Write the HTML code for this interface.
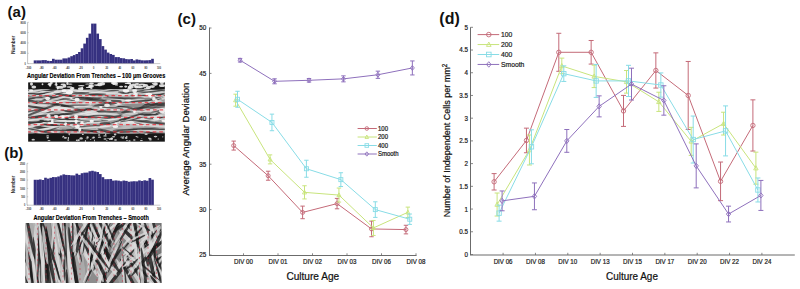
<!DOCTYPE html>
<html><head><meta charset="utf-8"><title>Figure</title>
<style>html,body{margin:0;padding:0;background:#fff;width:800px;height:289px;overflow:hidden}svg{display:block}svg text{font-family:"Liberation Sans",sans-serif}</style>
</head><body>
<svg width="800" height="289" viewBox="0 0 800 289">
<rect width="800" height="289" fill="#fff"/>
<defs><filter id="sb" filterUnits="userSpaceOnUse" x="0" y="0" width="800" height="289"><feGaussianBlur stdDeviation="0.3"/></filter></defs>
<text x="7.60" y="16.60" font-size="15" text-anchor="start" font-weight="bold" fill="#111" >(a)</text>
<rect x="33.72" y="60.40" width="2.66" height="3.20" fill="#36317f"/>
<rect x="36.33" y="60.40" width="2.66" height="3.20" fill="#36317f"/>
<rect x="38.94" y="60.40" width="2.66" height="3.20" fill="#36317f"/>
<rect x="41.55" y="60.10" width="2.66" height="3.50" fill="#36317f"/>
<rect x="44.16" y="60.10" width="2.66" height="3.50" fill="#36317f"/>
<rect x="46.77" y="60.80" width="2.66" height="2.80" fill="#36317f"/>
<rect x="49.38" y="61.00" width="2.66" height="2.60" fill="#36317f"/>
<rect x="51.99" y="58.80" width="2.66" height="4.80" fill="#36317f"/>
<rect x="54.60" y="59.70" width="2.66" height="3.90" fill="#36317f"/>
<rect x="57.21" y="59.70" width="2.66" height="3.90" fill="#36317f"/>
<rect x="59.82" y="59.70" width="2.66" height="3.90" fill="#36317f"/>
<rect x="62.43" y="58.40" width="2.66" height="5.20" fill="#36317f"/>
<rect x="65.04" y="58.40" width="2.66" height="5.20" fill="#36317f"/>
<rect x="67.65" y="57.50" width="2.66" height="6.10" fill="#36317f"/>
<rect x="70.26" y="56.20" width="2.66" height="7.40" fill="#36317f"/>
<rect x="72.87" y="55.10" width="2.66" height="8.50" fill="#36317f"/>
<rect x="75.48" y="54.00" width="2.66" height="9.60" fill="#36317f"/>
<rect x="78.09" y="52.00" width="2.66" height="11.60" fill="#36317f"/>
<rect x="80.70" y="48.30" width="2.66" height="15.30" fill="#36317f"/>
<rect x="83.31" y="43.60" width="2.66" height="20.00" fill="#36317f"/>
<rect x="85.92" y="37.80" width="2.66" height="25.80" fill="#36317f"/>
<rect x="88.53" y="33.60" width="2.66" height="30.00" fill="#36317f"/>
<rect x="91.14" y="23.60" width="2.66" height="40.00" fill="#36317f"/>
<rect x="93.75" y="23.60" width="2.66" height="40.00" fill="#36317f"/>
<rect x="96.36" y="33.60" width="2.66" height="30.00" fill="#36317f"/>
<rect x="98.97" y="39.10" width="2.66" height="24.50" fill="#36317f"/>
<rect x="101.58" y="46.10" width="2.66" height="17.50" fill="#36317f"/>
<rect x="104.19" y="49.60" width="2.66" height="14.00" fill="#36317f"/>
<rect x="106.80" y="52.60" width="2.66" height="11.00" fill="#36317f"/>
<rect x="109.41" y="54.00" width="2.66" height="9.60" fill="#36317f"/>
<rect x="112.02" y="54.90" width="2.66" height="8.70" fill="#36317f"/>
<rect x="114.63" y="57.10" width="2.66" height="6.50" fill="#36317f"/>
<rect x="117.24" y="57.10" width="2.66" height="6.50" fill="#36317f"/>
<rect x="119.85" y="58.10" width="2.66" height="5.50" fill="#36317f"/>
<rect x="122.46" y="58.30" width="2.66" height="5.30" fill="#36317f"/>
<rect x="125.07" y="59.10" width="2.66" height="4.50" fill="#36317f"/>
<rect x="127.68" y="59.30" width="2.66" height="4.30" fill="#36317f"/>
<rect x="130.29" y="59.00" width="2.66" height="4.60" fill="#36317f"/>
<rect x="132.90" y="60.40" width="2.66" height="3.20" fill="#36317f"/>
<rect x="135.51" y="59.40" width="2.66" height="4.20" fill="#36317f"/>
<rect x="138.12" y="59.80" width="2.66" height="3.80" fill="#36317f"/>
<rect x="140.73" y="60.30" width="2.66" height="3.30" fill="#36317f"/>
<rect x="143.34" y="60.40" width="2.66" height="3.20" fill="#36317f"/>
<rect x="145.95" y="60.30" width="2.66" height="3.30" fill="#36317f"/>
<rect x="148.56" y="60.10" width="2.66" height="3.50" fill="#36317f"/>
<rect x="151.17" y="58.80" width="2.66" height="4.80" fill="#36317f"/>
<line x1="36.33" y1="60.90" x2="36.33" y2="63.60" stroke="#47429a" stroke-width="0.3"/>
<line x1="38.94" y1="60.90" x2="38.94" y2="63.60" stroke="#47429a" stroke-width="0.3"/>
<line x1="41.55" y1="60.90" x2="41.55" y2="63.60" stroke="#47429a" stroke-width="0.3"/>
<line x1="44.16" y1="60.60" x2="44.16" y2="63.60" stroke="#47429a" stroke-width="0.3"/>
<line x1="46.77" y1="61.30" x2="46.77" y2="63.60" stroke="#47429a" stroke-width="0.3"/>
<line x1="49.38" y1="61.50" x2="49.38" y2="63.60" stroke="#47429a" stroke-width="0.3"/>
<line x1="51.99" y1="61.50" x2="51.99" y2="63.60" stroke="#47429a" stroke-width="0.3"/>
<line x1="54.60" y1="60.20" x2="54.60" y2="63.60" stroke="#47429a" stroke-width="0.3"/>
<line x1="57.21" y1="60.20" x2="57.21" y2="63.60" stroke="#47429a" stroke-width="0.3"/>
<line x1="59.82" y1="60.20" x2="59.82" y2="63.60" stroke="#47429a" stroke-width="0.3"/>
<line x1="62.43" y1="60.20" x2="62.43" y2="63.60" stroke="#47429a" stroke-width="0.3"/>
<line x1="65.04" y1="58.90" x2="65.04" y2="63.60" stroke="#47429a" stroke-width="0.3"/>
<line x1="67.65" y1="58.90" x2="67.65" y2="63.60" stroke="#47429a" stroke-width="0.3"/>
<line x1="70.26" y1="58.00" x2="70.26" y2="63.60" stroke="#47429a" stroke-width="0.3"/>
<line x1="72.87" y1="56.70" x2="72.87" y2="63.60" stroke="#47429a" stroke-width="0.3"/>
<line x1="75.48" y1="55.60" x2="75.48" y2="63.60" stroke="#47429a" stroke-width="0.3"/>
<line x1="78.09" y1="54.50" x2="78.09" y2="63.60" stroke="#47429a" stroke-width="0.3"/>
<line x1="80.70" y1="52.50" x2="80.70" y2="63.60" stroke="#47429a" stroke-width="0.3"/>
<line x1="83.31" y1="48.80" x2="83.31" y2="63.60" stroke="#47429a" stroke-width="0.3"/>
<line x1="85.92" y1="44.10" x2="85.92" y2="63.60" stroke="#47429a" stroke-width="0.3"/>
<line x1="88.53" y1="38.30" x2="88.53" y2="63.60" stroke="#47429a" stroke-width="0.3"/>
<line x1="91.14" y1="34.10" x2="91.14" y2="63.60" stroke="#47429a" stroke-width="0.3"/>
<line x1="93.75" y1="24.10" x2="93.75" y2="63.60" stroke="#47429a" stroke-width="0.3"/>
<line x1="96.36" y1="34.10" x2="96.36" y2="63.60" stroke="#47429a" stroke-width="0.3"/>
<line x1="98.97" y1="39.60" x2="98.97" y2="63.60" stroke="#47429a" stroke-width="0.3"/>
<line x1="101.58" y1="46.60" x2="101.58" y2="63.60" stroke="#47429a" stroke-width="0.3"/>
<line x1="104.19" y1="50.10" x2="104.19" y2="63.60" stroke="#47429a" stroke-width="0.3"/>
<line x1="106.80" y1="53.10" x2="106.80" y2="63.60" stroke="#47429a" stroke-width="0.3"/>
<line x1="109.41" y1="54.50" x2="109.41" y2="63.60" stroke="#47429a" stroke-width="0.3"/>
<line x1="112.02" y1="55.40" x2="112.02" y2="63.60" stroke="#47429a" stroke-width="0.3"/>
<line x1="114.63" y1="57.60" x2="114.63" y2="63.60" stroke="#47429a" stroke-width="0.3"/>
<line x1="117.24" y1="57.60" x2="117.24" y2="63.60" stroke="#47429a" stroke-width="0.3"/>
<line x1="119.85" y1="58.60" x2="119.85" y2="63.60" stroke="#47429a" stroke-width="0.3"/>
<line x1="122.46" y1="58.80" x2="122.46" y2="63.60" stroke="#47429a" stroke-width="0.3"/>
<line x1="125.07" y1="59.60" x2="125.07" y2="63.60" stroke="#47429a" stroke-width="0.3"/>
<line x1="127.68" y1="59.80" x2="127.68" y2="63.60" stroke="#47429a" stroke-width="0.3"/>
<line x1="130.29" y1="59.80" x2="130.29" y2="63.60" stroke="#47429a" stroke-width="0.3"/>
<line x1="132.90" y1="60.90" x2="132.90" y2="63.60" stroke="#47429a" stroke-width="0.3"/>
<line x1="135.51" y1="60.90" x2="135.51" y2="63.60" stroke="#47429a" stroke-width="0.3"/>
<line x1="138.12" y1="60.30" x2="138.12" y2="63.60" stroke="#47429a" stroke-width="0.3"/>
<line x1="140.73" y1="60.80" x2="140.73" y2="63.60" stroke="#47429a" stroke-width="0.3"/>
<line x1="143.34" y1="60.90" x2="143.34" y2="63.60" stroke="#47429a" stroke-width="0.3"/>
<line x1="145.95" y1="60.90" x2="145.95" y2="63.60" stroke="#47429a" stroke-width="0.3"/>
<line x1="148.56" y1="60.80" x2="148.56" y2="63.60" stroke="#47429a" stroke-width="0.3"/>
<line x1="151.17" y1="60.60" x2="151.17" y2="63.60" stroke="#47429a" stroke-width="0.3"/>
<line x1="27.6" y1="22.3" x2="27.6" y2="63.6" stroke="#999" stroke-width="0.6"/>
<line x1="27.6" y1="63.6" x2="160.31" y2="63.6" stroke="#aaa" stroke-width="0.6"/>
<line x1="27.6" y1="63.60" x2="28.8" y2="63.60" stroke="#999" stroke-width="0.5"/>
<text x="25.80" y="64.80" font-size="3.5" text-anchor="end" font-weight="bold" fill="#333" textLength="1.32" lengthAdjust="spacingAndGlyphs" >0</text>
<line x1="27.6" y1="53.28" x2="28.8" y2="53.28" stroke="#999" stroke-width="0.5"/>
<text x="25.80" y="54.48" font-size="3.5" text-anchor="end" font-weight="bold" fill="#333" textLength="5.28" lengthAdjust="spacingAndGlyphs" >2000</text>
<line x1="27.6" y1="42.95" x2="28.8" y2="42.95" stroke="#999" stroke-width="0.5"/>
<text x="25.80" y="44.15" font-size="3.5" text-anchor="end" font-weight="bold" fill="#333" textLength="5.28" lengthAdjust="spacingAndGlyphs" >4000</text>
<line x1="27.6" y1="32.62" x2="28.8" y2="32.62" stroke="#999" stroke-width="0.5"/>
<text x="25.80" y="33.83" font-size="3.5" text-anchor="end" font-weight="bold" fill="#333" textLength="5.28" lengthAdjust="spacingAndGlyphs" >6000</text>
<line x1="27.6" y1="22.30" x2="28.8" y2="22.30" stroke="#999" stroke-width="0.5"/>
<text x="25.80" y="23.50" font-size="3.5" text-anchor="end" font-weight="bold" fill="#333" textLength="5.28" lengthAdjust="spacingAndGlyphs" >8000</text>
<text x="28.50" y="68.60" font-size="3.5" text-anchor="middle" font-weight="bold" fill="#333" textLength="5.4" lengthAdjust="spacingAndGlyphs" >-100</text>
<text x="41.55" y="68.60" font-size="3.5" text-anchor="middle" font-weight="bold" fill="#333" textLength="4.05" lengthAdjust="spacingAndGlyphs" >-80</text>
<text x="54.60" y="68.60" font-size="3.5" text-anchor="middle" font-weight="bold" fill="#333" textLength="4.05" lengthAdjust="spacingAndGlyphs" >-60</text>
<text x="67.65" y="68.60" font-size="3.5" text-anchor="middle" font-weight="bold" fill="#333" textLength="4.05" lengthAdjust="spacingAndGlyphs" >-40</text>
<text x="80.70" y="68.60" font-size="3.5" text-anchor="middle" font-weight="bold" fill="#333" textLength="4.05" lengthAdjust="spacingAndGlyphs" >-20</text>
<text x="93.75" y="68.60" font-size="3.5" text-anchor="middle" font-weight="bold" fill="#333" textLength="1.35" lengthAdjust="spacingAndGlyphs" >0</text>
<text x="106.80" y="68.60" font-size="3.5" text-anchor="middle" font-weight="bold" fill="#333" textLength="2.7" lengthAdjust="spacingAndGlyphs" >20</text>
<text x="119.85" y="68.60" font-size="3.5" text-anchor="middle" font-weight="bold" fill="#333" textLength="2.7" lengthAdjust="spacingAndGlyphs" >40</text>
<text x="132.90" y="68.60" font-size="3.5" text-anchor="middle" font-weight="bold" fill="#333" textLength="2.7" lengthAdjust="spacingAndGlyphs" >60</text>
<text x="145.95" y="68.60" font-size="3.5" text-anchor="middle" font-weight="bold" fill="#333" textLength="2.7" lengthAdjust="spacingAndGlyphs" >80</text>
<text x="159.00" y="68.60" font-size="3.5" text-anchor="middle" font-weight="bold" fill="#333" textLength="4.05" lengthAdjust="spacingAndGlyphs" >100</text>
<text x="15.40" y="44.80" font-size="4.6" text-anchor="middle" font-weight="bold" fill="#333" textLength="18.6" lengthAdjust="spacingAndGlyphs" transform="rotate(-90 15.4 44.8)">Number</text>
<text x="27.10" y="78.00" font-size="6.7" text-anchor="start" font-weight="bold" fill="#000" stroke="#000" stroke-width="0.15" textLength="138.2" lengthAdjust="spacingAndGlyphs" >Angular Deviation From Trenches – 100 μm Grooves</text>
<clipPath id="clipa"><rect x="28.1" y="82.3" width="136.8" height="59.5"/></clipPath>
<filter id="bla" x="0" y="0" width="1" height="1"><feGaussianBlur stdDeviation="0.5"/></filter>
<g clip-path="url(#clipa)"><g filter="url(#bla)">
<rect x="28.1" y="82.3" width="136.8" height="59.5" fill="#9e9e9e"/>
<ellipse cx="72.4" cy="95.2" rx="9.0" ry="3.6" fill="#b8b8b8" opacity="0.7" transform="rotate(-4.4 72.4 95.2)"/>
<ellipse cx="97.5" cy="90.0" rx="13.9" ry="2.7" fill="#888" opacity="0.7" transform="rotate(-1.5 97.5 90.0)"/>
<ellipse cx="103.5" cy="91.0" rx="21.3" ry="3.9" fill="#b8b8b8" opacity="0.7" transform="rotate(-4.9 103.5 91.0)"/>
<ellipse cx="108.2" cy="90.6" rx="8.7" ry="4.6" fill="#c8c8c8" opacity="0.7" transform="rotate(-4.1 108.2 90.6)"/>
<ellipse cx="67.7" cy="94.9" rx="16.0" ry="3.7" fill="#b8b8b8" opacity="0.7" transform="rotate(-4.2 67.7 94.9)"/>
<ellipse cx="106.2" cy="96.8" rx="15.7" ry="2.2" fill="#b8b8b8" opacity="0.7" transform="rotate(-5.5 106.2 96.8)"/>
<ellipse cx="36.3" cy="97.7" rx="18.9" ry="3.4" fill="#888" opacity="0.7" transform="rotate(2.0 36.3 97.7)"/>
<ellipse cx="62.1" cy="96.5" rx="9.1" ry="2.9" fill="#c8c8c8" opacity="0.7" transform="rotate(-5.6 62.1 96.5)"/>
<ellipse cx="95.8" cy="103.9" rx="12.0" ry="4.9" fill="#888" opacity="0.7" transform="rotate(1.6 95.8 103.9)"/>
<ellipse cx="131.7" cy="95.2" rx="13.9" ry="4.9" fill="#888" opacity="0.7" transform="rotate(1.2 131.7 95.2)"/>
<ellipse cx="38.7" cy="113.7" rx="12.8" ry="3.1" fill="#7a7a7a" opacity="0.7" transform="rotate(-13.7 38.7 113.7)"/>
<ellipse cx="37.5" cy="92.6" rx="14.6" ry="4.0" fill="#7a7a7a" opacity="0.7" transform="rotate(-2.8 37.5 92.6)"/>
<ellipse cx="36.4" cy="120.2" rx="12.0" ry="3.2" fill="#888" opacity="0.7" transform="rotate(-3.6 36.4 120.2)"/>
<ellipse cx="91.3" cy="95.9" rx="14.9" ry="2.7" fill="#b8b8b8" opacity="0.7" transform="rotate(-4.1 91.3 95.9)"/>
<ellipse cx="67.4" cy="121.9" rx="13.5" ry="4.6" fill="#888" opacity="0.7" transform="rotate(2.7 67.4 121.9)"/>
<ellipse cx="103.3" cy="128.5" rx="20.1" ry="2.8" fill="#888" opacity="0.7" transform="rotate(0.2 103.3 128.5)"/>
<ellipse cx="84.9" cy="104.6" rx="21.4" ry="2.5" fill="#888" opacity="0.7" transform="rotate(-1.1 84.9 104.6)"/>
<ellipse cx="60.0" cy="110.4" rx="11.7" ry="2.0" fill="#c8c8c8" opacity="0.7" transform="rotate(0.9 60.0 110.4)"/>
<ellipse cx="85.4" cy="105.1" rx="21.3" ry="4.1" fill="#7a7a7a" opacity="0.7" transform="rotate(-11.3 85.4 105.1)"/>
<ellipse cx="120.6" cy="90.8" rx="13.6" ry="3.2" fill="#888" opacity="0.7" transform="rotate(-3.8 120.6 90.8)"/>
<ellipse cx="94.0" cy="106.5" rx="8.9" ry="2.6" fill="#c8c8c8" opacity="0.7" transform="rotate(-0.1 94.0 106.5)"/>
<ellipse cx="35.3" cy="88.3" rx="15.5" ry="4.8" fill="#c8c8c8" opacity="0.7" transform="rotate(1.7 35.3 88.3)"/>
<ellipse cx="112.1" cy="91.5" rx="16.6" ry="2.4" fill="#c8c8c8" opacity="0.7" transform="rotate(-3.1 112.1 91.5)"/>
<ellipse cx="77.9" cy="93.9" rx="21.9" ry="3.4" fill="#888" opacity="0.7" transform="rotate(2.5 77.9 93.9)"/>
<ellipse cx="94.3" cy="92.2" rx="18.5" ry="4.2" fill="#b8b8b8" opacity="0.7" transform="rotate(-12.1 94.3 92.2)"/>
<ellipse cx="98.7" cy="97.6" rx="10.1" ry="3.6" fill="#7a7a7a" opacity="0.7" transform="rotate(-1.8 98.7 97.6)"/>
<ellipse cx="31.8" cy="112.3" rx="17.7" ry="2.8" fill="#b8b8b8" opacity="0.7" transform="rotate(-5.4 31.8 112.3)"/>
<ellipse cx="133.7" cy="112.5" rx="16.9" ry="3.8" fill="#7a7a7a" opacity="0.7" transform="rotate(-0.3 133.7 112.5)"/>
<ellipse cx="136.0" cy="122.8" rx="19.3" ry="4.5" fill="#c8c8c8" opacity="0.7" transform="rotate(-3.3 136.0 122.8)"/>
<ellipse cx="98.9" cy="104.5" rx="21.9" ry="4.4" fill="#b8b8b8" opacity="0.7" transform="rotate(-7.3 98.9 104.5)"/>
<ellipse cx="92.7" cy="97.1" rx="14.3" ry="4.8" fill="#7a7a7a" opacity="0.7" transform="rotate(11.9 92.7 97.1)"/>
<ellipse cx="78.0" cy="98.3" rx="14.6" ry="3.0" fill="#c8c8c8" opacity="0.7" transform="rotate(-4.1 78.0 98.3)"/>
<ellipse cx="94.1" cy="133.1" rx="14.7" ry="4.0" fill="#b8b8b8" opacity="0.7" transform="rotate(-2.2 94.1 133.1)"/>
<ellipse cx="118.5" cy="129.7" rx="14.7" ry="2.5" fill="#c8c8c8" opacity="0.7" transform="rotate(-5.4 118.5 129.7)"/>
<ellipse cx="136.1" cy="103.4" rx="14.5" ry="4.2" fill="#888" opacity="0.7" transform="rotate(0.0 136.1 103.4)"/>
<ellipse cx="164.0" cy="89.6" rx="19.3" ry="2.4" fill="#888" opacity="0.7" transform="rotate(-1.2 164.0 89.6)"/>
<ellipse cx="141.2" cy="132.9" rx="10.2" ry="3.6" fill="#7a7a7a" opacity="0.7" transform="rotate(7.7 141.2 132.9)"/>
<ellipse cx="127.5" cy="93.0" rx="14.1" ry="4.6" fill="#c8c8c8" opacity="0.7" transform="rotate(-1.6 127.5 93.0)"/>
<ellipse cx="141.1" cy="97.9" rx="11.0" ry="3.5" fill="#7a7a7a" opacity="0.7" transform="rotate(-2.5 141.1 97.9)"/>
<ellipse cx="102.6" cy="126.3" rx="20.7" ry="3.1" fill="#b8b8b8" opacity="0.7" transform="rotate(-8.3 102.6 126.3)"/>
<ellipse cx="90.6" cy="117.0" rx="20.8" ry="0.9" fill="#e6e6e6" opacity="0.72" transform="rotate(4.2 90.6 117.0)"/>
<ellipse cx="90.8" cy="115.0" rx="19.8" ry="0.8" fill="#2c2c2c" opacity="0.72" transform="rotate(4.2 90.8 115.0)"/>
<ellipse cx="101.1" cy="114.2" rx="5.3" ry="1.0" fill="#e6e6e6" opacity="0.72" transform="rotate(-7.1 101.1 114.2)"/>
<ellipse cx="100.9" cy="112.2" rx="5.1" ry="0.8" fill="#2c2c2c" opacity="0.72" transform="rotate(-7.1 100.9 112.2)"/>
<ellipse cx="53.5" cy="89.0" rx="19.0" ry="0.7" fill="#e6e6e6" opacity="0.72" transform="rotate(-14.1 53.5 89.0)"/>
<ellipse cx="53.1" cy="87.5" rx="18.0" ry="0.6" fill="#2c2c2c" opacity="0.72" transform="rotate(-14.1 53.1 87.5)"/>
<ellipse cx="104.3" cy="105.0" rx="14.1" ry="1.1" fill="#e6e6e6" opacity="0.72" transform="rotate(-1.1 104.3 105.0)"/>
<ellipse cx="104.2" cy="102.8" rx="13.4" ry="0.9" fill="#2c2c2c" opacity="0.72" transform="rotate(-1.1 104.2 102.8)"/>
<ellipse cx="135.5" cy="94.1" rx="14.8" ry="0.7" fill="#e6e6e6" opacity="0.72" transform="rotate(-5.0 135.5 94.1)"/>
<ellipse cx="135.4" cy="92.3" rx="14.1" ry="0.6" fill="#2c2c2c" opacity="0.72" transform="rotate(-5.0 135.4 92.3)"/>
<ellipse cx="97.1" cy="116.7" rx="18.3" ry="1.5" fill="#e6e6e6" opacity="0.72" transform="rotate(8.9 97.1 116.7)"/>
<ellipse cx="97.6" cy="114.0" rx="17.4" ry="1.2" fill="#2c2c2c" opacity="0.72" transform="rotate(8.9 97.6 114.0)"/>
<ellipse cx="89.0" cy="118.5" rx="13.8" ry="1.0" fill="#e6e6e6" opacity="0.72" transform="rotate(-5.7 89.0 118.5)"/>
<ellipse cx="88.7" cy="116.4" rx="13.2" ry="0.9" fill="#2c2c2c" opacity="0.72" transform="rotate(-5.7 88.7 116.4)"/>
<ellipse cx="101.5" cy="112.4" rx="21.5" ry="1.2" fill="#e6e6e6" opacity="0.72" transform="rotate(-10.2 101.5 112.4)"/>
<ellipse cx="101.1" cy="110.0" rx="20.4" ry="1.0" fill="#2c2c2c" opacity="0.72" transform="rotate(-10.2 101.1 110.0)"/>
<ellipse cx="147.6" cy="134.2" rx="9.5" ry="1.1" fill="#e6e6e6" opacity="0.72" transform="rotate(9.6 147.6 134.2)"/>
<ellipse cx="148.0" cy="132.1" rx="9.1" ry="0.9" fill="#2c2c2c" opacity="0.72" transform="rotate(9.6 148.0 132.1)"/>
<ellipse cx="47.1" cy="94.5" rx="12.7" ry="0.6" fill="#e6e6e6" opacity="0.72" transform="rotate(-7.7 47.1 94.5)"/>
<ellipse cx="46.9" cy="93.1" rx="12.1" ry="0.5" fill="#2c2c2c" opacity="0.72" transform="rotate(-7.7 46.9 93.1)"/>
<ellipse cx="61.0" cy="93.4" rx="16.7" ry="1.3" fill="#e6e6e6" opacity="0.72" transform="rotate(0.2 61.0 93.4)"/>
<ellipse cx="61.0" cy="90.8" rx="15.9" ry="1.1" fill="#2c2c2c" opacity="0.72" transform="rotate(0.2 61.0 90.8)"/>
<ellipse cx="126.3" cy="121.4" rx="7.5" ry="1.4" fill="#e6e6e6" opacity="0.72" transform="rotate(-5.4 126.3 121.4)"/>
<ellipse cx="126.1" cy="118.7" rx="7.1" ry="1.2" fill="#2c2c2c" opacity="0.72" transform="rotate(-5.4 126.1 118.7)"/>
<ellipse cx="161.3" cy="99.5" rx="21.7" ry="0.9" fill="#e6e6e6" opacity="0.72" transform="rotate(-24.1 161.3 99.5)"/>
<ellipse cx="160.5" cy="97.7" rx="20.6" ry="0.8" fill="#2c2c2c" opacity="0.72" transform="rotate(-24.1 160.5 97.7)"/>
<ellipse cx="142.0" cy="97.1" rx="12.6" ry="1.0" fill="#e6e6e6" opacity="0.72" transform="rotate(-1.3 142.0 97.1)"/>
<ellipse cx="142.0" cy="95.0" rx="11.9" ry="0.9" fill="#2c2c2c" opacity="0.72" transform="rotate(-1.3 142.0 95.0)"/>
<ellipse cx="74.2" cy="99.1" rx="10.6" ry="1.3" fill="#e6e6e6" opacity="0.72" transform="rotate(5.8 74.2 99.1)"/>
<ellipse cx="74.5" cy="96.6" rx="10.0" ry="1.0" fill="#2c2c2c" opacity="0.72" transform="rotate(5.8 74.5 96.6)"/>
<ellipse cx="88.4" cy="90.5" rx="10.8" ry="1.2" fill="#e6e6e6" opacity="0.72" transform="rotate(-1.9 88.4 90.5)"/>
<ellipse cx="88.4" cy="88.2" rx="10.3" ry="1.0" fill="#2c2c2c" opacity="0.72" transform="rotate(-1.9 88.4 88.2)"/>
<ellipse cx="98.2" cy="93.0" rx="22.2" ry="1.3" fill="#e6e6e6" opacity="0.72" transform="rotate(0.2 98.2 93.0)"/>
<ellipse cx="98.2" cy="90.4" rx="21.1" ry="1.1" fill="#2c2c2c" opacity="0.72" transform="rotate(0.2 98.2 90.4)"/>
<ellipse cx="64.5" cy="90.9" rx="18.6" ry="0.8" fill="#e6e6e6" opacity="0.72" transform="rotate(-3.6 64.5 90.9)"/>
<ellipse cx="64.4" cy="89.2" rx="17.7" ry="0.6" fill="#2c2c2c" opacity="0.72" transform="rotate(-3.6 64.4 89.2)"/>
<ellipse cx="46.0" cy="110.0" rx="20.9" ry="1.4" fill="#e6e6e6" opacity="0.72" transform="rotate(-3.2 46.0 110.0)"/>
<ellipse cx="45.8" cy="107.4" rx="19.9" ry="1.1" fill="#2c2c2c" opacity="0.72" transform="rotate(-3.2 45.8 107.4)"/>
<ellipse cx="153.8" cy="115.9" rx="17.3" ry="0.6" fill="#e6e6e6" opacity="0.72" transform="rotate(1.0 153.8 115.9)"/>
<ellipse cx="153.8" cy="114.4" rx="16.4" ry="0.5" fill="#2c2c2c" opacity="0.72" transform="rotate(1.0 153.8 114.4)"/>
<ellipse cx="35.8" cy="121.4" rx="12.4" ry="0.6" fill="#e6e6e6" opacity="0.72" transform="rotate(6.2 35.8 121.4)"/>
<ellipse cx="36.0" cy="120.0" rx="11.8" ry="0.5" fill="#2c2c2c" opacity="0.72" transform="rotate(6.2 36.0 120.0)"/>
<ellipse cx="137.9" cy="92.7" rx="20.0" ry="0.6" fill="#e6e6e6" opacity="0.72" transform="rotate(-6.8 137.9 92.7)"/>
<ellipse cx="137.8" cy="91.3" rx="19.0" ry="0.5" fill="#2c2c2c" opacity="0.72" transform="rotate(-6.8 137.8 91.3)"/>
<ellipse cx="146.1" cy="111.1" rx="10.9" ry="1.1" fill="#e6e6e6" opacity="0.72" transform="rotate(2.0 146.1 111.1)"/>
<ellipse cx="146.1" cy="108.9" rx="10.4" ry="0.9" fill="#2c2c2c" opacity="0.72" transform="rotate(2.0 146.1 108.9)"/>
<ellipse cx="45.9" cy="113.8" rx="9.2" ry="0.6" fill="#e6e6e6" opacity="0.72" transform="rotate(-5.5 45.9 113.8)"/>
<ellipse cx="45.8" cy="112.3" rx="8.7" ry="0.5" fill="#2c2c2c" opacity="0.72" transform="rotate(-5.5 45.8 112.3)"/>
<ellipse cx="50.4" cy="91.5" rx="8.5" ry="0.8" fill="#e6e6e6" opacity="0.72" transform="rotate(-7.0 50.4 91.5)"/>
<ellipse cx="50.2" cy="89.7" rx="8.1" ry="0.7" fill="#2c2c2c" opacity="0.72" transform="rotate(-7.0 50.2 89.7)"/>
<ellipse cx="67.5" cy="112.9" rx="8.1" ry="0.9" fill="#e6e6e6" opacity="0.72" transform="rotate(8.1 67.5 112.9)"/>
<ellipse cx="67.8" cy="111.1" rx="7.7" ry="0.7" fill="#2c2c2c" opacity="0.72" transform="rotate(8.1 67.8 111.1)"/>
<ellipse cx="30.9" cy="101.7" rx="5.3" ry="1.3" fill="#e6e6e6" opacity="0.72" transform="rotate(-7.3 30.9 101.7)"/>
<ellipse cx="30.6" cy="99.2" rx="5.0" ry="1.1" fill="#2c2c2c" opacity="0.72" transform="rotate(-7.3 30.6 99.2)"/>
<ellipse cx="93.3" cy="134.3" rx="6.9" ry="1.4" fill="#e6e6e6" opacity="0.72" transform="rotate(-4.4 93.3 134.3)"/>
<ellipse cx="93.0" cy="131.7" rx="6.5" ry="1.1" fill="#2c2c2c" opacity="0.72" transform="rotate(-4.4 93.0 131.7)"/>
<ellipse cx="87.7" cy="112.7" rx="19.6" ry="0.9" fill="#e6e6e6" opacity="0.72" transform="rotate(-13.7 87.7 112.7)"/>
<ellipse cx="87.2" cy="110.8" rx="18.6" ry="0.8" fill="#2c2c2c" opacity="0.72" transform="rotate(-13.7 87.2 110.8)"/>
<ellipse cx="162.6" cy="106.0" rx="19.6" ry="1.2" fill="#e6e6e6" opacity="0.72" transform="rotate(-3.4 162.6 106.0)"/>
<ellipse cx="162.5" cy="103.6" rx="18.6" ry="1.0" fill="#2c2c2c" opacity="0.72" transform="rotate(-3.4 162.5 103.6)"/>
<ellipse cx="115.1" cy="107.9" rx="11.1" ry="0.5" fill="#e6e6e6" opacity="0.72" transform="rotate(-1.2 115.1 107.9)"/>
<ellipse cx="115.1" cy="106.5" rx="10.5" ry="0.4" fill="#2c2c2c" opacity="0.72" transform="rotate(-1.2 115.1 106.5)"/>
<ellipse cx="129.5" cy="100.9" rx="7.9" ry="0.6" fill="#e6e6e6" opacity="0.72" transform="rotate(-1.0 129.5 100.9)"/>
<ellipse cx="129.5" cy="99.4" rx="7.5" ry="0.5" fill="#2c2c2c" opacity="0.72" transform="rotate(-1.0 129.5 99.4)"/>
<ellipse cx="143.3" cy="130.4" rx="16.7" ry="0.8" fill="#e6e6e6" opacity="0.72" transform="rotate(-2.7 143.3 130.4)"/>
<ellipse cx="143.2" cy="128.7" rx="15.9" ry="0.7" fill="#2c2c2c" opacity="0.72" transform="rotate(-2.7 143.2 128.7)"/>
<ellipse cx="90.9" cy="96.5" rx="12.8" ry="0.8" fill="#e6e6e6" opacity="0.72" transform="rotate(2.8 90.9 96.5)"/>
<ellipse cx="91.0" cy="94.8" rx="12.2" ry="0.6" fill="#2c2c2c" opacity="0.72" transform="rotate(2.8 91.0 94.8)"/>
<ellipse cx="159.6" cy="135.2" rx="14.6" ry="0.7" fill="#e6e6e6" opacity="0.72" transform="rotate(2.9 159.6 135.2)"/>
<ellipse cx="159.7" cy="133.5" rx="13.8" ry="0.6" fill="#2c2c2c" opacity="0.72" transform="rotate(2.9 159.7 133.5)"/>
<ellipse cx="77.0" cy="89.4" rx="11.7" ry="1.0" fill="#e6e6e6" opacity="0.72" transform="rotate(-4.3 77.0 89.4)"/>
<ellipse cx="76.9" cy="87.4" rx="11.1" ry="0.8" fill="#2c2c2c" opacity="0.72" transform="rotate(-4.3 76.9 87.4)"/>
<ellipse cx="97.0" cy="98.2" rx="13.8" ry="0.5" fill="#e6e6e6" opacity="0.72" transform="rotate(-3.3 97.0 98.2)"/>
<ellipse cx="96.9" cy="96.8" rx="13.1" ry="0.4" fill="#2c2c2c" opacity="0.72" transform="rotate(-3.3 96.9 96.8)"/>
<ellipse cx="82.8" cy="91.1" rx="5.4" ry="0.8" fill="#e6e6e6" opacity="0.72" transform="rotate(0.0 82.8 91.1)"/>
<ellipse cx="82.8" cy="89.3" rx="5.1" ry="0.7" fill="#2c2c2c" opacity="0.72" transform="rotate(0.0 82.8 89.3)"/>
<ellipse cx="60.3" cy="117.6" rx="14.3" ry="1.3" fill="#e6e6e6" opacity="0.72" transform="rotate(-9.1 60.3 117.6)"/>
<ellipse cx="59.9" cy="115.1" rx="13.5" ry="1.1" fill="#2c2c2c" opacity="0.72" transform="rotate(-9.1 59.9 115.1)"/>
<ellipse cx="149.0" cy="108.7" rx="10.7" ry="1.5" fill="#e6e6e6" opacity="0.72" transform="rotate(-12.3 149.0 108.7)"/>
<ellipse cx="148.4" cy="105.8" rx="10.2" ry="1.3" fill="#2c2c2c" opacity="0.72" transform="rotate(-12.3 148.4 105.8)"/>
<ellipse cx="48.4" cy="123.1" rx="16.3" ry="0.5" fill="#e6e6e6" opacity="0.72" transform="rotate(4.5 48.4 123.1)"/>
<ellipse cx="48.5" cy="121.7" rx="15.4" ry="0.4" fill="#2c2c2c" opacity="0.72" transform="rotate(4.5 48.5 121.7)"/>
<ellipse cx="114.3" cy="123.6" rx="19.2" ry="0.6" fill="#e6e6e6" opacity="0.72" transform="rotate(-15.7 114.3 123.6)"/>
<ellipse cx="113.9" cy="122.2" rx="18.3" ry="0.5" fill="#2c2c2c" opacity="0.72" transform="rotate(-15.7 113.9 122.2)"/>
<ellipse cx="99.7" cy="113.9" rx="19.6" ry="1.3" fill="#e6e6e6" opacity="0.72" transform="rotate(1.3 99.7 113.9)"/>
<ellipse cx="99.7" cy="111.3" rx="18.6" ry="1.1" fill="#2c2c2c" opacity="0.72" transform="rotate(1.3 99.7 111.3)"/>
<ellipse cx="150.6" cy="121.4" rx="17.1" ry="0.7" fill="#e6e6e6" opacity="0.72" transform="rotate(-11.2 150.6 121.4)"/>
<ellipse cx="150.2" cy="119.7" rx="16.3" ry="0.6" fill="#2c2c2c" opacity="0.72" transform="rotate(-11.2 150.2 119.7)"/>
<ellipse cx="32.3" cy="95.1" rx="11.3" ry="0.6" fill="#e6e6e6" opacity="0.72" transform="rotate(1.6 32.3 95.1)"/>
<ellipse cx="32.4" cy="93.6" rx="10.7" ry="0.5" fill="#2c2c2c" opacity="0.72" transform="rotate(1.6 32.4 93.6)"/>
<ellipse cx="114.4" cy="119.1" rx="16.9" ry="1.0" fill="#e6e6e6" opacity="0.72" transform="rotate(-10.7 114.4 119.1)"/>
<ellipse cx="114.0" cy="117.0" rx="16.1" ry="0.8" fill="#2c2c2c" opacity="0.72" transform="rotate(-10.7 114.0 117.0)"/>
<ellipse cx="29.0" cy="127.3" rx="18.1" ry="1.0" fill="#e6e6e6" opacity="0.72" transform="rotate(-13.0 29.0 127.3)"/>
<ellipse cx="28.6" cy="125.2" rx="17.2" ry="0.9" fill="#2c2c2c" opacity="0.72" transform="rotate(-13.0 28.6 125.2)"/>
<ellipse cx="37.3" cy="123.7" rx="9.4" ry="0.6" fill="#e6e6e6" opacity="0.72" transform="rotate(-5.3 37.3 123.7)"/>
<ellipse cx="37.1" cy="122.3" rx="8.9" ry="0.5" fill="#2c2c2c" opacity="0.72" transform="rotate(-5.3 37.1 122.3)"/>
<ellipse cx="64.2" cy="124.5" rx="8.6" ry="1.3" fill="#e6e6e6" opacity="0.72" transform="rotate(5.1 64.2 124.5)"/>
<ellipse cx="64.4" cy="121.9" rx="8.2" ry="1.1" fill="#2c2c2c" opacity="0.72" transform="rotate(5.1 64.4 121.9)"/>
<ellipse cx="80.6" cy="112.6" rx="17.0" ry="1.3" fill="#e6e6e6" opacity="0.72" transform="rotate(-4.2 80.6 112.6)"/>
<ellipse cx="80.4" cy="110.1" rx="16.1" ry="1.1" fill="#2c2c2c" opacity="0.72" transform="rotate(-4.2 80.4 110.1)"/>
<ellipse cx="112.6" cy="119.4" rx="6.4" ry="0.6" fill="#e6e6e6" opacity="0.72" transform="rotate(-3.3 112.6 119.4)"/>
<ellipse cx="112.5" cy="117.8" rx="6.0" ry="0.5" fill="#2c2c2c" opacity="0.72" transform="rotate(-3.3 112.5 117.8)"/>
<ellipse cx="69.5" cy="115.7" rx="5.2" ry="0.5" fill="#e6e6e6" opacity="0.72" transform="rotate(8.5 69.5 115.7)"/>
<ellipse cx="69.7" cy="114.3" rx="5.0" ry="0.5" fill="#2c2c2c" opacity="0.72" transform="rotate(8.5 69.7 114.3)"/>
<ellipse cx="65.1" cy="121.6" rx="17.1" ry="1.2" fill="#e6e6e6" opacity="0.72" transform="rotate(-5.1 65.1 121.6)"/>
<ellipse cx="64.9" cy="119.2" rx="16.3" ry="1.0" fill="#2c2c2c" opacity="0.72" transform="rotate(-5.1 64.9 119.2)"/>
<ellipse cx="91.4" cy="112.2" rx="7.1" ry="1.4" fill="#e6e6e6" opacity="0.72" transform="rotate(5.2 91.4 112.2)"/>
<ellipse cx="91.7" cy="109.5" rx="6.7" ry="1.2" fill="#2c2c2c" opacity="0.72" transform="rotate(5.2 91.7 109.5)"/>
<ellipse cx="55.7" cy="135.1" rx="21.4" ry="0.5" fill="#e6e6e6" opacity="0.72" transform="rotate(-15.5 55.7 135.1)"/>
<ellipse cx="55.4" cy="133.8" rx="20.3" ry="0.4" fill="#2c2c2c" opacity="0.72" transform="rotate(-15.5 55.4 133.8)"/>
<ellipse cx="160.5" cy="110.3" rx="9.7" ry="0.7" fill="#e6e6e6" opacity="0.72" transform="rotate(0.3 160.5 110.3)"/>
<ellipse cx="160.5" cy="108.6" rx="9.2" ry="0.6" fill="#2c2c2c" opacity="0.72" transform="rotate(0.3 160.5 108.6)"/>
<ellipse cx="158.0" cy="98.8" rx="15.2" ry="0.6" fill="#e6e6e6" opacity="0.72" transform="rotate(-20.1 158.0 98.8)"/>
<ellipse cx="157.5" cy="97.3" rx="14.4" ry="0.5" fill="#2c2c2c" opacity="0.72" transform="rotate(-20.1 157.5 97.3)"/>
<ellipse cx="46.5" cy="129.0" rx="13.9" ry="1.4" fill="#e6e6e6" opacity="0.72" transform="rotate(-5.6 46.5 129.0)"/>
<ellipse cx="46.2" cy="126.3" rx="13.2" ry="1.2" fill="#2c2c2c" opacity="0.72" transform="rotate(-5.6 46.2 126.3)"/>
<ellipse cx="124.4" cy="100.4" rx="20.7" ry="1.0" fill="#e6e6e6" opacity="0.72" transform="rotate(-2.4 124.4 100.4)"/>
<ellipse cx="124.3" cy="98.3" rx="19.7" ry="0.8" fill="#2c2c2c" opacity="0.72" transform="rotate(-2.4 124.3 98.3)"/>
<ellipse cx="95.4" cy="110.3" rx="10.3" ry="0.6" fill="#e6e6e6" opacity="0.72" transform="rotate(-2.9 95.4 110.3)"/>
<ellipse cx="95.4" cy="108.7" rx="9.8" ry="0.5" fill="#2c2c2c" opacity="0.72" transform="rotate(-2.9 95.4 108.7)"/>
<ellipse cx="75.2" cy="103.6" rx="19.7" ry="0.5" fill="#e6e6e6" opacity="0.72" transform="rotate(-2.9 75.2 103.6)"/>
<ellipse cx="75.2" cy="102.3" rx="18.7" ry="0.4" fill="#2c2c2c" opacity="0.72" transform="rotate(-2.9 75.2 102.3)"/>
<ellipse cx="45.3" cy="134.0" rx="17.5" ry="1.5" fill="#e6e6e6" opacity="0.72" transform="rotate(-16.4 45.3 134.0)"/>
<ellipse cx="44.5" cy="131.3" rx="16.6" ry="1.2" fill="#2c2c2c" opacity="0.72" transform="rotate(-16.4 44.5 131.3)"/>
<ellipse cx="68.2" cy="107.9" rx="11.9" ry="1.6" fill="#e6e6e6" opacity="0.72" transform="rotate(-8.6 68.2 107.9)"/>
<ellipse cx="67.7" cy="105.0" rx="11.3" ry="1.3" fill="#2c2c2c" opacity="0.72" transform="rotate(-8.6 67.7 105.0)"/>
<ellipse cx="86.8" cy="101.8" rx="5.8" ry="0.6" fill="#e6e6e6" opacity="0.72" transform="rotate(-6.5 86.8 101.8)"/>
<ellipse cx="86.7" cy="100.4" rx="5.6" ry="0.5" fill="#2c2c2c" opacity="0.72" transform="rotate(-6.5 86.7 100.4)"/>
<ellipse cx="142.4" cy="102.6" rx="21.4" ry="0.7" fill="#e6e6e6" opacity="0.72" transform="rotate(-3.8 142.4 102.6)"/>
<ellipse cx="142.3" cy="100.9" rx="20.3" ry="0.6" fill="#2c2c2c" opacity="0.72" transform="rotate(-3.8 142.3 100.9)"/>
<ellipse cx="53.8" cy="107.8" rx="21.7" ry="1.4" fill="#e6e6e6" opacity="0.72" transform="rotate(5.3 53.8 107.8)"/>
<ellipse cx="54.1" cy="105.0" rx="20.6" ry="1.2" fill="#2c2c2c" opacity="0.72" transform="rotate(5.3 54.1 105.0)"/>
<ellipse cx="139.8" cy="120.0" rx="21.0" ry="1.5" fill="#e6e6e6" opacity="0.72" transform="rotate(-13.6 139.8 120.0)"/>
<ellipse cx="139.2" cy="117.3" rx="19.9" ry="1.2" fill="#2c2c2c" opacity="0.72" transform="rotate(-13.6 139.2 117.3)"/>
<ellipse cx="35.2" cy="124.6" rx="12.9" ry="1.3" fill="#e6e6e6" opacity="0.72" transform="rotate(-6.4 35.2 124.6)"/>
<ellipse cx="34.9" cy="122.1" rx="12.2" ry="1.1" fill="#2c2c2c" opacity="0.72" transform="rotate(-6.4 34.9 122.1)"/>
<ellipse cx="116.1" cy="103.7" rx="5.9" ry="1.5" fill="#e6e6e6" opacity="0.72" transform="rotate(2.5 116.1 103.7)"/>
<ellipse cx="116.3" cy="100.9" rx="5.6" ry="1.2" fill="#2c2c2c" opacity="0.72" transform="rotate(2.5 116.3 100.9)"/>
<ellipse cx="75.0" cy="104.3" rx="17.9" ry="1.5" fill="#e6e6e6" opacity="0.72" transform="rotate(2.7 75.0 104.3)"/>
<ellipse cx="75.1" cy="101.4" rx="17.0" ry="1.3" fill="#2c2c2c" opacity="0.72" transform="rotate(2.7 75.1 101.4)"/>
<ellipse cx="63.9" cy="120.7" rx="10.3" ry="1.1" fill="#e6e6e6" opacity="0.72" transform="rotate(-6.3 63.9 120.7)"/>
<ellipse cx="63.7" cy="118.5" rx="9.8" ry="0.9" fill="#2c2c2c" opacity="0.72" transform="rotate(-6.3 63.7 118.5)"/>
<ellipse cx="50.2" cy="99.3" rx="20.9" ry="1.0" fill="#e6e6e6" opacity="0.72" transform="rotate(-0.4 50.2 99.3)"/>
<ellipse cx="50.2" cy="97.2" rx="19.8" ry="0.8" fill="#2c2c2c" opacity="0.72" transform="rotate(-0.4 50.2 97.2)"/>
<ellipse cx="58.2" cy="132.4" rx="22.4" ry="1.0" fill="#e6e6e6" opacity="0.72" transform="rotate(-0.1 58.2 132.4)"/>
<ellipse cx="58.2" cy="130.3" rx="21.3" ry="0.8" fill="#2c2c2c" opacity="0.72" transform="rotate(-0.1 58.2 130.3)"/>
<ellipse cx="40.5" cy="105.3" rx="6.6" ry="0.7" fill="#e6e6e6" opacity="0.72" transform="rotate(0.5 40.5 105.3)"/>
<ellipse cx="40.5" cy="103.5" rx="6.3" ry="0.6" fill="#2c2c2c" opacity="0.72" transform="rotate(0.5 40.5 103.5)"/>
<ellipse cx="63.8" cy="116.9" rx="20.5" ry="1.3" fill="#e6e6e6" opacity="0.72" transform="rotate(-9.2 63.8 116.9)"/>
<ellipse cx="63.4" cy="114.4" rx="19.5" ry="1.1" fill="#2c2c2c" opacity="0.72" transform="rotate(-9.2 63.4 114.4)"/>
<ellipse cx="99.8" cy="106.6" rx="10.9" ry="0.5" fill="#e6e6e6" opacity="0.72" transform="rotate(0.8 99.8 106.6)"/>
<ellipse cx="99.8" cy="105.2" rx="10.4" ry="0.5" fill="#2c2c2c" opacity="0.72" transform="rotate(0.8 99.8 105.2)"/>
<ellipse cx="66.5" cy="135.3" rx="7.2" ry="1.0" fill="#e6e6e6" opacity="0.72" transform="rotate(-12.6 66.5 135.3)"/>
<ellipse cx="66.1" cy="133.3" rx="6.8" ry="0.9" fill="#2c2c2c" opacity="0.72" transform="rotate(-12.6 66.1 133.3)"/>
<ellipse cx="58.1" cy="102.1" rx="9.3" ry="0.9" fill="#e6e6e6" opacity="0.72" transform="rotate(-13.1 58.1 102.1)"/>
<ellipse cx="57.6" cy="100.2" rx="8.9" ry="0.8" fill="#2c2c2c" opacity="0.72" transform="rotate(-13.1 57.6 100.2)"/>
<ellipse cx="89.2" cy="135.3" rx="19.9" ry="1.4" fill="#e6e6e6" opacity="0.72" transform="rotate(-1.2 89.2 135.3)"/>
<ellipse cx="89.1" cy="132.6" rx="18.9" ry="1.2" fill="#2c2c2c" opacity="0.72" transform="rotate(-1.2 89.1 132.6)"/>
<ellipse cx="125.3" cy="132.1" rx="13.3" ry="1.1" fill="#e6e6e6" opacity="0.72" transform="rotate(-2.8 125.3 132.1)"/>
<ellipse cx="125.2" cy="129.8" rx="12.6" ry="0.9" fill="#2c2c2c" opacity="0.72" transform="rotate(-2.8 125.2 129.8)"/>
<ellipse cx="27.7" cy="108.5" rx="21.2" ry="1.4" fill="#e6e6e6" opacity="0.72" transform="rotate(8.5 27.7 108.5)"/>
<ellipse cx="28.1" cy="105.9" rx="20.2" ry="1.1" fill="#2c2c2c" opacity="0.72" transform="rotate(8.5 28.1 105.9)"/>
<ellipse cx="62.8" cy="94.5" rx="7.7" ry="1.0" fill="#e6e6e6" opacity="0.72" transform="rotate(-17.8 62.8 94.5)"/>
<ellipse cx="62.1" cy="92.5" rx="7.3" ry="0.9" fill="#2c2c2c" opacity="0.72" transform="rotate(-17.8 62.1 92.5)"/>
<ellipse cx="121.5" cy="134.4" rx="17.6" ry="1.2" fill="#e6e6e6" opacity="0.72" transform="rotate(-2.3 121.5 134.4)"/>
<ellipse cx="121.4" cy="132.0" rx="16.7" ry="1.0" fill="#2c2c2c" opacity="0.72" transform="rotate(-2.3 121.4 132.0)"/>
<ellipse cx="103.9" cy="90.8" rx="18.7" ry="0.7" fill="#e6e6e6" opacity="0.72" transform="rotate(-10.7 103.9 90.8)"/>
<ellipse cx="103.5" cy="89.2" rx="17.8" ry="0.6" fill="#2c2c2c" opacity="0.72" transform="rotate(-10.7 103.5 89.2)"/>
<ellipse cx="154.0" cy="119.5" rx="10.3" ry="0.6" fill="#e6e6e6" opacity="0.72" transform="rotate(-3.1 154.0 119.5)"/>
<ellipse cx="153.9" cy="118.0" rx="9.8" ry="0.5" fill="#2c2c2c" opacity="0.72" transform="rotate(-3.1 153.9 118.0)"/>
<ellipse cx="123.4" cy="94.8" rx="6.2" ry="1.0" fill="#e6e6e6" opacity="0.72" transform="rotate(7.0 123.4 94.8)"/>
<ellipse cx="123.7" cy="92.6" rx="5.9" ry="0.9" fill="#2c2c2c" opacity="0.72" transform="rotate(7.0 123.7 92.6)"/>
<ellipse cx="107.7" cy="108.0" rx="8.9" ry="1.1" fill="#e6e6e6" opacity="0.72" transform="rotate(2.9 107.7 108.0)"/>
<ellipse cx="107.8" cy="105.7" rx="8.5" ry="0.9" fill="#2c2c2c" opacity="0.72" transform="rotate(2.9 107.8 105.7)"/>
<ellipse cx="91.2" cy="135.6" rx="16.3" ry="1.4" fill="#e6e6e6" opacity="0.72" transform="rotate(-2.6 91.2 135.6)"/>
<ellipse cx="91.1" cy="132.8" rx="15.5" ry="1.2" fill="#2c2c2c" opacity="0.72" transform="rotate(-2.6 91.1 132.8)"/>
<ellipse cx="93.4" cy="101.3" rx="9.3" ry="1.5" fill="#e6e6e6" opacity="0.72" transform="rotate(-4.7 93.4 101.3)"/>
<ellipse cx="93.1" cy="98.5" rx="8.9" ry="1.3" fill="#2c2c2c" opacity="0.72" transform="rotate(-4.7 93.1 98.5)"/>
<ellipse cx="31.4" cy="112.9" rx="16.8" ry="0.9" fill="#e6e6e6" opacity="0.72" transform="rotate(-8.8 31.4 112.9)"/>
<ellipse cx="31.1" cy="111.0" rx="16.0" ry="0.8" fill="#2c2c2c" opacity="0.72" transform="rotate(-8.8 31.1 111.0)"/>
<ellipse cx="63.2" cy="120.7" rx="21.2" ry="0.7" fill="#e6e6e6" opacity="0.72" transform="rotate(3.2 63.2 120.7)"/>
<ellipse cx="63.3" cy="119.0" rx="20.1" ry="0.6" fill="#2c2c2c" opacity="0.72" transform="rotate(3.2 63.3 119.0)"/>
<ellipse cx="85.7" cy="122.3" rx="8.5" ry="1.3" fill="#e6e6e6" opacity="0.72" transform="rotate(-1.6 85.7 122.3)"/>
<ellipse cx="85.6" cy="119.7" rx="8.0" ry="1.1" fill="#2c2c2c" opacity="0.72" transform="rotate(-1.6 85.6 119.7)"/>
<ellipse cx="129.6" cy="114.1" rx="8.6" ry="1.5" fill="#e6e6e6" opacity="0.72" transform="rotate(-7.9 129.6 114.1)"/>
<ellipse cx="129.2" cy="111.3" rx="8.2" ry="1.3" fill="#2c2c2c" opacity="0.72" transform="rotate(-7.9 129.2 111.3)"/>
<ellipse cx="59.4" cy="99.6" rx="18.3" ry="0.8" fill="#e6e6e6" opacity="0.72" transform="rotate(9.0 59.4 99.6)"/>
<ellipse cx="59.7" cy="97.8" rx="17.4" ry="0.7" fill="#2c2c2c" opacity="0.72" transform="rotate(9.0 59.7 97.8)"/>
<ellipse cx="158.7" cy="112.5" rx="8.3" ry="0.7" fill="#e6e6e6" opacity="0.72" transform="rotate(-12.0 158.7 112.5)"/>
<ellipse cx="158.3" cy="110.8" rx="7.9" ry="0.6" fill="#2c2c2c" opacity="0.72" transform="rotate(-12.0 158.3 110.8)"/>
<ellipse cx="157.8" cy="95.9" rx="11.9" ry="0.7" fill="#e6e6e6" opacity="0.72" transform="rotate(2.2 157.8 95.9)"/>
<ellipse cx="157.9" cy="94.3" rx="11.3" ry="0.6" fill="#2c2c2c" opacity="0.72" transform="rotate(2.2 157.9 94.3)"/>
<ellipse cx="161.7" cy="95.4" rx="5.9" ry="0.5" fill="#e6e6e6" opacity="0.72" transform="rotate(-14.7 161.7 95.4)"/>
<ellipse cx="161.4" cy="94.0" rx="5.6" ry="0.5" fill="#2c2c2c" opacity="0.72" transform="rotate(-14.7 161.4 94.0)"/>
<ellipse cx="148.7" cy="124.9" rx="22.5" ry="1.5" fill="#e6e6e6" opacity="0.72" transform="rotate(6.3 148.7 124.9)"/>
<ellipse cx="149.0" cy="122.1" rx="21.3" ry="1.2" fill="#2c2c2c" opacity="0.72" transform="rotate(6.3 149.0 122.1)"/>
<ellipse cx="72.8" cy="98.6" rx="21.4" ry="1.3" fill="#e6e6e6" opacity="0.72" transform="rotate(7.1 72.8 98.6)"/>
<ellipse cx="73.1" cy="96.1" rx="20.3" ry="1.1" fill="#2c2c2c" opacity="0.72" transform="rotate(7.1 73.1 96.1)"/>
<ellipse cx="79.9" cy="106.7" rx="10.8" ry="0.7" fill="#e6e6e6" opacity="0.72" transform="rotate(-0.9 79.9 106.7)"/>
<ellipse cx="79.9" cy="105.1" rx="10.3" ry="0.6" fill="#2c2c2c" opacity="0.72" transform="rotate(-0.9 79.9 105.1)"/>
<ellipse cx="28.0" cy="103.4" rx="11.2" ry="1.5" fill="#e6e6e6" opacity="0.72" transform="rotate(9.9 28.0 103.4)"/>
<ellipse cx="28.5" cy="100.6" rx="10.6" ry="1.3" fill="#2c2c2c" opacity="0.72" transform="rotate(9.9 28.5 100.6)"/>
<ellipse cx="56.0" cy="106.9" rx="19.4" ry="1.4" fill="#e6e6e6" opacity="0.72" transform="rotate(9.7 56.0 106.9)"/>
<ellipse cx="56.5" cy="104.2" rx="18.4" ry="1.1" fill="#2c2c2c" opacity="0.72" transform="rotate(9.7 56.5 104.2)"/>
<ellipse cx="87.2" cy="91.6" rx="13.3" ry="0.9" fill="#e6e6e6" opacity="0.72" transform="rotate(1.0 87.2 91.6)"/>
<ellipse cx="87.3" cy="89.6" rx="12.6" ry="0.7" fill="#2c2c2c" opacity="0.72" transform="rotate(1.0 87.3 89.6)"/>
<ellipse cx="78.1" cy="131.9" rx="5.5" ry="0.9" fill="#e6e6e6" opacity="0.72" transform="rotate(-5.2 78.1 131.9)"/>
<ellipse cx="77.9" cy="129.9" rx="5.3" ry="0.8" fill="#2c2c2c" opacity="0.72" transform="rotate(-5.2 77.9 129.9)"/>
<ellipse cx="138.9" cy="125.1" rx="5.7" ry="0.5" fill="#e6e6e6" opacity="0.72" transform="rotate(11.5 138.9 125.1)"/>
<ellipse cx="139.2" cy="123.7" rx="5.4" ry="0.4" fill="#2c2c2c" opacity="0.72" transform="rotate(11.5 139.2 123.7)"/>
<ellipse cx="63.2" cy="124.7" rx="20.7" ry="0.8" fill="#e6e6e6" opacity="0.72" transform="rotate(3.0 63.2 124.7)"/>
<ellipse cx="63.3" cy="122.8" rx="19.7" ry="0.7" fill="#2c2c2c" opacity="0.72" transform="rotate(3.0 63.3 122.8)"/>
<ellipse cx="65.5" cy="134.5" rx="15.8" ry="0.8" fill="#e6e6e6" opacity="0.72" transform="rotate(-4.3 65.5 134.5)"/>
<ellipse cx="65.4" cy="132.8" rx="15.0" ry="0.6" fill="#2c2c2c" opacity="0.72" transform="rotate(-4.3 65.4 132.8)"/>
<ellipse cx="66.2" cy="90.2" rx="18.2" ry="1.5" fill="#e6e6e6" opacity="0.72" transform="rotate(-9.0 66.2 90.2)"/>
<ellipse cx="65.8" cy="87.5" rx="17.3" ry="1.2" fill="#2c2c2c" opacity="0.72" transform="rotate(-9.0 65.8 87.5)"/>
<ellipse cx="115.4" cy="133.7" rx="5.4" ry="0.7" fill="#e6e6e6" opacity="0.72" transform="rotate(-20.3 115.4 133.7)"/>
<ellipse cx="114.8" cy="132.1" rx="5.2" ry="0.6" fill="#2c2c2c" opacity="0.72" transform="rotate(-20.3 114.8 132.1)"/>
<ellipse cx="158.6" cy="107.7" rx="9.4" ry="0.9" fill="#e6e6e6" opacity="0.72" transform="rotate(-0.3 158.6 107.7)"/>
<ellipse cx="158.6" cy="105.7" rx="8.9" ry="0.8" fill="#2c2c2c" opacity="0.72" transform="rotate(-0.3 158.6 105.7)"/>
<ellipse cx="95.8" cy="134.0" rx="8.2" ry="1.3" fill="#e6e6e6" opacity="0.72" transform="rotate(-3.9 95.8 134.0)"/>
<ellipse cx="95.6" cy="131.4" rx="7.8" ry="1.1" fill="#2c2c2c" opacity="0.72" transform="rotate(-3.9 95.6 131.4)"/>
<ellipse cx="134.3" cy="117.9" rx="10.7" ry="0.8" fill="#e6e6e6" opacity="0.72" transform="rotate(-16.0 134.3 117.9)"/>
<ellipse cx="133.8" cy="116.1" rx="10.2" ry="0.7" fill="#2c2c2c" opacity="0.72" transform="rotate(-16.0 133.8 116.1)"/>
<ellipse cx="77.7" cy="126.1" rx="6.4" ry="0.7" fill="#e6e6e6" opacity="0.72" transform="rotate(-2.9 77.7 126.1)"/>
<ellipse cx="77.6" cy="124.5" rx="6.1" ry="0.6" fill="#2c2c2c" opacity="0.72" transform="rotate(-2.9 77.6 124.5)"/>
<ellipse cx="37.2" cy="90.7" rx="14.7" ry="0.8" fill="#e6e6e6" opacity="0.72" transform="rotate(-8.3 37.2 90.7)"/>
<ellipse cx="37.0" cy="88.9" rx="13.9" ry="0.7" fill="#2c2c2c" opacity="0.72" transform="rotate(-8.3 37.0 88.9)"/>
<ellipse cx="162.2" cy="131.0" rx="22.3" ry="0.8" fill="#e6e6e6" opacity="0.72" transform="rotate(-0.3 162.2 131.0)"/>
<ellipse cx="162.2" cy="129.3" rx="21.2" ry="0.6" fill="#2c2c2c" opacity="0.72" transform="rotate(-0.3 162.2 129.3)"/>
<ellipse cx="96.3" cy="122.7" rx="12.8" ry="0.7" fill="#e6e6e6" opacity="0.72" transform="rotate(-1.4 96.3 122.7)"/>
<ellipse cx="96.3" cy="121.0" rx="12.2" ry="0.6" fill="#2c2c2c" opacity="0.72" transform="rotate(-1.4 96.3 121.0)"/>
<ellipse cx="85.0" cy="119.3" rx="16.8" ry="1.3" fill="#e6e6e6" opacity="0.72" transform="rotate(2.9 85.0 119.3)"/>
<ellipse cx="85.1" cy="116.8" rx="16.0" ry="1.1" fill="#2c2c2c" opacity="0.72" transform="rotate(2.9 85.1 116.8)"/>
<ellipse cx="45.1" cy="129.4" rx="10.1" ry="1.1" fill="#e6e6e6" opacity="0.72" transform="rotate(-11.5 45.1 129.4)"/>
<ellipse cx="44.7" cy="127.2" rx="9.6" ry="0.9" fill="#2c2c2c" opacity="0.72" transform="rotate(-11.5 44.7 127.2)"/>
<ellipse cx="79.2" cy="124.1" rx="8.5" ry="0.7" fill="#e6e6e6" opacity="0.72" transform="rotate(-2.9 79.2 124.1)"/>
<ellipse cx="79.1" cy="122.4" rx="8.1" ry="0.6" fill="#2c2c2c" opacity="0.72" transform="rotate(-2.9 79.1 122.4)"/>
<ellipse cx="149.0" cy="116.7" rx="10.7" ry="0.9" fill="#e6e6e6" opacity="0.72" transform="rotate(1.0 149.0 116.7)"/>
<ellipse cx="149.1" cy="114.8" rx="10.2" ry="0.8" fill="#2c2c2c" opacity="0.72" transform="rotate(1.0 149.1 114.8)"/>
<ellipse cx="164.6" cy="113.9" rx="9.0" ry="1.4" fill="#e6e6e6" opacity="0.72" transform="rotate(-15.3 164.6 113.9)"/>
<ellipse cx="163.9" cy="111.4" rx="8.6" ry="1.1" fill="#2c2c2c" opacity="0.72" transform="rotate(-15.3 163.9 111.4)"/>
<ellipse cx="43.0" cy="112.4" rx="19.3" ry="1.4" fill="#e6e6e6" opacity="0.72" transform="rotate(-20.6 43.0 112.4)"/>
<ellipse cx="42.1" cy="109.9" rx="18.4" ry="1.2" fill="#2c2c2c" opacity="0.72" transform="rotate(-20.6 42.1 109.9)"/>
<ellipse cx="153.1" cy="90.7" rx="10.1" ry="0.6" fill="#e6e6e6" opacity="0.72" transform="rotate(4.0 153.1 90.7)"/>
<ellipse cx="153.2" cy="89.2" rx="9.6" ry="0.5" fill="#2c2c2c" opacity="0.72" transform="rotate(4.0 153.2 89.2)"/>
<ellipse cx="107.2" cy="134.1" rx="11.5" ry="1.4" fill="#e6e6e6" opacity="0.72" transform="rotate(14.5 107.2 134.1)"/>
<ellipse cx="107.9" cy="131.5" rx="10.9" ry="1.2" fill="#2c2c2c" opacity="0.72" transform="rotate(14.5 107.9 131.5)"/>
<ellipse cx="89.3" cy="102.5" rx="18.6" ry="1.5" fill="#e6e6e6" opacity="0.72" transform="rotate(4.4 89.3 102.5)"/>
<ellipse cx="89.5" cy="99.6" rx="17.7" ry="1.3" fill="#2c2c2c" opacity="0.72" transform="rotate(4.4 89.5 99.6)"/>
<ellipse cx="112.8" cy="99.2" rx="11.5" ry="0.6" fill="#e6e6e6" opacity="0.72" transform="rotate(2.8 112.8 99.2)"/>
<ellipse cx="112.9" cy="97.6" rx="10.9" ry="0.5" fill="#2c2c2c" opacity="0.72" transform="rotate(2.8 112.9 97.6)"/>
<ellipse cx="56.1" cy="101.8" rx="15.5" ry="1.2" fill="#e6e6e6" opacity="0.72" transform="rotate(-2.7 56.1 101.8)"/>
<ellipse cx="56.0" cy="99.4" rx="14.7" ry="1.0" fill="#2c2c2c" opacity="0.72" transform="rotate(-2.7 56.0 99.4)"/>
<ellipse cx="72.9" cy="121.3" rx="8.2" ry="0.8" fill="#e6e6e6" opacity="0.72" transform="rotate(-2.0 72.9 121.3)"/>
<ellipse cx="72.9" cy="119.5" rx="7.8" ry="0.7" fill="#2c2c2c" opacity="0.72" transform="rotate(-2.0 72.9 119.5)"/>
<ellipse cx="55.9" cy="126.5" rx="14.6" ry="0.5" fill="#e6e6e6" opacity="0.72" transform="rotate(2.6 55.9 126.5)"/>
<ellipse cx="55.9" cy="125.1" rx="13.9" ry="0.5" fill="#2c2c2c" opacity="0.72" transform="rotate(2.6 55.9 125.1)"/>
<ellipse cx="103.3" cy="119.2" rx="6.6" ry="0.7" fill="#e6e6e6" opacity="0.72" transform="rotate(1.2 103.3 119.2)"/>
<ellipse cx="103.4" cy="117.7" rx="6.3" ry="0.5" fill="#2c2c2c" opacity="0.72" transform="rotate(1.2 103.4 117.7)"/>
<ellipse cx="123.1" cy="108.6" rx="10.0" ry="0.8" fill="#e6e6e6" opacity="0.72" transform="rotate(2.8 123.1 108.6)"/>
<ellipse cx="123.2" cy="106.8" rx="9.5" ry="0.7" fill="#2c2c2c" opacity="0.72" transform="rotate(2.8 123.2 106.8)"/>
<ellipse cx="105.8" cy="107.0" rx="12.3" ry="1.4" fill="#e6e6e6" opacity="0.72" transform="rotate(-4.8 105.8 107.0)"/>
<ellipse cx="105.6" cy="104.3" rx="11.7" ry="1.2" fill="#2c2c2c" opacity="0.72" transform="rotate(-4.8 105.6 104.3)"/>
<ellipse cx="164.6" cy="107.1" rx="8.5" ry="1.3" fill="#e6e6e6" opacity="0.72" transform="rotate(-2.8 164.6 107.1)"/>
<ellipse cx="164.4" cy="104.6" rx="8.0" ry="1.1" fill="#2c2c2c" opacity="0.72" transform="rotate(-2.8 164.4 104.6)"/>
<ellipse cx="151.5" cy="109.4" rx="19.4" ry="0.9" fill="#e6e6e6" opacity="0.72" transform="rotate(-2.3 151.5 109.4)"/>
<ellipse cx="151.4" cy="107.4" rx="18.4" ry="0.8" fill="#2c2c2c" opacity="0.72" transform="rotate(-2.3 151.4 107.4)"/>
<ellipse cx="149.2" cy="110.5" rx="7.8" ry="0.5" fill="#e6e6e6" opacity="0.72" transform="rotate(-12.5 149.2 110.5)"/>
<ellipse cx="148.9" cy="109.2" rx="7.5" ry="0.4" fill="#2c2c2c" opacity="0.72" transform="rotate(-12.5 148.9 109.2)"/>
<ellipse cx="152.8" cy="93.4" rx="15.9" ry="0.9" fill="#e6e6e6" opacity="0.72" transform="rotate(-6.2 152.8 93.4)"/>
<ellipse cx="152.6" cy="91.5" rx="15.1" ry="0.7" fill="#2c2c2c" opacity="0.72" transform="rotate(-6.2 152.6 91.5)"/>
<ellipse cx="97.1" cy="96.4" rx="10.0" ry="1.0" fill="#e6e6e6" opacity="0.72" transform="rotate(-0.0 97.1 96.4)"/>
<ellipse cx="97.1" cy="94.2" rx="9.5" ry="0.9" fill="#2c2c2c" opacity="0.72" transform="rotate(-0.0 97.1 94.2)"/>
<ellipse cx="95.3" cy="127.2" rx="21.9" ry="0.7" fill="#e6e6e6" opacity="0.72" transform="rotate(-4.5 95.3 127.2)"/>
<ellipse cx="95.2" cy="125.5" rx="20.8" ry="0.6" fill="#2c2c2c" opacity="0.72" transform="rotate(-4.5 95.2 125.5)"/>
<ellipse cx="45.0" cy="134.2" rx="22.1" ry="1.0" fill="#e6e6e6" opacity="0.72" transform="rotate(12.1 45.0 134.2)"/>
<ellipse cx="45.4" cy="132.1" rx="21.0" ry="0.8" fill="#2c2c2c" opacity="0.72" transform="rotate(12.1 45.4 132.1)"/>
<ellipse cx="81.1" cy="132.9" rx="15.9" ry="1.4" fill="#e6e6e6" opacity="0.72" transform="rotate(2.3 81.1 132.9)"/>
<ellipse cx="81.2" cy="130.3" rx="15.1" ry="1.1" fill="#2c2c2c" opacity="0.72" transform="rotate(2.3 81.2 130.3)"/>
<ellipse cx="49.9" cy="126.6" rx="8.9" ry="0.9" fill="#e6e6e6" opacity="0.72" transform="rotate(4.5 49.9 126.6)"/>
<ellipse cx="50.0" cy="124.6" rx="8.4" ry="0.8" fill="#2c2c2c" opacity="0.72" transform="rotate(4.5 50.0 124.6)"/>
<ellipse cx="53.6" cy="99.8" rx="12.0" ry="1.0" fill="#e6e6e6" opacity="0.72" transform="rotate(-13.8 53.6 99.8)"/>
<ellipse cx="53.1" cy="97.7" rx="11.4" ry="0.9" fill="#2c2c2c" opacity="0.72" transform="rotate(-13.8 53.1 97.7)"/>
<ellipse cx="80.6" cy="95.6" rx="9.3" ry="1.3" fill="#e6e6e6" opacity="0.72" transform="rotate(-1.4 80.6 95.6)"/>
<ellipse cx="80.6" cy="93.1" rx="8.9" ry="1.1" fill="#2c2c2c" opacity="0.72" transform="rotate(-1.4 80.6 93.1)"/>
<ellipse cx="105.2" cy="126.0" rx="5.7" ry="1.4" fill="#e6e6e6" opacity="0.72" transform="rotate(-4.2 105.2 126.0)"/>
<ellipse cx="105.0" cy="123.3" rx="5.4" ry="1.2" fill="#2c2c2c" opacity="0.72" transform="rotate(-4.2 105.0 123.3)"/>
<ellipse cx="44.4" cy="118.1" rx="14.6" ry="1.2" fill="#e6e6e6" opacity="0.72" transform="rotate(-5.5 44.4 118.1)"/>
<ellipse cx="44.2" cy="115.8" rx="13.9" ry="1.0" fill="#2c2c2c" opacity="0.72" transform="rotate(-5.5 44.2 115.8)"/>
<ellipse cx="107.7" cy="109.6" rx="16.5" ry="1.0" fill="#e6e6e6" opacity="0.72" transform="rotate(3.9 107.7 109.6)"/>
<ellipse cx="107.8" cy="107.5" rx="15.7" ry="0.8" fill="#2c2c2c" opacity="0.72" transform="rotate(3.9 107.8 107.5)"/>
<ellipse cx="88.1" cy="90.5" rx="15.8" ry="1.0" fill="#e6e6e6" opacity="0.72" transform="rotate(-1.9 88.1 90.5)"/>
<ellipse cx="88.1" cy="88.4" rx="15.0" ry="0.8" fill="#2c2c2c" opacity="0.72" transform="rotate(-1.9 88.1 88.4)"/>
<ellipse cx="134.5" cy="111.1" rx="8.1" ry="1.0" fill="#e6e6e6" opacity="0.72" transform="rotate(8.8 134.5 111.1)"/>
<ellipse cx="134.8" cy="109.1" rx="7.7" ry="0.8" fill="#2c2c2c" opacity="0.72" transform="rotate(8.8 134.8 109.1)"/>
<ellipse cx="43.0" cy="94.8" rx="12.5" ry="0.6" fill="#e6e6e6" opacity="0.72" transform="rotate(-10.8 43.0 94.8)"/>
<ellipse cx="42.7" cy="93.4" rx="11.9" ry="0.5" fill="#2c2c2c" opacity="0.72" transform="rotate(-10.8 42.7 93.4)"/>
<ellipse cx="33.7" cy="120.0" rx="6.4" ry="1.3" fill="#e6e6e6" opacity="0.72" transform="rotate(-0.0 33.7 120.0)"/>
<ellipse cx="33.7" cy="117.5" rx="6.1" ry="1.1" fill="#2c2c2c" opacity="0.72" transform="rotate(-0.0 33.7 117.5)"/>
<ellipse cx="134.5" cy="111.5" rx="1.3" ry="1.8" fill="#f8f8f8" opacity="0.9"/>
<ellipse cx="79.8" cy="129.8" rx="1.5" ry="2.3" fill="#f8f8f8" opacity="0.9"/>
<ellipse cx="164.4" cy="120.7" rx="3.0" ry="1.3" fill="#f8f8f8" opacity="0.9"/>
<ellipse cx="162.4" cy="110.7" rx="3.3" ry="2.4" fill="#f8f8f8" opacity="0.9"/>
<ellipse cx="50.7" cy="123.0" rx="3.2" ry="1.1" fill="#f8f8f8" opacity="0.9"/>
<ellipse cx="76.1" cy="121.7" rx="1.5" ry="2.3" fill="#f8f8f8" opacity="0.9"/>
<ellipse cx="65.7" cy="124.1" rx="1.5" ry="1.8" fill="#f8f8f8" opacity="0.9"/>
<ellipse cx="153.9" cy="98.9" rx="1.8" ry="1.8" fill="#f8f8f8" opacity="0.9"/>
<ellipse cx="71.7" cy="91.8" rx="1.6" ry="1.2" fill="#f8f8f8" opacity="0.9"/>
<ellipse cx="156.2" cy="118.5" rx="3.2" ry="1.3" fill="#f8f8f8" opacity="0.9"/>
<ellipse cx="135.5" cy="95.1" rx="2.4" ry="2.0" fill="#f8f8f8" opacity="0.9"/>
<ellipse cx="77.3" cy="126.5" rx="2.4" ry="1.9" fill="#f8f8f8" opacity="0.9"/>
<ellipse cx="148.8" cy="94.6" rx="3.4" ry="1.9" fill="#f8f8f8" opacity="0.9"/>
<ellipse cx="82.0" cy="123.4" rx="1.8" ry="2.5" fill="#f8f8f8" opacity="0.9"/>
<ellipse cx="107.1" cy="105.3" rx="2.9" ry="1.7" fill="#f8f8f8" opacity="0.9"/>
<ellipse cx="52.3" cy="121.2" rx="1.3" ry="2.2" fill="#f8f8f8" opacity="0.9"/>
<ellipse cx="62.8" cy="116.8" rx="3.4" ry="1.9" fill="#f8f8f8" opacity="0.9"/>
<ellipse cx="118.9" cy="103.3" rx="1.2" ry="1.1" fill="#f8f8f8" opacity="0.9"/>
<ellipse cx="48.5" cy="115.9" rx="2.2" ry="1.8" fill="#f8f8f8" opacity="0.9"/>
<ellipse cx="150.6" cy="95.8" rx="1.7" ry="2.0" fill="#f8f8f8" opacity="0.9"/>
<ellipse cx="31.1" cy="90.4" rx="2.0" ry="1.2" fill="#f8f8f8" opacity="0.9"/>
<ellipse cx="77.0" cy="99.6" rx="2.5" ry="1.9" fill="#f8f8f8" opacity="0.9"/>
<ellipse cx="56.0" cy="116.2" rx="2.2" ry="1.2" fill="#f8f8f8" opacity="0.9"/>
<ellipse cx="156.2" cy="100.4" rx="1.5" ry="1.1" fill="#f8f8f8" opacity="0.9"/>
<ellipse cx="115.4" cy="126.5" rx="2.9" ry="1.6" fill="#f8f8f8" opacity="0.9"/>
<ellipse cx="64.2" cy="90.8" rx="2.6" ry="1.8" fill="#f8f8f8" opacity="0.9"/>
<ellipse cx="76.0" cy="117.1" rx="2.2" ry="2.4" fill="#f8f8f8" opacity="0.9"/>
<ellipse cx="128.4" cy="100.6" rx="3.2" ry="1.1" fill="#f8f8f8" opacity="0.9"/>
<ellipse cx="100.8" cy="107.1" rx="1.7" ry="1.1" fill="#f8f8f8" opacity="0.9"/>
<ellipse cx="134.6" cy="90.8" rx="2.4" ry="2.4" fill="#f8f8f8" opacity="0.9"/>
<ellipse cx="47.6" cy="98.6" rx="2.5" ry="1.8" fill="#f8f8f8" opacity="0.9"/>
<ellipse cx="115.9" cy="124.1" rx="1.6" ry="1.5" fill="#f8f8f8" opacity="0.9"/>
<ellipse cx="69.2" cy="92.3" rx="3.2" ry="2.2" fill="#f8f8f8" opacity="0.9"/>
<ellipse cx="126.0" cy="90.6" rx="3.1" ry="2.1" fill="#f8f8f8" opacity="0.9"/>
<ellipse cx="91.7" cy="121.1" rx="2.2" ry="1.3" fill="#f8f8f8" opacity="0.9"/>
<rect x="28.1" y="82.3" width="136.8" height="6.8" fill="#161616"/>
<rect x="28.1" y="133.60000000000002" width="136.8" height="8.2" fill="#141414"/>
<ellipse cx="42.5" cy="84.2" rx="0.9" ry="1.0" fill="#eeeeee" opacity="0.9"/>
<ellipse cx="130.7" cy="87.0" rx="3.0" ry="1.5" fill="#eeeeee" opacity="0.9"/>
<ellipse cx="64.5" cy="86.1" rx="1.9" ry="1.6" fill="#eeeeee" opacity="0.9"/>
<ellipse cx="99.7" cy="84.4" rx="2.5" ry="1.9" fill="#eeeeee" opacity="0.9"/>
<ellipse cx="57.8" cy="88.1" rx="0.8" ry="0.9" fill="#eeeeee" opacity="0.9"/>
<ellipse cx="60.4" cy="87.3" rx="3.3" ry="1.5" fill="#eeeeee" opacity="0.9"/>
<ellipse cx="72.8" cy="88.1" rx="1.7" ry="0.8" fill="#eeeeee" opacity="0.9"/>
<ellipse cx="152.3" cy="86.6" rx="2.6" ry="1.4" fill="#eeeeee" opacity="0.9"/>
<ellipse cx="162.0" cy="85.6" rx="3.0" ry="1.5" fill="#eeeeee" opacity="0.9"/>
<ellipse cx="145.4" cy="85.4" rx="2.7" ry="1.3" fill="#eeeeee" opacity="0.9"/>
<ellipse cx="70.2" cy="84.1" rx="2.4" ry="0.6" fill="#eeeeee" opacity="0.9"/>
<ellipse cx="152.7" cy="83.7" rx="0.9" ry="0.6" fill="#eeeeee" opacity="0.9"/>
<ellipse cx="155.2" cy="84.9" rx="1.2" ry="0.5" fill="#eeeeee" opacity="0.9"/>
<ellipse cx="33.8" cy="87.0" rx="2.4" ry="1.5" fill="#eeeeee" opacity="0.9"/>
<ellipse cx="128.9" cy="83.2" rx="2.3" ry="1.0" fill="#eeeeee" opacity="0.9"/>
<ellipse cx="139.9" cy="87.7" rx="3.1" ry="0.6" fill="#eeeeee" opacity="0.9"/>
<ellipse cx="146.8" cy="88.3" rx="3.3" ry="0.6" fill="#eeeeee" opacity="0.9"/>
<ellipse cx="56.2" cy="83.5" rx="0.9" ry="1.7" fill="#eeeeee" opacity="0.9"/>
<ellipse cx="139.2" cy="86.6" rx="2.9" ry="1.4" fill="#eeeeee" opacity="0.9"/>
<ellipse cx="67.4" cy="83.4" rx="1.1" ry="1.6" fill="#eeeeee" opacity="0.9"/>
<ellipse cx="56.1" cy="84.7" rx="1.9" ry="0.5" fill="#eeeeee" opacity="0.9"/>
<ellipse cx="63.2" cy="84.5" rx="2.7" ry="1.0" fill="#eeeeee" opacity="0.9"/>
<ellipse cx="72.0" cy="88.6" rx="2.1" ry="1.7" fill="#eeeeee" opacity="0.9"/>
<ellipse cx="112.7" cy="83.0" rx="1.9" ry="1.1" fill="#eeeeee" opacity="0.9"/>
<ellipse cx="133.8" cy="84.9" rx="2.6" ry="1.3" fill="#eeeeee" opacity="0.9"/>
<ellipse cx="57.7" cy="88.0" rx="1.0" ry="1.6" fill="#eeeeee" opacity="0.9"/>
<ellipse cx="51.4" cy="82.8" rx="1.3" ry="1.6" fill="#eeeeee" opacity="0.9"/>
<ellipse cx="161.9" cy="82.8" rx="2.1" ry="1.2" fill="#eeeeee" opacity="0.9"/>
<ellipse cx="137.1" cy="83.9" rx="2.1" ry="1.0" fill="#eeeeee" opacity="0.9"/>
<ellipse cx="141.9" cy="84.4" rx="3.3" ry="0.9" fill="#eeeeee" opacity="0.9"/>
<ellipse cx="57.5" cy="87.0" rx="2.1" ry="0.7" fill="#eeeeee" opacity="0.9"/>
<ellipse cx="115.2" cy="83.3" rx="2.8" ry="1.5" fill="#eeeeee" opacity="0.9"/>
<ellipse cx="135.8" cy="86.6" rx="1.7" ry="1.1" fill="#eeeeee" opacity="0.9"/>
<ellipse cx="82.1" cy="88.1" rx="1.0" ry="1.7" fill="#eeeeee" opacity="0.9"/>
<ellipse cx="31.5" cy="84.0" rx="1.5" ry="1.8" fill="#eeeeee" opacity="0.9"/>
<ellipse cx="96.7" cy="85.1" rx="3.1" ry="0.8" fill="#eeeeee" opacity="0.9"/>
<ellipse cx="91.2" cy="86.0" rx="2.8" ry="1.6" fill="#eeeeee" opacity="0.9"/>
<ellipse cx="116.5" cy="84.9" rx="1.6" ry="0.7" fill="#eeeeee" opacity="0.9"/>
<ellipse cx="143.4" cy="86.8" rx="2.7" ry="0.7" fill="#eeeeee" opacity="0.9"/>
<ellipse cx="88.1" cy="87.4" rx="2.3" ry="0.7" fill="#eeeeee" opacity="0.9"/>
<ellipse cx="91.3" cy="88.1" rx="1.4" ry="0.8" fill="#eeeeee" opacity="0.9"/>
<ellipse cx="69.3" cy="87.0" rx="3.0" ry="0.7" fill="#eeeeee" opacity="0.9"/>
<ellipse cx="49.4" cy="84.3" rx="1.6" ry="1.2" fill="#eeeeee" opacity="0.9"/>
<ellipse cx="50.1" cy="84.8" rx="1.3" ry="1.9" fill="#eeeeee" opacity="0.9"/>
<ellipse cx="127.8" cy="83.4" rx="3.3" ry="0.6" fill="#eeeeee" opacity="0.9"/>
<ellipse cx="80.7" cy="88.7" rx="2.9" ry="1.5" fill="#eeeeee" opacity="0.9"/>
<ellipse cx="87.6" cy="84.0" rx="2.5" ry="0.6" fill="#eeeeee" opacity="0.9"/>
<ellipse cx="56.3" cy="85.1" rx="0.9" ry="1.1" fill="#eeeeee" opacity="0.9"/>
<ellipse cx="136.3" cy="87.0" rx="2.1" ry="1.4" fill="#eeeeee" opacity="0.9"/>
<ellipse cx="91.5" cy="83.7" rx="2.4" ry="1.1" fill="#eeeeee" opacity="0.9"/>
<ellipse cx="129.5" cy="88.2" rx="1.9" ry="1.3" fill="#eeeeee" opacity="0.9"/>
<ellipse cx="130.6" cy="85.3" rx="1.4" ry="1.5" fill="#eeeeee" opacity="0.9"/>
<ellipse cx="148.5" cy="87.4" rx="2.6" ry="1.7" fill="#eeeeee" opacity="0.9"/>
<ellipse cx="121.1" cy="86.6" rx="2.0" ry="0.9" fill="#eeeeee" opacity="0.9"/>
<ellipse cx="114.0" cy="83.4" rx="1.9" ry="1.6" fill="#eeeeee" opacity="0.9"/>
<ellipse cx="125.7" cy="86.6" rx="1.5" ry="1.1" fill="#eeeeee" opacity="0.9"/>
<ellipse cx="90.4" cy="86.5" rx="1.9" ry="1.4" fill="#eeeeee" opacity="0.9"/>
<ellipse cx="155.4" cy="83.9" rx="2.5" ry="1.6" fill="#eeeeee" opacity="0.9"/>
<ellipse cx="81.3" cy="85.7" rx="3.3" ry="0.6" fill="#eeeeee" opacity="0.9"/>
<ellipse cx="102.4" cy="83.8" rx="2.8" ry="1.8" fill="#eeeeee" opacity="0.9"/>
<ellipse cx="99.1" cy="135.0" rx="1.2" ry="0.8" fill="#e4e4e4" opacity="0.85"/>
<ellipse cx="126.2" cy="137.9" rx="1.3" ry="1.1" fill="#e4e4e4" opacity="0.85"/>
<ellipse cx="99.5" cy="137.2" rx="1.7" ry="0.6" fill="#e4e4e4" opacity="0.85"/>
<ellipse cx="121.7" cy="137.0" rx="1.5" ry="0.5" fill="#e4e4e4" opacity="0.85"/>
<ellipse cx="162.8" cy="136.8" rx="0.6" ry="0.6" fill="#e4e4e4" opacity="0.85"/>
<ellipse cx="82.8" cy="134.4" rx="1.0" ry="0.7" fill="#e4e4e4" opacity="0.85"/>
<ellipse cx="123.6" cy="136.8" rx="0.8" ry="0.6" fill="#e4e4e4" opacity="0.85"/>
<ellipse cx="129.5" cy="140.9" rx="1.2" ry="0.6" fill="#e4e4e4" opacity="0.85"/>
<ellipse cx="137.7" cy="137.0" rx="0.8" ry="0.5" fill="#e4e4e4" opacity="0.85"/>
<ellipse cx="134.3" cy="140.0" rx="1.3" ry="0.8" fill="#e4e4e4" opacity="0.85"/>
<ellipse cx="105.0" cy="135.9" rx="1.8" ry="0.7" fill="#e4e4e4" opacity="0.85"/>
<ellipse cx="115.5" cy="140.0" rx="1.6" ry="0.8" fill="#e4e4e4" opacity="0.85"/>
<ellipse cx="68.4" cy="138.1" rx="0.7" ry="1.1" fill="#e4e4e4" opacity="0.85"/>
<ellipse cx="76.6" cy="140.3" rx="0.8" ry="0.7" fill="#e4e4e4" opacity="0.85"/>
<ellipse cx="62.8" cy="137.3" rx="0.7" ry="0.4" fill="#e4e4e4" opacity="0.85"/>
<ellipse cx="126.8" cy="136.3" rx="0.8" ry="0.6" fill="#e4e4e4" opacity="0.85"/>
<ellipse cx="93.7" cy="137.3" rx="1.3" ry="0.9" fill="#e4e4e4" opacity="0.85"/>
<ellipse cx="77.7" cy="140.8" rx="1.6" ry="0.4" fill="#e4e4e4" opacity="0.85"/>
<ellipse cx="141.4" cy="140.6" rx="1.5" ry="0.5" fill="#e4e4e4" opacity="0.85"/>
<ellipse cx="141.8" cy="138.7" rx="0.5" ry="0.4" fill="#e4e4e4" opacity="0.85"/>
<ellipse cx="158.3" cy="138.9" rx="0.8" ry="0.5" fill="#e4e4e4" opacity="0.85"/>
<ellipse cx="47.6" cy="135.9" rx="1.5" ry="0.7" fill="#e4e4e4" opacity="0.85"/>
<ellipse cx="49.0" cy="140.6" rx="1.5" ry="0.5" fill="#e4e4e4" opacity="0.85"/>
<ellipse cx="150.0" cy="138.6" rx="1.5" ry="0.9" fill="#e4e4e4" opacity="0.85"/>
<ellipse cx="150.4" cy="139.8" rx="1.6" ry="0.6" fill="#e4e4e4" opacity="0.85"/>
<ellipse cx="122.9" cy="138.0" rx="1.5" ry="0.8" fill="#e4e4e4" opacity="0.85"/>
<ellipse cx="148.9" cy="138.2" rx="0.8" ry="0.6" fill="#e4e4e4" opacity="0.85"/>
<ellipse cx="47.2" cy="137.8" rx="0.6" ry="0.8" fill="#e4e4e4" opacity="0.85"/>
<ellipse cx="47.9" cy="137.7" rx="1.1" ry="0.8" fill="#e4e4e4" opacity="0.85"/>
<ellipse cx="146.1" cy="134.3" rx="1.6" ry="0.8" fill="#e4e4e4" opacity="0.85"/>
<ellipse cx="105.1" cy="139.0" rx="1.6" ry="0.7" fill="#e4e4e4" opacity="0.85"/>
<ellipse cx="85.4" cy="141.0" rx="0.6" ry="0.9" fill="#e4e4e4" opacity="0.85"/>
<ellipse cx="115.1" cy="134.5" rx="1.3" ry="0.9" fill="#e4e4e4" opacity="0.85"/>
<ellipse cx="155.5" cy="136.6" rx="1.8" ry="0.8" fill="#e4e4e4" opacity="0.85"/>
<ellipse cx="94.4" cy="140.6" rx="0.5" ry="1.0" fill="#e4e4e4" opacity="0.85"/>
<ellipse cx="113.6" cy="136.7" rx="1.6" ry="0.7" fill="#e4e4e4" opacity="0.85"/>
<ellipse cx="93.0" cy="138.0" rx="1.5" ry="0.6" fill="#e4e4e4" opacity="0.85"/>
<ellipse cx="87.6" cy="137.3" rx="1.2" ry="1.1" fill="#e4e4e4" opacity="0.85"/>
<ellipse cx="68.2" cy="140.1" rx="1.0" ry="0.8" fill="#e4e4e4" opacity="0.85"/>
<ellipse cx="65.3" cy="137.8" rx="1.8" ry="0.9" fill="#e4e4e4" opacity="0.85"/>
<ellipse cx="136.4" cy="136.6" rx="0.9" ry="0.6" fill="#e4e4e4" opacity="0.85"/>
<ellipse cx="108.3" cy="138.7" rx="1.5" ry="0.4" fill="#e4e4e4" opacity="0.85"/>
<ellipse cx="127.0" cy="140.5" rx="1.2" ry="0.4" fill="#e4e4e4" opacity="0.85"/>
<ellipse cx="69.2" cy="134.3" rx="0.7" ry="1.1" fill="#e4e4e4" opacity="0.85"/>
<ellipse cx="111.4" cy="138.9" rx="1.5" ry="1.1" fill="#e4e4e4" opacity="0.85"/>
<ellipse cx="111.8" cy="138.6" rx="1.3" ry="1.0" fill="#e4e4e4" opacity="0.85"/>
<ellipse cx="109.7" cy="139.1" rx="0.8" ry="0.9" fill="#e4e4e4" opacity="0.85"/>
<ellipse cx="90.7" cy="139.6" rx="0.6" ry="0.5" fill="#e4e4e4" opacity="0.85"/>
<ellipse cx="33.2" cy="139.7" rx="1.7" ry="0.9" fill="#e4e4e4" opacity="0.85"/>
<ellipse cx="78.6" cy="140.1" rx="1.5" ry="0.8" fill="#e4e4e4" opacity="0.85"/>
<ellipse cx="63.4" cy="136.4" rx="1.0" ry="0.7" fill="#e4e4e4" opacity="0.85"/>
<ellipse cx="87.0" cy="138.8" rx="1.7" ry="0.4" fill="#e4e4e4" opacity="0.85"/>
<ellipse cx="105.7" cy="134.6" rx="0.7" ry="1.0" fill="#e4e4e4" opacity="0.85"/>
<ellipse cx="106.8" cy="140.7" rx="1.1" ry="0.4" fill="#e4e4e4" opacity="0.85"/>
<ellipse cx="81.1" cy="138.4" rx="1.7" ry="1.2" fill="#e4e4e4" opacity="0.85"/>
</g>
<line x1="28.1" y1="95.6" x2="164.9" y2="95.6" stroke="#ea2430" stroke-width="1.35" stroke-dasharray="3.6 3" stroke-dashoffset="2.4" opacity="0.75"/>
<line x1="28.1" y1="102.6" x2="164.9" y2="102.6" stroke="#ea2430" stroke-width="1.35" stroke-dasharray="3.6 3" stroke-dashoffset="2.1" opacity="0.75"/>
<line x1="28.1" y1="109.8" x2="164.9" y2="109.8" stroke="#ea2430" stroke-width="1.35" stroke-dasharray="3.6 3" stroke-dashoffset="0.5" opacity="0.75"/>
<line x1="28.1" y1="117.3" x2="164.9" y2="117.3" stroke="#ea2430" stroke-width="1.35" stroke-dasharray="3.6 3" stroke-dashoffset="3.2" opacity="0.75"/>
<line x1="28.1" y1="124.6" x2="164.9" y2="124.6" stroke="#ea2430" stroke-width="1.35" stroke-dasharray="3.6 3" stroke-dashoffset="1.1" opacity="0.75"/>
<line x1="28.1" y1="131.9" x2="164.9" y2="131.9" stroke="#ea2430" stroke-width="1.35" stroke-dasharray="3.6 3" stroke-dashoffset="0.8" opacity="0.75"/>
</g>
<text x="4.20" y="158.00" font-size="15" text-anchor="start" font-weight="bold" fill="#111" >(b)</text>
<rect x="33.72" y="179.78" width="2.66" height="25.42" fill="#36317f"/>
<rect x="36.33" y="179.80" width="2.66" height="25.40" fill="#36317f"/>
<rect x="38.94" y="179.42" width="2.66" height="25.78" fill="#36317f"/>
<rect x="41.55" y="179.98" width="2.66" height="25.22" fill="#36317f"/>
<rect x="44.16" y="177.73" width="2.66" height="27.47" fill="#36317f"/>
<rect x="46.77" y="178.61" width="2.66" height="26.59" fill="#36317f"/>
<rect x="49.38" y="177.83" width="2.66" height="27.37" fill="#36317f"/>
<rect x="51.99" y="177.07" width="2.66" height="28.13" fill="#36317f"/>
<rect x="54.60" y="177.18" width="2.66" height="28.02" fill="#36317f"/>
<rect x="57.21" y="176.48" width="2.66" height="28.72" fill="#36317f"/>
<rect x="59.82" y="175.36" width="2.66" height="29.84" fill="#36317f"/>
<rect x="62.43" y="174.37" width="2.66" height="30.83" fill="#36317f"/>
<rect x="65.04" y="174.91" width="2.66" height="30.29" fill="#36317f"/>
<rect x="67.65" y="175.05" width="2.66" height="30.15" fill="#36317f"/>
<rect x="70.26" y="175.33" width="2.66" height="29.87" fill="#36317f"/>
<rect x="72.87" y="175.39" width="2.66" height="29.81" fill="#36317f"/>
<rect x="75.48" y="173.64" width="2.66" height="31.56" fill="#36317f"/>
<rect x="78.09" y="174.87" width="2.66" height="30.33" fill="#36317f"/>
<rect x="80.70" y="173.22" width="2.66" height="31.98" fill="#36317f"/>
<rect x="83.31" y="172.67" width="2.66" height="32.53" fill="#36317f"/>
<rect x="85.92" y="172.59" width="2.66" height="32.61" fill="#36317f"/>
<rect x="88.53" y="171.24" width="2.66" height="33.96" fill="#36317f"/>
<rect x="91.14" y="170.77" width="2.66" height="34.43" fill="#36317f"/>
<rect x="93.75" y="171.45" width="2.66" height="33.75" fill="#36317f"/>
<rect x="96.36" y="172.04" width="2.66" height="33.16" fill="#36317f"/>
<rect x="98.97" y="174.08" width="2.66" height="31.12" fill="#36317f"/>
<rect x="101.58" y="177.19" width="2.66" height="28.01" fill="#36317f"/>
<rect x="104.19" y="179.19" width="2.66" height="26.01" fill="#36317f"/>
<rect x="106.80" y="179.15" width="2.66" height="26.05" fill="#36317f"/>
<rect x="109.41" y="178.98" width="2.66" height="26.22" fill="#36317f"/>
<rect x="112.02" y="180.62" width="2.66" height="24.58" fill="#36317f"/>
<rect x="114.63" y="180.39" width="2.66" height="24.81" fill="#36317f"/>
<rect x="117.24" y="180.67" width="2.66" height="24.53" fill="#36317f"/>
<rect x="119.85" y="181.23" width="2.66" height="23.97" fill="#36317f"/>
<rect x="122.46" y="180.54" width="2.66" height="24.66" fill="#36317f"/>
<rect x="125.07" y="180.91" width="2.66" height="24.29" fill="#36317f"/>
<rect x="127.68" y="181.74" width="2.66" height="23.46" fill="#36317f"/>
<rect x="130.29" y="181.43" width="2.66" height="23.77" fill="#36317f"/>
<rect x="132.90" y="181.23" width="2.66" height="23.97" fill="#36317f"/>
<rect x="135.51" y="181.36" width="2.66" height="23.84" fill="#36317f"/>
<rect x="138.12" y="180.42" width="2.66" height="24.78" fill="#36317f"/>
<rect x="140.73" y="180.96" width="2.66" height="24.24" fill="#36317f"/>
<rect x="143.34" y="180.30" width="2.66" height="24.90" fill="#36317f"/>
<rect x="145.95" y="180.74" width="2.66" height="24.46" fill="#36317f"/>
<rect x="148.56" y="178.06" width="2.66" height="27.14" fill="#36317f"/>
<rect x="151.17" y="179.67" width="2.66" height="25.53" fill="#36317f"/>
<line x1="36.33" y1="180.30" x2="36.33" y2="205.20" stroke="#47429a" stroke-width="0.3"/>
<line x1="38.94" y1="180.30" x2="38.94" y2="205.20" stroke="#47429a" stroke-width="0.3"/>
<line x1="41.55" y1="180.48" x2="41.55" y2="205.20" stroke="#47429a" stroke-width="0.3"/>
<line x1="44.16" y1="180.48" x2="44.16" y2="205.20" stroke="#47429a" stroke-width="0.3"/>
<line x1="46.77" y1="179.11" x2="46.77" y2="205.20" stroke="#47429a" stroke-width="0.3"/>
<line x1="49.38" y1="179.11" x2="49.38" y2="205.20" stroke="#47429a" stroke-width="0.3"/>
<line x1="51.99" y1="178.33" x2="51.99" y2="205.20" stroke="#47429a" stroke-width="0.3"/>
<line x1="54.60" y1="177.68" x2="54.60" y2="205.20" stroke="#47429a" stroke-width="0.3"/>
<line x1="57.21" y1="177.68" x2="57.21" y2="205.20" stroke="#47429a" stroke-width="0.3"/>
<line x1="59.82" y1="176.98" x2="59.82" y2="205.20" stroke="#47429a" stroke-width="0.3"/>
<line x1="62.43" y1="175.86" x2="62.43" y2="205.20" stroke="#47429a" stroke-width="0.3"/>
<line x1="65.04" y1="175.41" x2="65.04" y2="205.20" stroke="#47429a" stroke-width="0.3"/>
<line x1="67.65" y1="175.55" x2="67.65" y2="205.20" stroke="#47429a" stroke-width="0.3"/>
<line x1="70.26" y1="175.83" x2="70.26" y2="205.20" stroke="#47429a" stroke-width="0.3"/>
<line x1="72.87" y1="175.89" x2="72.87" y2="205.20" stroke="#47429a" stroke-width="0.3"/>
<line x1="75.48" y1="175.89" x2="75.48" y2="205.20" stroke="#47429a" stroke-width="0.3"/>
<line x1="78.09" y1="175.37" x2="78.09" y2="205.20" stroke="#47429a" stroke-width="0.3"/>
<line x1="80.70" y1="175.37" x2="80.70" y2="205.20" stroke="#47429a" stroke-width="0.3"/>
<line x1="83.31" y1="173.72" x2="83.31" y2="205.20" stroke="#47429a" stroke-width="0.3"/>
<line x1="85.92" y1="173.17" x2="85.92" y2="205.20" stroke="#47429a" stroke-width="0.3"/>
<line x1="88.53" y1="173.09" x2="88.53" y2="205.20" stroke="#47429a" stroke-width="0.3"/>
<line x1="91.14" y1="171.74" x2="91.14" y2="205.20" stroke="#47429a" stroke-width="0.3"/>
<line x1="93.75" y1="171.95" x2="93.75" y2="205.20" stroke="#47429a" stroke-width="0.3"/>
<line x1="96.36" y1="172.54" x2="96.36" y2="205.20" stroke="#47429a" stroke-width="0.3"/>
<line x1="98.97" y1="174.58" x2="98.97" y2="205.20" stroke="#47429a" stroke-width="0.3"/>
<line x1="101.58" y1="177.69" x2="101.58" y2="205.20" stroke="#47429a" stroke-width="0.3"/>
<line x1="104.19" y1="179.69" x2="104.19" y2="205.20" stroke="#47429a" stroke-width="0.3"/>
<line x1="106.80" y1="179.69" x2="106.80" y2="205.20" stroke="#47429a" stroke-width="0.3"/>
<line x1="109.41" y1="179.65" x2="109.41" y2="205.20" stroke="#47429a" stroke-width="0.3"/>
<line x1="112.02" y1="181.12" x2="112.02" y2="205.20" stroke="#47429a" stroke-width="0.3"/>
<line x1="114.63" y1="181.12" x2="114.63" y2="205.20" stroke="#47429a" stroke-width="0.3"/>
<line x1="117.24" y1="181.17" x2="117.24" y2="205.20" stroke="#47429a" stroke-width="0.3"/>
<line x1="119.85" y1="181.73" x2="119.85" y2="205.20" stroke="#47429a" stroke-width="0.3"/>
<line x1="122.46" y1="181.73" x2="122.46" y2="205.20" stroke="#47429a" stroke-width="0.3"/>
<line x1="125.07" y1="181.41" x2="125.07" y2="205.20" stroke="#47429a" stroke-width="0.3"/>
<line x1="127.68" y1="182.24" x2="127.68" y2="205.20" stroke="#47429a" stroke-width="0.3"/>
<line x1="130.29" y1="182.24" x2="130.29" y2="205.20" stroke="#47429a" stroke-width="0.3"/>
<line x1="132.90" y1="181.93" x2="132.90" y2="205.20" stroke="#47429a" stroke-width="0.3"/>
<line x1="135.51" y1="181.86" x2="135.51" y2="205.20" stroke="#47429a" stroke-width="0.3"/>
<line x1="138.12" y1="181.86" x2="138.12" y2="205.20" stroke="#47429a" stroke-width="0.3"/>
<line x1="140.73" y1="181.46" x2="140.73" y2="205.20" stroke="#47429a" stroke-width="0.3"/>
<line x1="143.34" y1="181.46" x2="143.34" y2="205.20" stroke="#47429a" stroke-width="0.3"/>
<line x1="145.95" y1="181.24" x2="145.95" y2="205.20" stroke="#47429a" stroke-width="0.3"/>
<line x1="148.56" y1="181.24" x2="148.56" y2="205.20" stroke="#47429a" stroke-width="0.3"/>
<line x1="151.17" y1="180.17" x2="151.17" y2="205.20" stroke="#47429a" stroke-width="0.3"/>
<line x1="27.0" y1="163.3" x2="27.0" y2="205.2" stroke="#999" stroke-width="0.6"/>
<line x1="27.0" y1="205.2" x2="160.31" y2="205.2" stroke="#aaa" stroke-width="0.6"/>
<line x1="27.0" y1="205.20" x2="28.2" y2="205.20" stroke="#999" stroke-width="0.5"/>
<text x="25.20" y="206.40" font-size="3.5" text-anchor="end" font-weight="bold" fill="#333" textLength="1.32" lengthAdjust="spacingAndGlyphs" >0</text>
<line x1="27.0" y1="196.82" x2="28.2" y2="196.82" stroke="#999" stroke-width="0.5"/>
<text x="25.20" y="198.02" font-size="3.5" text-anchor="end" font-weight="bold" fill="#333" textLength="3.96" lengthAdjust="spacingAndGlyphs" >500</text>
<line x1="27.0" y1="188.44" x2="28.2" y2="188.44" stroke="#999" stroke-width="0.5"/>
<text x="25.20" y="189.64" font-size="3.5" text-anchor="end" font-weight="bold" fill="#333" textLength="5.28" lengthAdjust="spacingAndGlyphs" >1000</text>
<line x1="27.0" y1="180.06" x2="28.2" y2="180.06" stroke="#999" stroke-width="0.5"/>
<text x="25.20" y="181.26" font-size="3.5" text-anchor="end" font-weight="bold" fill="#333" textLength="5.28" lengthAdjust="spacingAndGlyphs" >1500</text>
<line x1="27.0" y1="171.68" x2="28.2" y2="171.68" stroke="#999" stroke-width="0.5"/>
<text x="25.20" y="172.88" font-size="3.5" text-anchor="end" font-weight="bold" fill="#333" textLength="5.28" lengthAdjust="spacingAndGlyphs" >2000</text>
<line x1="27.0" y1="163.30" x2="28.2" y2="163.30" stroke="#999" stroke-width="0.5"/>
<text x="25.20" y="164.50" font-size="3.5" text-anchor="end" font-weight="bold" fill="#333" textLength="5.28" lengthAdjust="spacingAndGlyphs" >2500</text>
<text x="28.50" y="210.20" font-size="3.5" text-anchor="middle" font-weight="bold" fill="#333" textLength="5.4" lengthAdjust="spacingAndGlyphs" >-100</text>
<text x="41.55" y="210.20" font-size="3.5" text-anchor="middle" font-weight="bold" fill="#333" textLength="4.05" lengthAdjust="spacingAndGlyphs" >-80</text>
<text x="54.60" y="210.20" font-size="3.5" text-anchor="middle" font-weight="bold" fill="#333" textLength="4.05" lengthAdjust="spacingAndGlyphs" >-60</text>
<text x="67.65" y="210.20" font-size="3.5" text-anchor="middle" font-weight="bold" fill="#333" textLength="4.05" lengthAdjust="spacingAndGlyphs" >-40</text>
<text x="80.70" y="210.20" font-size="3.5" text-anchor="middle" font-weight="bold" fill="#333" textLength="4.05" lengthAdjust="spacingAndGlyphs" >-20</text>
<text x="93.75" y="210.20" font-size="3.5" text-anchor="middle" font-weight="bold" fill="#333" textLength="1.35" lengthAdjust="spacingAndGlyphs" >0</text>
<text x="106.80" y="210.20" font-size="3.5" text-anchor="middle" font-weight="bold" fill="#333" textLength="2.7" lengthAdjust="spacingAndGlyphs" >20</text>
<text x="119.85" y="210.20" font-size="3.5" text-anchor="middle" font-weight="bold" fill="#333" textLength="2.7" lengthAdjust="spacingAndGlyphs" >40</text>
<text x="132.90" y="210.20" font-size="3.5" text-anchor="middle" font-weight="bold" fill="#333" textLength="2.7" lengthAdjust="spacingAndGlyphs" >60</text>
<text x="145.95" y="210.20" font-size="3.5" text-anchor="middle" font-weight="bold" fill="#333" textLength="2.7" lengthAdjust="spacingAndGlyphs" >80</text>
<text x="159.00" y="210.20" font-size="3.5" text-anchor="middle" font-weight="bold" fill="#333" textLength="4.05" lengthAdjust="spacingAndGlyphs" >100</text>
<text x="15.40" y="184.50" font-size="4.6" text-anchor="middle" font-weight="bold" fill="#333" textLength="17.5" lengthAdjust="spacingAndGlyphs" transform="rotate(-90 15.4 184.5)">Number</text>
<text x="33.40" y="219.50" font-size="6.5" text-anchor="start" font-weight="bold" fill="#000" stroke="#000" stroke-width="0.15" textLength="115.4" lengthAdjust="spacingAndGlyphs" >Angular Deviation From Trenches – Smooth</text>
<clipPath id="clipb"><rect x="25.0" y="222.9" width="136.6" height="60.2"/></clipPath>
<filter id="blb" x="0" y="0" width="1" height="1"><feGaussianBlur stdDeviation="0.5"/></filter>
<g clip-path="url(#clipb)"><g filter="url(#blb)">
<rect x="25.0" y="222.9" width="136.6" height="60.2" fill="#8c8c8c"/>
<ellipse cx="82.1" cy="246.1" rx="18.4" ry="3.3" fill="#848484" opacity="0.75" transform="rotate(102.2 82.1 246.1)"/>
<ellipse cx="158.0" cy="265.2" rx="31.1" ry="6.6" fill="#9c9c9c" opacity="0.75" transform="rotate(66.6 158.0 265.2)"/>
<ellipse cx="27.1" cy="232.0" rx="17.4" ry="4.9" fill="#767676" opacity="0.75" transform="rotate(69.8 27.1 232.0)"/>
<ellipse cx="76.4" cy="269.3" rx="29.8" ry="4.4" fill="#c0c0c0" opacity="0.75" transform="rotate(75.7 76.4 269.3)"/>
<ellipse cx="25.2" cy="238.7" rx="28.8" ry="6.9" fill="#848484" opacity="0.75" transform="rotate(91.4 25.2 238.7)"/>
<ellipse cx="64.4" cy="231.4" rx="15.2" ry="7.9" fill="#9c9c9c" opacity="0.75" transform="rotate(95.3 64.4 231.4)"/>
<ellipse cx="133.9" cy="255.9" rx="22.7" ry="4.9" fill="#848484" opacity="0.75" transform="rotate(67.0 133.9 255.9)"/>
<ellipse cx="132.6" cy="266.4" rx="25.4" ry="6.4" fill="#c0c0c0" opacity="0.75" transform="rotate(75.6 132.6 266.4)"/>
<ellipse cx="88.6" cy="235.3" rx="22.1" ry="3.4" fill="#767676" opacity="0.75" transform="rotate(112.1 88.6 235.3)"/>
<ellipse cx="135.2" cy="269.4" rx="24.8" ry="7.5" fill="#c0c0c0" opacity="0.75" transform="rotate(119.1 135.2 269.4)"/>
<ellipse cx="145.9" cy="254.3" rx="16.0" ry="6.5" fill="#848484" opacity="0.75" transform="rotate(124.2 145.9 254.3)"/>
<ellipse cx="74.6" cy="256.9" rx="29.2" ry="7.3" fill="#848484" opacity="0.75" transform="rotate(87.6 74.6 256.9)"/>
<ellipse cx="58.6" cy="278.4" rx="25.9" ry="6.9" fill="#848484" opacity="0.75" transform="rotate(82.0 58.6 278.4)"/>
<ellipse cx="46.3" cy="258.9" rx="18.2" ry="6.0" fill="#767676" opacity="0.75" transform="rotate(86.0 46.3 258.9)"/>
<ellipse cx="37.9" cy="235.2" rx="17.8" ry="6.9" fill="#9c9c9c" opacity="0.75" transform="rotate(76.3 37.9 235.2)"/>
<ellipse cx="83.2" cy="279.9" rx="33.2" ry="4.3" fill="#9c9c9c" opacity="0.75" transform="rotate(112.9 83.2 279.9)"/>
<ellipse cx="30.2" cy="235.0" rx="12.8" ry="4.8" fill="#c0c0c0" opacity="0.75" transform="rotate(83.0 30.2 235.0)"/>
<ellipse cx="121.4" cy="252.2" rx="32.3" ry="6.5" fill="#b4b4b4" opacity="0.75" transform="rotate(136.5 121.4 252.2)"/>
<ellipse cx="37.3" cy="242.1" rx="26.7" ry="5.0" fill="#c0c0c0" opacity="0.75" transform="rotate(74.5 37.3 242.1)"/>
<ellipse cx="86.2" cy="232.5" rx="16.9" ry="3.2" fill="#c0c0c0" opacity="0.75" transform="rotate(96.5 86.2 232.5)"/>
<ellipse cx="60.0" cy="244.1" rx="13.0" ry="6.9" fill="#9c9c9c" opacity="0.75" transform="rotate(93.4 60.0 244.1)"/>
<ellipse cx="121.9" cy="261.8" rx="14.2" ry="4.6" fill="#848484" opacity="0.75" transform="rotate(48.3 121.9 261.8)"/>
<ellipse cx="25.8" cy="234.9" rx="26.4" ry="5.4" fill="#767676" opacity="0.75" transform="rotate(78.5 25.8 234.9)"/>
<ellipse cx="75.8" cy="246.4" rx="22.6" ry="3.8" fill="#767676" opacity="0.75" transform="rotate(80.5 75.8 246.4)"/>
<ellipse cx="57.6" cy="231.5" rx="29.6" ry="3.8" fill="#b4b4b4" opacity="0.75" transform="rotate(71.0 57.6 231.5)"/>
<ellipse cx="138.8" cy="227.6" rx="31.6" ry="3.7" fill="#9c9c9c" opacity="0.75" transform="rotate(82.0 138.8 227.6)"/>
<ellipse cx="86.1" cy="228.7" rx="19.5" ry="7.1" fill="#848484" opacity="0.75" transform="rotate(61.9 86.1 228.7)"/>
<ellipse cx="90.2" cy="260.7" rx="16.9" ry="3.3" fill="#c0c0c0" opacity="0.75" transform="rotate(93.7 90.2 260.7)"/>
<ellipse cx="122.5" cy="256.2" rx="21.1" ry="3.8" fill="#c0c0c0" opacity="0.75" transform="rotate(139.9 122.5 256.2)"/>
<ellipse cx="62.0" cy="273.4" rx="29.7" ry="4.3" fill="#767676" opacity="0.75" transform="rotate(80.6 62.0 273.4)"/>
<ellipse cx="39.9" cy="250.4" rx="13.3" ry="7.5" fill="#848484" opacity="0.75" transform="rotate(96.5 39.9 250.4)"/>
<ellipse cx="116.3" cy="235.6" rx="14.6" ry="6.8" fill="#848484" opacity="0.75" transform="rotate(94.4 116.3 235.6)"/>
<ellipse cx="157.6" cy="248.9" rx="18.4" ry="7.5" fill="#767676" opacity="0.75" transform="rotate(125.6 157.6 248.9)"/>
<ellipse cx="32.9" cy="266.6" rx="15.2" ry="6.2" fill="#767676" opacity="0.75" transform="rotate(82.8 32.9 266.6)"/>
<ellipse cx="85.4" cy="253.5" rx="32.8" ry="4.4" fill="#9c9c9c" opacity="0.75" transform="rotate(54.8 85.4 253.5)"/>
<ellipse cx="74.2" cy="225.3" rx="16.8" ry="5.9" fill="#848484" opacity="0.75" transform="rotate(87.7 74.2 225.3)"/>
<ellipse cx="43.9" cy="233.7" rx="13.7" ry="3.4" fill="#c0c0c0" opacity="0.75" transform="rotate(83.1 43.9 233.7)"/>
<ellipse cx="108.1" cy="252.7" rx="16.5" ry="6.1" fill="#767676" opacity="0.75" transform="rotate(62.9 108.1 252.7)"/>
<ellipse cx="121.7" cy="271.8" rx="28.1" ry="5.0" fill="#9c9c9c" opacity="0.75" transform="rotate(79.0 121.7 271.8)"/>
<ellipse cx="123.6" cy="226.2" rx="18.2" ry="6.2" fill="#767676" opacity="0.75" transform="rotate(81.2 123.6 226.2)"/>
<ellipse cx="154.2" cy="228.3" rx="17.5" ry="5.8" fill="#848484" opacity="0.75" transform="rotate(143.9 154.2 228.3)"/>
<ellipse cx="159.6" cy="225.1" rx="19.8" ry="7.7" fill="#767676" opacity="0.75" transform="rotate(67.9 159.6 225.1)"/>
<ellipse cx="157.3" cy="227.2" rx="19.1" ry="6.6" fill="#767676" opacity="0.75" transform="rotate(129.3 157.3 227.2)"/>
<ellipse cx="77.1" cy="268.1" rx="31.2" ry="7.8" fill="#b4b4b4" opacity="0.75" transform="rotate(85.4 77.1 268.1)"/>
<ellipse cx="92.6" cy="253.8" rx="13.9" ry="6.1" fill="#9c9c9c" opacity="0.75" transform="rotate(116.0 92.6 253.8)"/>
<ellipse cx="47.9" cy="241.7" rx="30.0" ry="3.2" fill="#9c9c9c" opacity="0.75" transform="rotate(87.4 47.9 241.7)"/>
<ellipse cx="38.2" cy="265.0" rx="26.0" ry="5.3" fill="#c0c0c0" opacity="0.75" transform="rotate(83.2 38.2 265.0)"/>
<ellipse cx="57.6" cy="249.6" rx="31.1" ry="6.6" fill="#767676" opacity="0.75" transform="rotate(95.4 57.6 249.6)"/>
<ellipse cx="31.2" cy="230.3" rx="14.4" ry="3.6" fill="#848484" opacity="0.75" transform="rotate(75.3 31.2 230.3)"/>
<ellipse cx="145.8" cy="255.5" rx="15.2" ry="5.9" fill="#c0c0c0" opacity="0.75" transform="rotate(114.2 145.8 255.5)"/>
<ellipse cx="127.0" cy="232.8" rx="25.3" ry="3.2" fill="#b4b4b4" opacity="0.75" transform="rotate(130.8 127.0 232.8)"/>
<ellipse cx="157.6" cy="226.0" rx="20.8" ry="7.2" fill="#767676" opacity="0.75" transform="rotate(66.6 157.6 226.0)"/>
<ellipse cx="122.7" cy="273.7" rx="13.2" ry="5.6" fill="#9c9c9c" opacity="0.75" transform="rotate(84.9 122.7 273.7)"/>
<ellipse cx="155.8" cy="279.1" rx="26.6" ry="3.1" fill="#c0c0c0" opacity="0.75" transform="rotate(119.0 155.8 279.1)"/>
<ellipse cx="39.9" cy="234.2" rx="12.5" ry="3.7" fill="#767676" opacity="0.75" transform="rotate(77.5 39.9 234.2)"/>
<ellipse cx="157.5" cy="269.7" rx="29.8" ry="7.4" fill="#848484" opacity="0.75" transform="rotate(62.4 157.5 269.7)"/>
<ellipse cx="145.8" cy="225.0" rx="25.8" ry="7.0" fill="#9c9c9c" opacity="0.75" transform="rotate(88.9 145.8 225.0)"/>
<ellipse cx="29.9" cy="229.0" rx="23.4" ry="5.2" fill="#b4b4b4" opacity="0.75" transform="rotate(79.9 29.9 229.0)"/>
<ellipse cx="154.9" cy="240.2" rx="25.1" ry="7.8" fill="#767676" opacity="0.75" transform="rotate(75.3 154.9 240.2)"/>
<ellipse cx="95.2" cy="239.1" rx="23.7" ry="3.7" fill="#848484" opacity="0.75" transform="rotate(108.8 95.2 239.1)"/>
<ellipse cx="41.9" cy="230.8" rx="18.0" ry="6.7" fill="#767676" opacity="0.75" transform="rotate(90.8 41.9 230.8)"/>
<ellipse cx="126.1" cy="240.2" rx="26.3" ry="4.0" fill="#848484" opacity="0.75" transform="rotate(116.0 126.1 240.2)"/>
<ellipse cx="122.0" cy="250.6" rx="18.8" ry="4.2" fill="#9c9c9c" opacity="0.75" transform="rotate(70.3 122.0 250.6)"/>
<ellipse cx="55.3" cy="253.7" rx="33.3" ry="5.0" fill="#848484" opacity="0.75" transform="rotate(79.6 55.3 253.7)"/>
<ellipse cx="151.2" cy="232.7" rx="18.3" ry="7.9" fill="#c0c0c0" opacity="0.75" transform="rotate(68.2 151.2 232.7)"/>
<ellipse cx="65.4" cy="269.4" rx="24.1" ry="6.0" fill="#c0c0c0" opacity="0.75" transform="rotate(81.6 65.4 269.4)"/>
<ellipse cx="72.5" cy="262.5" rx="28.2" ry="3.5" fill="#9c9c9c" opacity="0.75" transform="rotate(79.1 72.5 262.5)"/>
<ellipse cx="55.8" cy="280.7" rx="21.2" ry="6.3" fill="#c0c0c0" opacity="0.75" transform="rotate(88.2 55.8 280.7)"/>
<ellipse cx="44.2" cy="235.1" rx="23.4" ry="6.7" fill="#9c9c9c" opacity="0.75" transform="rotate(90.5 44.2 235.1)"/>
<ellipse cx="126.5" cy="268.6" rx="29.3" ry="6.5" fill="#848484" opacity="0.75" transform="rotate(64.5 126.5 268.6)"/>
<ellipse cx="148.9" cy="232.0" rx="28.6" ry="0.8" fill="#dadada" opacity="0.8" transform="rotate(34.9 148.9 232.0)"/>
<ellipse cx="149.9" cy="230.6" rx="27.2" ry="0.7" fill="#1c1c1c" opacity="0.8" transform="rotate(34.9 149.9 230.6)"/>
<ellipse cx="99.6" cy="246.6" rx="26.6" ry="2.1" fill="#dadada" opacity="0.8" transform="rotate(112.3 99.6 246.6)"/>
<ellipse cx="103.1" cy="248.1" rx="25.3" ry="1.8" fill="#1c1c1c" opacity="0.8" transform="rotate(112.3 103.1 248.1)"/>
<ellipse cx="37.8" cy="274.6" rx="24.6" ry="1.2" fill="#dadada" opacity="0.8" transform="rotate(80.6 37.8 274.6)"/>
<ellipse cx="40.2" cy="274.2" rx="23.4" ry="1.0" fill="#1c1c1c" opacity="0.8" transform="rotate(80.6 40.2 274.2)"/>
<ellipse cx="95.3" cy="257.9" rx="23.6" ry="0.8" fill="#dadada" opacity="0.8" transform="rotate(118.0 95.3 257.9)"/>
<ellipse cx="96.9" cy="258.7" rx="22.4" ry="0.7" fill="#1c1c1c" opacity="0.8" transform="rotate(118.0 96.9 258.7)"/>
<ellipse cx="138.9" cy="253.3" rx="19.0" ry="1.1" fill="#dadada" opacity="0.8" transform="rotate(81.1 138.9 253.3)"/>
<ellipse cx="141.1" cy="253.0" rx="18.0" ry="0.9" fill="#1c1c1c" opacity="0.8" transform="rotate(81.1 141.1 253.0)"/>
<ellipse cx="74.0" cy="237.4" rx="27.5" ry="1.3" fill="#dadada" opacity="0.8" transform="rotate(77.9 74.0 237.4)"/>
<ellipse cx="76.5" cy="236.9" rx="26.1" ry="1.1" fill="#1c1c1c" opacity="0.8" transform="rotate(77.9 76.5 236.9)"/>
<ellipse cx="156.2" cy="257.3" rx="14.5" ry="1.3" fill="#dadada" opacity="0.8" transform="rotate(152.4 156.2 257.3)"/>
<ellipse cx="157.4" cy="259.5" rx="13.7" ry="1.1" fill="#1c1c1c" opacity="0.8" transform="rotate(152.4 157.4 259.5)"/>
<ellipse cx="26.1" cy="239.0" rx="29.2" ry="1.2" fill="#dadada" opacity="0.8" transform="rotate(74.5 26.1 239.0)"/>
<ellipse cx="28.5" cy="238.3" rx="27.7" ry="1.0" fill="#1c1c1c" opacity="0.8" transform="rotate(74.5 28.5 238.3)"/>
<ellipse cx="95.7" cy="240.7" rx="22.9" ry="1.5" fill="#dadada" opacity="0.8" transform="rotate(110.8 95.7 240.7)"/>
<ellipse cx="98.3" cy="241.7" rx="21.8" ry="1.2" fill="#1c1c1c" opacity="0.8" transform="rotate(110.8 98.3 241.7)"/>
<ellipse cx="86.0" cy="226.8" rx="24.2" ry="1.5" fill="#dadada" opacity="0.8" transform="rotate(59.6 86.0 226.8)"/>
<ellipse cx="88.4" cy="225.4" rx="23.0" ry="1.2" fill="#1c1c1c" opacity="0.8" transform="rotate(59.6 88.4 225.4)"/>
<ellipse cx="115.2" cy="253.1" rx="11.2" ry="1.4" fill="#dadada" opacity="0.8" transform="rotate(122.7 115.2 253.1)"/>
<ellipse cx="117.4" cy="254.5" rx="10.7" ry="1.1" fill="#1c1c1c" opacity="0.8" transform="rotate(122.7 117.4 254.5)"/>
<ellipse cx="43.5" cy="235.0" rx="18.5" ry="1.4" fill="#dadada" opacity="0.8" transform="rotate(72.9 43.5 235.0)"/>
<ellipse cx="46.1" cy="234.2" rx="17.6" ry="1.2" fill="#1c1c1c" opacity="0.8" transform="rotate(72.9 46.1 234.2)"/>
<ellipse cx="126.8" cy="278.6" rx="22.2" ry="1.9" fill="#dadada" opacity="0.8" transform="rotate(61.8 126.8 278.6)"/>
<ellipse cx="129.8" cy="277.0" rx="21.1" ry="1.5" fill="#1c1c1c" opacity="0.8" transform="rotate(61.8 129.8 277.0)"/>
<ellipse cx="156.6" cy="272.8" rx="20.5" ry="1.0" fill="#dadada" opacity="0.8" transform="rotate(84.9 156.6 272.8)"/>
<ellipse cx="158.7" cy="272.6" rx="19.5" ry="0.8" fill="#1c1c1c" opacity="0.8" transform="rotate(84.9 158.7 272.6)"/>
<ellipse cx="116.2" cy="270.0" rx="31.3" ry="2.2" fill="#dadada" opacity="0.8" transform="rotate(127.5 116.2 270.0)"/>
<ellipse cx="119.2" cy="272.3" rx="29.7" ry="1.8" fill="#1c1c1c" opacity="0.8" transform="rotate(127.5 119.2 272.3)"/>
<ellipse cx="134.4" cy="237.2" rx="29.1" ry="1.4" fill="#dadada" opacity="0.8" transform="rotate(50.0 134.4 237.2)"/>
<ellipse cx="136.5" cy="235.4" rx="27.6" ry="1.2" fill="#1c1c1c" opacity="0.8" transform="rotate(50.0 136.5 235.4)"/>
<ellipse cx="107.6" cy="261.4" rx="16.9" ry="2.3" fill="#dadada" opacity="0.8" transform="rotate(57.5 107.6 261.4)"/>
<ellipse cx="111.1" cy="259.2" rx="16.1" ry="1.9" fill="#1c1c1c" opacity="0.8" transform="rotate(57.5 111.1 259.2)"/>
<ellipse cx="21.5" cy="266.1" rx="21.4" ry="2.2" fill="#dadada" opacity="0.8" transform="rotate(83.2 21.5 266.1)"/>
<ellipse cx="25.4" cy="265.7" rx="20.4" ry="1.8" fill="#1c1c1c" opacity="0.8" transform="rotate(83.2 25.4 265.7)"/>
<ellipse cx="77.8" cy="229.8" rx="9.3" ry="0.8" fill="#dadada" opacity="0.8" transform="rotate(57.8 77.8 229.8)"/>
<ellipse cx="79.3" cy="228.8" rx="8.9" ry="0.7" fill="#1c1c1c" opacity="0.8" transform="rotate(57.8 79.3 228.8)"/>
<ellipse cx="57.3" cy="262.3" rx="21.0" ry="2.3" fill="#dadada" opacity="0.8" transform="rotate(84.1 57.3 262.3)"/>
<ellipse cx="61.3" cy="261.8" rx="19.9" ry="1.9" fill="#1c1c1c" opacity="0.8" transform="rotate(84.1 61.3 261.8)"/>
<ellipse cx="101.5" cy="246.7" rx="11.7" ry="1.0" fill="#dadada" opacity="0.8" transform="rotate(114.9 101.5 246.7)"/>
<ellipse cx="103.5" cy="247.6" rx="11.1" ry="0.9" fill="#1c1c1c" opacity="0.8" transform="rotate(114.9 103.5 247.6)"/>
<ellipse cx="45.1" cy="254.6" rx="27.5" ry="1.7" fill="#dadada" opacity="0.8" transform="rotate(85.7 45.1 254.6)"/>
<ellipse cx="48.3" cy="254.4" rx="26.1" ry="1.4" fill="#1c1c1c" opacity="0.8" transform="rotate(85.7 48.3 254.4)"/>
<ellipse cx="131.6" cy="227.1" rx="9.3" ry="2.0" fill="#dadada" opacity="0.8" transform="rotate(82.1 131.6 227.1)"/>
<ellipse cx="135.2" cy="226.6" rx="8.8" ry="1.7" fill="#1c1c1c" opacity="0.8" transform="rotate(82.1 135.2 226.6)"/>
<ellipse cx="58.8" cy="225.0" rx="23.1" ry="2.1" fill="#dadada" opacity="0.8" transform="rotate(87.5 58.8 225.0)"/>
<ellipse cx="62.6" cy="224.9" rx="22.0" ry="1.8" fill="#1c1c1c" opacity="0.8" transform="rotate(87.5 62.6 224.9)"/>
<ellipse cx="151.3" cy="227.5" rx="13.3" ry="1.8" fill="#dadada" opacity="0.8" transform="rotate(75.8 151.3 227.5)"/>
<ellipse cx="154.5" cy="226.7" rx="12.6" ry="1.5" fill="#1c1c1c" opacity="0.8" transform="rotate(75.8 154.5 226.7)"/>
<ellipse cx="101.5" cy="281.6" rx="18.9" ry="1.7" fill="#dadada" opacity="0.8" transform="rotate(73.7 101.5 281.6)"/>
<ellipse cx="104.6" cy="280.7" rx="17.9" ry="1.5" fill="#1c1c1c" opacity="0.8" transform="rotate(73.7 104.6 280.7)"/>
<ellipse cx="53.3" cy="232.3" rx="22.2" ry="1.1" fill="#dadada" opacity="0.8" transform="rotate(96.0 53.3 232.3)"/>
<ellipse cx="55.4" cy="232.5" rx="21.1" ry="0.9" fill="#1c1c1c" opacity="0.8" transform="rotate(96.0 55.4 232.5)"/>
<ellipse cx="83.6" cy="249.5" rx="14.7" ry="2.2" fill="#dadada" opacity="0.8" transform="rotate(68.6 83.6 249.5)"/>
<ellipse cx="87.2" cy="248.1" rx="13.9" ry="1.8" fill="#1c1c1c" opacity="0.8" transform="rotate(68.6 87.2 248.1)"/>
<ellipse cx="55.9" cy="246.8" rx="25.2" ry="1.1" fill="#dadada" opacity="0.8" transform="rotate(79.6 55.9 246.8)"/>
<ellipse cx="58.2" cy="246.4" rx="23.9" ry="0.9" fill="#1c1c1c" opacity="0.8" transform="rotate(79.6 58.2 246.4)"/>
<ellipse cx="89.2" cy="269.7" rx="14.5" ry="1.1" fill="#dadada" opacity="0.8" transform="rotate(115.2 89.2 269.7)"/>
<ellipse cx="91.2" cy="270.6" rx="13.8" ry="0.9" fill="#1c1c1c" opacity="0.8" transform="rotate(115.2 91.2 270.6)"/>
<ellipse cx="74.1" cy="223.8" rx="28.9" ry="1.4" fill="#dadada" opacity="0.8" transform="rotate(80.5 74.1 223.8)"/>
<ellipse cx="76.8" cy="223.4" rx="27.4" ry="1.2" fill="#1c1c1c" opacity="0.8" transform="rotate(80.5 76.8 223.4)"/>
<ellipse cx="141.5" cy="240.0" rx="23.7" ry="2.3" fill="#dadada" opacity="0.8" transform="rotate(141.2 141.5 240.0)"/>
<ellipse cx="144.0" cy="243.1" rx="22.5" ry="1.9" fill="#1c1c1c" opacity="0.8" transform="rotate(141.2 144.0 243.1)"/>
<ellipse cx="135.7" cy="244.7" rx="14.5" ry="1.1" fill="#dadada" opacity="0.8" transform="rotate(72.6 135.7 244.7)"/>
<ellipse cx="137.8" cy="244.0" rx="13.8" ry="0.9" fill="#1c1c1c" opacity="0.8" transform="rotate(72.6 137.8 244.0)"/>
<ellipse cx="60.8" cy="224.4" rx="27.1" ry="1.2" fill="#dadada" opacity="0.8" transform="rotate(89.3 60.8 224.4)"/>
<ellipse cx="63.1" cy="224.4" rx="25.8" ry="1.0" fill="#1c1c1c" opacity="0.8" transform="rotate(89.3 63.1 224.4)"/>
<ellipse cx="39.2" cy="235.5" rx="21.3" ry="2.0" fill="#dadada" opacity="0.8" transform="rotate(77.7 39.2 235.5)"/>
<ellipse cx="42.7" cy="234.7" rx="20.2" ry="1.7" fill="#1c1c1c" opacity="0.8" transform="rotate(77.7 42.7 234.7)"/>
<ellipse cx="131.9" cy="235.8" rx="17.3" ry="1.1" fill="#dadada" opacity="0.8" transform="rotate(131.6 131.9 235.8)"/>
<ellipse cx="133.6" cy="237.4" rx="16.4" ry="0.9" fill="#1c1c1c" opacity="0.8" transform="rotate(131.6 133.6 237.4)"/>
<ellipse cx="72.6" cy="281.3" rx="13.7" ry="2.3" fill="#dadada" opacity="0.8" transform="rotate(79.7 72.6 281.3)"/>
<ellipse cx="76.5" cy="280.6" rx="13.0" ry="1.9" fill="#1c1c1c" opacity="0.8" transform="rotate(79.7 76.5 280.6)"/>
<ellipse cx="84.5" cy="230.4" rx="24.9" ry="1.2" fill="#dadada" opacity="0.8" transform="rotate(99.8 84.5 230.4)"/>
<ellipse cx="86.8" cy="230.8" rx="23.7" ry="1.0" fill="#1c1c1c" opacity="0.8" transform="rotate(99.8 86.8 230.8)"/>
<ellipse cx="102.1" cy="245.8" rx="14.5" ry="1.7" fill="#dadada" opacity="0.8" transform="rotate(77.4 102.1 245.8)"/>
<ellipse cx="105.3" cy="245.1" rx="13.8" ry="1.4" fill="#1c1c1c" opacity="0.8" transform="rotate(77.4 105.3 245.1)"/>
<ellipse cx="115.6" cy="225.5" rx="28.2" ry="1.9" fill="#dadada" opacity="0.8" transform="rotate(145.6 115.6 225.5)"/>
<ellipse cx="117.6" cy="228.4" rx="26.8" ry="1.6" fill="#1c1c1c" opacity="0.8" transform="rotate(145.6 117.6 228.4)"/>
<ellipse cx="27.1" cy="266.4" rx="12.3" ry="0.8" fill="#dadada" opacity="0.8" transform="rotate(81.7 27.1 266.4)"/>
<ellipse cx="28.9" cy="266.1" rx="11.7" ry="0.7" fill="#1c1c1c" opacity="0.8" transform="rotate(81.7 28.9 266.1)"/>
<ellipse cx="128.3" cy="239.6" rx="13.2" ry="2.2" fill="#dadada" opacity="0.8" transform="rotate(44.6 128.3 239.6)"/>
<ellipse cx="131.0" cy="236.8" rx="12.6" ry="1.8" fill="#1c1c1c" opacity="0.8" transform="rotate(44.6 131.0 236.8)"/>
<ellipse cx="99.5" cy="245.6" rx="20.3" ry="1.2" fill="#dadada" opacity="0.8" transform="rotate(67.3 99.5 245.6)"/>
<ellipse cx="101.8" cy="244.7" rx="19.2" ry="1.0" fill="#1c1c1c" opacity="0.8" transform="rotate(67.3 101.8 244.7)"/>
<ellipse cx="61.8" cy="272.5" rx="18.0" ry="1.3" fill="#dadada" opacity="0.8" transform="rotate(81.5 61.8 272.5)"/>
<ellipse cx="64.4" cy="272.1" rx="17.1" ry="1.1" fill="#1c1c1c" opacity="0.8" transform="rotate(81.5 64.4 272.1)"/>
<ellipse cx="137.8" cy="248.9" rx="23.1" ry="1.8" fill="#dadada" opacity="0.8" transform="rotate(127.2 137.8 248.9)"/>
<ellipse cx="140.3" cy="250.9" rx="22.0" ry="1.5" fill="#1c1c1c" opacity="0.8" transform="rotate(127.2 140.3 250.9)"/>
<ellipse cx="71.2" cy="271.5" rx="24.5" ry="2.2" fill="#dadada" opacity="0.8" transform="rotate(82.6 71.2 271.5)"/>
<ellipse cx="75.1" cy="271.0" rx="23.3" ry="1.8" fill="#1c1c1c" opacity="0.8" transform="rotate(82.6 75.1 271.0)"/>
<ellipse cx="24.5" cy="266.4" rx="19.4" ry="2.3" fill="#dadada" opacity="0.8" transform="rotate(73.4 24.5 266.4)"/>
<ellipse cx="28.5" cy="265.3" rx="18.4" ry="1.9" fill="#1c1c1c" opacity="0.8" transform="rotate(73.4 28.5 265.3)"/>
<ellipse cx="35.2" cy="240.4" rx="15.1" ry="1.7" fill="#dadada" opacity="0.8" transform="rotate(91.6 35.2 240.4)"/>
<ellipse cx="38.3" cy="240.4" rx="14.3" ry="1.4" fill="#1c1c1c" opacity="0.8" transform="rotate(91.6 38.3 240.4)"/>
<ellipse cx="51.9" cy="264.5" rx="18.1" ry="1.7" fill="#dadada" opacity="0.8" transform="rotate(74.8 51.9 264.5)"/>
<ellipse cx="54.9" cy="263.7" rx="17.2" ry="1.4" fill="#1c1c1c" opacity="0.8" transform="rotate(74.8 54.9 263.7)"/>
<ellipse cx="43.1" cy="267.4" rx="21.4" ry="1.8" fill="#dadada" opacity="0.8" transform="rotate(88.3 43.1 267.4)"/>
<ellipse cx="46.3" cy="267.3" rx="20.4" ry="1.5" fill="#1c1c1c" opacity="0.8" transform="rotate(88.3 46.3 267.3)"/>
<ellipse cx="150.7" cy="256.9" rx="14.1" ry="1.6" fill="#dadada" opacity="0.8" transform="rotate(90.0 150.7 256.9)"/>
<ellipse cx="153.6" cy="256.9" rx="13.4" ry="1.3" fill="#1c1c1c" opacity="0.8" transform="rotate(90.0 153.6 256.9)"/>
<ellipse cx="100.2" cy="278.2" rx="11.5" ry="2.0" fill="#dadada" opacity="0.8" transform="rotate(106.6 100.2 278.2)"/>
<ellipse cx="103.6" cy="279.2" rx="10.9" ry="1.6" fill="#1c1c1c" opacity="0.8" transform="rotate(106.6 103.6 279.2)"/>
<ellipse cx="60.9" cy="225.6" rx="28.2" ry="1.7" fill="#dadada" opacity="0.8" transform="rotate(88.3 60.9 225.6)"/>
<ellipse cx="64.1" cy="225.5" rx="26.8" ry="1.4" fill="#1c1c1c" opacity="0.8" transform="rotate(88.3 64.1 225.5)"/>
<ellipse cx="36.3" cy="270.9" rx="13.7" ry="2.2" fill="#dadada" opacity="0.8" transform="rotate(85.3 36.3 270.9)"/>
<ellipse cx="40.2" cy="270.5" rx="13.0" ry="1.8" fill="#1c1c1c" opacity="0.8" transform="rotate(85.3 40.2 270.5)"/>
<ellipse cx="125.1" cy="226.7" rx="24.6" ry="1.4" fill="#dadada" opacity="0.8" transform="rotate(121.2 125.1 226.7)"/>
<ellipse cx="127.4" cy="228.1" rx="23.4" ry="1.2" fill="#1c1c1c" opacity="0.8" transform="rotate(121.2 127.4 228.1)"/>
<ellipse cx="152.0" cy="245.9" rx="29.9" ry="1.9" fill="#dadada" opacity="0.8" transform="rotate(138.8 152.0 245.9)"/>
<ellipse cx="154.3" cy="248.4" rx="28.4" ry="1.5" fill="#1c1c1c" opacity="0.8" transform="rotate(138.8 154.3 248.4)"/>
<ellipse cx="91.5" cy="265.2" rx="13.6" ry="1.8" fill="#dadada" opacity="0.8" transform="rotate(62.8 91.5 265.2)"/>
<ellipse cx="94.5" cy="263.6" rx="13.0" ry="1.5" fill="#1c1c1c" opacity="0.8" transform="rotate(62.8 94.5 263.6)"/>
<ellipse cx="153.2" cy="271.4" rx="21.6" ry="1.1" fill="#dadada" opacity="0.8" transform="rotate(122.4 153.2 271.4)"/>
<ellipse cx="155.1" cy="272.6" rx="20.5" ry="0.9" fill="#1c1c1c" opacity="0.8" transform="rotate(122.4 155.1 272.6)"/>
<ellipse cx="155.3" cy="262.4" rx="21.2" ry="1.2" fill="#dadada" opacity="0.8" transform="rotate(62.1 155.3 262.4)"/>
<ellipse cx="157.4" cy="261.3" rx="20.2" ry="1.0" fill="#1c1c1c" opacity="0.8" transform="rotate(62.1 157.4 261.3)"/>
<ellipse cx="34.3" cy="261.3" rx="12.1" ry="1.9" fill="#dadada" opacity="0.8" transform="rotate(88.8 34.3 261.3)"/>
<ellipse cx="37.6" cy="261.2" rx="11.5" ry="1.5" fill="#1c1c1c" opacity="0.8" transform="rotate(88.8 37.6 261.2)"/>
<ellipse cx="89.7" cy="251.8" rx="24.9" ry="0.8" fill="#dadada" opacity="0.8" transform="rotate(94.4 89.7 251.8)"/>
<ellipse cx="91.4" cy="252.0" rx="23.6" ry="0.7" fill="#1c1c1c" opacity="0.8" transform="rotate(94.4 91.4 252.0)"/>
<ellipse cx="70.9" cy="241.0" rx="28.9" ry="1.0" fill="#dadada" opacity="0.8" transform="rotate(88.8 70.9 241.0)"/>
<ellipse cx="73.0" cy="240.9" rx="27.5" ry="0.8" fill="#1c1c1c" opacity="0.8" transform="rotate(88.8 73.0 240.9)"/>
<ellipse cx="99.2" cy="244.2" rx="27.3" ry="1.6" fill="#dadada" opacity="0.8" transform="rotate(65.9 99.2 244.2)"/>
<ellipse cx="101.9" cy="243.0" rx="26.0" ry="1.4" fill="#1c1c1c" opacity="0.8" transform="rotate(65.9 101.9 243.0)"/>
<ellipse cx="156.6" cy="274.1" rx="18.1" ry="1.1" fill="#dadada" opacity="0.8" transform="rotate(73.3 156.6 274.1)"/>
<ellipse cx="158.8" cy="273.4" rx="17.2" ry="0.9" fill="#1c1c1c" opacity="0.8" transform="rotate(73.3 158.8 273.4)"/>
<ellipse cx="22.9" cy="252.7" rx="10.0" ry="2.2" fill="#dadada" opacity="0.8" transform="rotate(83.0 22.9 252.7)"/>
<ellipse cx="26.7" cy="252.2" rx="9.5" ry="1.8" fill="#1c1c1c" opacity="0.8" transform="rotate(83.0 26.7 252.2)"/>
<ellipse cx="64.4" cy="281.0" rx="12.6" ry="1.5" fill="#dadada" opacity="0.8" transform="rotate(86.7 64.4 281.0)"/>
<ellipse cx="67.2" cy="280.9" rx="12.0" ry="1.2" fill="#1c1c1c" opacity="0.8" transform="rotate(86.7 67.2 280.9)"/>
<ellipse cx="101.0" cy="239.6" rx="21.5" ry="0.9" fill="#dadada" opacity="0.8" transform="rotate(113.3 101.0 239.6)"/>
<ellipse cx="102.8" cy="240.3" rx="20.5" ry="0.7" fill="#1c1c1c" opacity="0.8" transform="rotate(113.3 102.8 240.3)"/>
<ellipse cx="33.4" cy="266.4" rx="31.1" ry="1.7" fill="#dadada" opacity="0.8" transform="rotate(83.5 33.4 266.4)"/>
<ellipse cx="36.5" cy="266.1" rx="29.5" ry="1.4" fill="#1c1c1c" opacity="0.8" transform="rotate(83.5 36.5 266.1)"/>
<ellipse cx="37.7" cy="252.6" rx="18.8" ry="1.1" fill="#dadada" opacity="0.8" transform="rotate(83.3 37.7 252.6)"/>
<ellipse cx="39.9" cy="252.3" rx="17.8" ry="0.9" fill="#1c1c1c" opacity="0.8" transform="rotate(83.3 39.9 252.3)"/>
<ellipse cx="146.7" cy="262.5" rx="23.1" ry="2.2" fill="#dadada" opacity="0.8" transform="rotate(77.7 146.7 262.5)"/>
<ellipse cx="150.6" cy="261.7" rx="22.0" ry="1.9" fill="#1c1c1c" opacity="0.8" transform="rotate(77.7 150.6 261.7)"/>
<ellipse cx="113.0" cy="226.2" rx="25.8" ry="0.8" fill="#dadada" opacity="0.8" transform="rotate(139.0 113.0 226.2)"/>
<ellipse cx="114.2" cy="227.6" rx="24.5" ry="0.7" fill="#1c1c1c" opacity="0.8" transform="rotate(139.0 114.2 227.6)"/>
<ellipse cx="46.5" cy="262.0" rx="28.0" ry="2.2" fill="#dadada" opacity="0.8" transform="rotate(79.7 46.5 262.0)"/>
<ellipse cx="50.4" cy="261.3" rx="26.6" ry="1.9" fill="#1c1c1c" opacity="0.8" transform="rotate(79.7 50.4 261.3)"/>
<ellipse cx="44.5" cy="270.6" rx="27.7" ry="1.9" fill="#dadada" opacity="0.8" transform="rotate(82.2 44.5 270.6)"/>
<ellipse cx="48.0" cy="270.1" rx="26.3" ry="1.6" fill="#1c1c1c" opacity="0.8" transform="rotate(82.2 48.0 270.1)"/>
<ellipse cx="134.7" cy="242.5" rx="17.3" ry="1.6" fill="#dadada" opacity="0.8" transform="rotate(83.1 134.7 242.5)"/>
<ellipse cx="137.7" cy="242.2" rx="16.4" ry="1.4" fill="#1c1c1c" opacity="0.8" transform="rotate(83.1 137.7 242.2)"/>
<ellipse cx="138.5" cy="236.4" rx="10.3" ry="0.9" fill="#dadada" opacity="0.8" transform="rotate(152.9 138.5 236.4)"/>
<ellipse cx="139.4" cy="238.2" rx="9.8" ry="0.8" fill="#1c1c1c" opacity="0.8" transform="rotate(152.9 139.4 238.2)"/>
<ellipse cx="90.1" cy="252.5" rx="12.5" ry="1.2" fill="#dadada" opacity="0.8" transform="rotate(101.2 90.1 252.5)"/>
<ellipse cx="92.5" cy="253.0" rx="11.9" ry="1.0" fill="#1c1c1c" opacity="0.8" transform="rotate(101.2 92.5 253.0)"/>
<ellipse cx="109.2" cy="229.9" rx="14.1" ry="1.0" fill="#dadada" opacity="0.8" transform="rotate(137.2 109.2 229.9)"/>
<ellipse cx="110.6" cy="231.4" rx="13.4" ry="0.8" fill="#1c1c1c" opacity="0.8" transform="rotate(137.2 110.6 231.4)"/>
<ellipse cx="83.4" cy="233.7" rx="25.3" ry="0.8" fill="#dadada" opacity="0.8" transform="rotate(113.2 83.4 233.7)"/>
<ellipse cx="85.0" cy="234.4" rx="24.0" ry="0.7" fill="#1c1c1c" opacity="0.8" transform="rotate(113.2 85.0 234.4)"/>
<ellipse cx="140.0" cy="271.9" rx="18.6" ry="1.2" fill="#dadada" opacity="0.8" transform="rotate(48.6 140.0 271.9)"/>
<ellipse cx="141.8" cy="270.3" rx="17.6" ry="1.0" fill="#1c1c1c" opacity="0.8" transform="rotate(48.6 141.8 270.3)"/>
<ellipse cx="67.6" cy="249.7" rx="24.0" ry="2.1" fill="#dadada" opacity="0.8" transform="rotate(83.4 67.6 249.7)"/>
<ellipse cx="71.3" cy="249.3" rx="22.8" ry="1.7" fill="#1c1c1c" opacity="0.8" transform="rotate(83.4 71.3 249.3)"/>
<ellipse cx="145.9" cy="233.8" rx="15.7" ry="1.5" fill="#dadada" opacity="0.8" transform="rotate(68.8 145.9 233.8)"/>
<ellipse cx="148.5" cy="232.8" rx="14.9" ry="1.2" fill="#1c1c1c" opacity="0.8" transform="rotate(68.8 148.5 232.8)"/>
<ellipse cx="96.3" cy="253.1" rx="18.6" ry="1.6" fill="#dadada" opacity="0.8" transform="rotate(108.3 96.3 253.1)"/>
<ellipse cx="99.1" cy="254.0" rx="17.7" ry="1.3" fill="#1c1c1c" opacity="0.8" transform="rotate(108.3 99.1 254.0)"/>
<ellipse cx="140.5" cy="283.3" rx="30.6" ry="1.7" fill="#dadada" opacity="0.8" transform="rotate(56.6 140.5 283.3)"/>
<ellipse cx="143.2" cy="281.6" rx="29.1" ry="1.5" fill="#1c1c1c" opacity="0.8" transform="rotate(56.6 143.2 281.6)"/>
<ellipse cx="112.5" cy="255.8" rx="18.5" ry="1.4" fill="#dadada" opacity="0.8" transform="rotate(114.0 112.5 255.8)"/>
<ellipse cx="114.9" cy="256.9" rx="17.6" ry="1.1" fill="#1c1c1c" opacity="0.8" transform="rotate(114.0 114.9 256.9)"/>
<ellipse cx="64.1" cy="243.7" rx="28.9" ry="0.8" fill="#dadada" opacity="0.8" transform="rotate(87.4 64.1 243.7)"/>
<ellipse cx="65.9" cy="243.6" rx="27.5" ry="0.7" fill="#1c1c1c" opacity="0.8" transform="rotate(87.4 65.9 243.6)"/>
<ellipse cx="83.9" cy="226.6" rx="23.9" ry="1.4" fill="#dadada" opacity="0.8" transform="rotate(123.2 83.9 226.6)"/>
<ellipse cx="86.1" cy="228.0" rx="22.7" ry="1.1" fill="#1c1c1c" opacity="0.8" transform="rotate(123.2 86.1 228.0)"/>
<ellipse cx="151.1" cy="244.9" rx="14.4" ry="1.5" fill="#dadada" opacity="0.8" transform="rotate(82.3 151.1 244.9)"/>
<ellipse cx="153.8" cy="244.6" rx="13.7" ry="1.2" fill="#1c1c1c" opacity="0.8" transform="rotate(82.3 153.8 244.6)"/>
<ellipse cx="142.8" cy="256.4" rx="11.5" ry="2.1" fill="#dadada" opacity="0.8" transform="rotate(81.7 142.8 256.4)"/>
<ellipse cx="146.6" cy="255.9" rx="10.9" ry="1.8" fill="#1c1c1c" opacity="0.8" transform="rotate(81.7 146.6 255.9)"/>
<ellipse cx="110.7" cy="232.7" rx="24.1" ry="1.9" fill="#dadada" opacity="0.8" transform="rotate(115.9 110.7 232.7)"/>
<ellipse cx="113.7" cy="234.2" rx="22.9" ry="1.6" fill="#1c1c1c" opacity="0.8" transform="rotate(115.9 113.7 234.2)"/>
<ellipse cx="100.4" cy="231.0" rx="20.5" ry="1.7" fill="#dadada" opacity="0.8" transform="rotate(66.1 100.4 231.0)"/>
<ellipse cx="103.2" cy="229.7" rx="19.5" ry="1.4" fill="#1c1c1c" opacity="0.8" transform="rotate(66.1 103.2 229.7)"/>
<ellipse cx="139.9" cy="265.4" rx="27.0" ry="1.0" fill="#dadada" opacity="0.8" transform="rotate(42.0 139.9 265.4)"/>
<ellipse cx="141.3" cy="263.8" rx="25.7" ry="0.8" fill="#1c1c1c" opacity="0.8" transform="rotate(42.0 141.3 263.8)"/>
<ellipse cx="92.9" cy="252.4" rx="24.4" ry="1.6" fill="#dadada" opacity="0.8" transform="rotate(53.5 92.9 252.4)"/>
<ellipse cx="95.4" cy="250.6" rx="23.2" ry="1.4" fill="#1c1c1c" opacity="0.8" transform="rotate(53.5 95.4 250.6)"/>
<ellipse cx="98.6" cy="271.0" rx="12.1" ry="2.0" fill="#dadada" opacity="0.8" transform="rotate(65.9 98.6 271.0)"/>
<ellipse cx="101.9" cy="269.6" rx="11.5" ry="1.7" fill="#1c1c1c" opacity="0.8" transform="rotate(65.9 101.9 269.6)"/>
<ellipse cx="27.9" cy="265.4" rx="30.5" ry="1.5" fill="#dadada" opacity="0.8" transform="rotate(85.1 27.9 265.4)"/>
<ellipse cx="30.7" cy="265.2" rx="29.0" ry="1.2" fill="#1c1c1c" opacity="0.8" transform="rotate(85.1 30.7 265.2)"/>
<ellipse cx="39.5" cy="231.1" rx="29.4" ry="0.9" fill="#dadada" opacity="0.8" transform="rotate(88.0 39.5 231.1)"/>
<ellipse cx="41.5" cy="231.1" rx="28.0" ry="0.8" fill="#1c1c1c" opacity="0.8" transform="rotate(88.0 41.5 231.1)"/>
<ellipse cx="38.1" cy="267.0" rx="17.0" ry="1.4" fill="#dadada" opacity="0.8" transform="rotate(83.7 38.1 267.0)"/>
<ellipse cx="40.7" cy="266.7" rx="16.1" ry="1.1" fill="#1c1c1c" opacity="0.8" transform="rotate(83.7 40.7 266.7)"/>
<ellipse cx="138.2" cy="271.5" rx="25.6" ry="0.8" fill="#dadada" opacity="0.8" transform="rotate(84.2 138.2 271.5)"/>
<ellipse cx="139.9" cy="271.3" rx="24.3" ry="0.7" fill="#1c1c1c" opacity="0.8" transform="rotate(84.2 139.9 271.3)"/>
<ellipse cx="123.8" cy="280.2" rx="25.2" ry="0.8" fill="#dadada" opacity="0.8" transform="rotate(84.1 123.8 280.2)"/>
<ellipse cx="125.7" cy="280.0" rx="24.0" ry="0.7" fill="#1c1c1c" opacity="0.8" transform="rotate(84.1 125.7 280.0)"/>
<ellipse cx="36.6" cy="255.9" rx="27.1" ry="1.0" fill="#dadada" opacity="0.8" transform="rotate(92.0 36.6 255.9)"/>
<ellipse cx="38.6" cy="255.9" rx="25.7" ry="0.8" fill="#1c1c1c" opacity="0.8" transform="rotate(92.0 38.6 255.9)"/>
<ellipse cx="56.1" cy="235.2" rx="19.1" ry="2.1" fill="#dadada" opacity="0.8" transform="rotate(79.9 56.1 235.2)"/>
<ellipse cx="59.8" cy="234.5" rx="18.1" ry="1.7" fill="#1c1c1c" opacity="0.8" transform="rotate(79.9 59.8 234.5)"/>
<ellipse cx="102.4" cy="229.2" rx="9.5" ry="1.0" fill="#dadada" opacity="0.8" transform="rotate(104.0 102.4 229.2)"/>
<ellipse cx="104.4" cy="229.7" rx="9.0" ry="0.8" fill="#1c1c1c" opacity="0.8" transform="rotate(104.0 104.4 229.7)"/>
<ellipse cx="62.5" cy="264.2" rx="17.6" ry="1.0" fill="#dadada" opacity="0.8" transform="rotate(91.0 62.5 264.2)"/>
<ellipse cx="64.6" cy="264.3" rx="16.7" ry="0.8" fill="#1c1c1c" opacity="0.8" transform="rotate(91.0 64.6 264.3)"/>
<ellipse cx="142.4" cy="252.4" rx="24.5" ry="2.0" fill="#dadada" opacity="0.8" transform="rotate(143.2 142.4 252.4)"/>
<ellipse cx="144.6" cy="255.3" rx="23.3" ry="1.7" fill="#1c1c1c" opacity="0.8" transform="rotate(143.2 144.6 255.3)"/>
<ellipse cx="42.0" cy="253.5" rx="28.6" ry="2.0" fill="#dadada" opacity="0.8" transform="rotate(84.5 42.0 253.5)"/>
<ellipse cx="45.6" cy="253.1" rx="27.2" ry="1.7" fill="#1c1c1c" opacity="0.8" transform="rotate(84.5 45.6 253.1)"/>
<ellipse cx="26.5" cy="234.5" rx="27.4" ry="1.8" fill="#dadada" opacity="0.8" transform="rotate(78.7 26.5 234.5)"/>
<ellipse cx="29.8" cy="233.9" rx="26.0" ry="1.5" fill="#1c1c1c" opacity="0.8" transform="rotate(78.7 29.8 233.9)"/>
<ellipse cx="42.8" cy="273.9" rx="17.9" ry="2.1" fill="#dadada" opacity="0.8" transform="rotate(88.3 42.8 273.9)"/>
<ellipse cx="46.6" cy="273.8" rx="17.0" ry="1.8" fill="#1c1c1c" opacity="0.8" transform="rotate(88.3 46.6 273.8)"/>
<ellipse cx="106.4" cy="228.4" rx="16.4" ry="1.1" fill="#dadada" opacity="0.8" transform="rotate(66.0 106.4 228.4)"/>
<ellipse cx="108.4" cy="227.5" rx="15.6" ry="0.9" fill="#1c1c1c" opacity="0.8" transform="rotate(66.0 108.4 227.5)"/>
<ellipse cx="45.1" cy="245.0" rx="19.5" ry="1.7" fill="#dadada" opacity="0.8" transform="rotate(83.0 45.1 245.0)"/>
<ellipse cx="48.2" cy="244.6" rx="18.5" ry="1.4" fill="#1c1c1c" opacity="0.8" transform="rotate(83.0 48.2 244.6)"/>
<ellipse cx="74.9" cy="243.6" rx="9.1" ry="1.7" fill="#dadada" opacity="0.8" transform="rotate(100.9 74.9 243.6)"/>
<ellipse cx="78.0" cy="244.2" rx="8.7" ry="1.4" fill="#1c1c1c" opacity="0.8" transform="rotate(100.9 78.0 244.2)"/>
<ellipse cx="142.0" cy="257.4" rx="23.2" ry="1.9" fill="#dadada" opacity="0.8" transform="rotate(128.7 142.0 257.4)"/>
<ellipse cx="144.7" cy="259.5" rx="22.0" ry="1.6" fill="#1c1c1c" opacity="0.8" transform="rotate(128.7 144.7 259.5)"/>
<ellipse cx="59.9" cy="239.9" rx="20.3" ry="1.2" fill="#dadada" opacity="0.8" transform="rotate(77.3 59.9 239.9)"/>
<ellipse cx="62.2" cy="239.4" rx="19.2" ry="1.0" fill="#1c1c1c" opacity="0.8" transform="rotate(77.3 62.2 239.4)"/>
<ellipse cx="153.2" cy="284.5" rx="9.8" ry="1.7" fill="#dadada" opacity="0.8" transform="rotate(53.4 153.2 284.5)"/>
<ellipse cx="155.7" cy="282.6" rx="9.3" ry="1.4" fill="#1c1c1c" opacity="0.8" transform="rotate(53.4 155.7 282.6)"/>
<ellipse cx="140.9" cy="270.0" rx="23.2" ry="1.8" fill="#dadada" opacity="0.8" transform="rotate(82.2 140.9 270.0)"/>
<ellipse cx="144.2" cy="269.5" rx="22.1" ry="1.5" fill="#1c1c1c" opacity="0.8" transform="rotate(82.2 144.2 269.5)"/>
<ellipse cx="55.7" cy="271.4" rx="12.2" ry="0.9" fill="#dadada" opacity="0.8" transform="rotate(73.7 55.7 271.4)"/>
<ellipse cx="57.5" cy="270.9" rx="11.6" ry="0.7" fill="#1c1c1c" opacity="0.8" transform="rotate(73.7 57.5 270.9)"/>
<ellipse cx="153.1" cy="241.8" rx="17.2" ry="2.1" fill="#dadada" opacity="0.8" transform="rotate(115.3 153.1 241.8)"/>
<ellipse cx="156.5" cy="243.5" rx="16.3" ry="1.8" fill="#1c1c1c" opacity="0.8" transform="rotate(115.3 156.5 243.5)"/>
</g>
<line x1="29.0" y1="222.9" x2="29.0" y2="283.1" stroke="#d03048" stroke-width="1.1" stroke-dasharray="2 3.2" stroke-dashoffset="2.0" opacity="0.5"/>
<line x1="37.5" y1="222.9" x2="37.5" y2="283.1" stroke="#d03048" stroke-width="1.1" stroke-dasharray="2 3.2" stroke-dashoffset="0.3" opacity="0.5"/>
<line x1="46.0" y1="222.9" x2="46.0" y2="283.1" stroke="#d03048" stroke-width="1.1" stroke-dasharray="2 3.2" stroke-dashoffset="1.7" opacity="0.5"/>
<line x1="54.5" y1="222.9" x2="54.5" y2="283.1" stroke="#d03048" stroke-width="1.1" stroke-dasharray="2 3.2" stroke-dashoffset="1.6" opacity="0.5"/>
<line x1="63.0" y1="222.9" x2="63.0" y2="283.1" stroke="#d03048" stroke-width="1.1" stroke-dasharray="2 3.2" stroke-dashoffset="4.9" opacity="0.5"/>
<line x1="71.5" y1="222.9" x2="71.5" y2="283.1" stroke="#d03048" stroke-width="1.1" stroke-dasharray="2 3.2" stroke-dashoffset="2.4" opacity="0.5"/>
<line x1="80.0" y1="222.9" x2="80.0" y2="283.1" stroke="#d03048" stroke-width="1.1" stroke-dasharray="2 3.2" stroke-dashoffset="1.8" opacity="0.5"/>
<line x1="88.5" y1="222.9" x2="88.5" y2="283.1" stroke="#d03048" stroke-width="1.1" stroke-dasharray="2 3.2" stroke-dashoffset="1.2" opacity="0.5"/>
<line x1="97.0" y1="222.9" x2="97.0" y2="283.1" stroke="#d03048" stroke-width="1.1" stroke-dasharray="2 3.2" stroke-dashoffset="1.2" opacity="0.5"/>
<line x1="105.5" y1="222.9" x2="105.5" y2="283.1" stroke="#d03048" stroke-width="1.1" stroke-dasharray="2 3.2" stroke-dashoffset="1.7" opacity="0.5"/>
<line x1="114.0" y1="222.9" x2="114.0" y2="283.1" stroke="#d03048" stroke-width="1.1" stroke-dasharray="2 3.2" stroke-dashoffset="0.7" opacity="0.5"/>
<line x1="122.5" y1="222.9" x2="122.5" y2="283.1" stroke="#d03048" stroke-width="1.1" stroke-dasharray="2 3.2" stroke-dashoffset="0.0" opacity="0.5"/>
<line x1="131.0" y1="222.9" x2="131.0" y2="283.1" stroke="#d03048" stroke-width="1.1" stroke-dasharray="2 3.2" stroke-dashoffset="4.4" opacity="0.5"/>
<line x1="139.5" y1="222.9" x2="139.5" y2="283.1" stroke="#d03048" stroke-width="1.1" stroke-dasharray="2 3.2" stroke-dashoffset="2.3" opacity="0.5"/>
<line x1="148.0" y1="222.9" x2="148.0" y2="283.1" stroke="#d03048" stroke-width="1.1" stroke-dasharray="2 3.2" stroke-dashoffset="2.2" opacity="0.5"/>
<line x1="156.5" y1="222.9" x2="156.5" y2="283.1" stroke="#d03048" stroke-width="1.1" stroke-dasharray="2 3.2" stroke-dashoffset="2.8" opacity="0.5"/>
</g>
<text x="177.60" y="24.20" font-size="15" text-anchor="start" font-weight="bold" fill="#111" >(c)</text>
<line x1="209.5" y1="27.5" x2="209.5" y2="255.5" stroke="#6b6b6b" stroke-width="1"/>
<line x1="209" y1="255.5" x2="416.5" y2="255.5" stroke="#6b6b6b" stroke-width="1"/>
<line x1="209.5" y1="255.00" x2="211.5" y2="255.00" stroke="#6b6b6b" stroke-width="0.8"/>
<text x="206.20" y="257.45" font-size="6.9" text-anchor="end" font-weight="normal" fill="#222" stroke="#222" stroke-width="0.22" textLength="7.01" lengthAdjust="spacingAndGlyphs" >25</text>
<line x1="209.5" y1="209.60" x2="211.5" y2="209.60" stroke="#6b6b6b" stroke-width="0.8"/>
<text x="206.20" y="212.05" font-size="6.9" text-anchor="end" font-weight="normal" fill="#222" stroke="#222" stroke-width="0.22" textLength="7.01" lengthAdjust="spacingAndGlyphs" >30</text>
<line x1="209.5" y1="164.20" x2="211.5" y2="164.20" stroke="#6b6b6b" stroke-width="0.8"/>
<text x="206.20" y="166.65" font-size="6.9" text-anchor="end" font-weight="normal" fill="#222" stroke="#222" stroke-width="0.22" textLength="7.01" lengthAdjust="spacingAndGlyphs" >35</text>
<line x1="209.5" y1="118.80" x2="211.5" y2="118.80" stroke="#6b6b6b" stroke-width="0.8"/>
<text x="206.20" y="121.25" font-size="6.9" text-anchor="end" font-weight="normal" fill="#222" stroke="#222" stroke-width="0.22" textLength="7.01" lengthAdjust="spacingAndGlyphs" >40</text>
<line x1="209.5" y1="73.40" x2="211.5" y2="73.40" stroke="#6b6b6b" stroke-width="0.8"/>
<text x="206.20" y="75.85" font-size="6.9" text-anchor="end" font-weight="normal" fill="#222" stroke="#222" stroke-width="0.22" textLength="7.01" lengthAdjust="spacingAndGlyphs" >45</text>
<line x1="209.5" y1="28.00" x2="211.5" y2="28.00" stroke="#6b6b6b" stroke-width="0.8"/>
<text x="206.20" y="30.45" font-size="6.9" text-anchor="end" font-weight="normal" fill="#222" stroke="#222" stroke-width="0.22" textLength="7.01" lengthAdjust="spacingAndGlyphs" >50</text>
<line x1="243.50" y1="255.5" x2="243.50" y2="253.3" stroke="#6b6b6b" stroke-width="0.8"/>
<text x="243.50" y="263.50" font-size="6.8" text-anchor="middle" font-weight="normal" fill="#222" stroke="#222" stroke-width="0.22" textLength="18.9" lengthAdjust="spacingAndGlyphs" >DIV 00</text>
<line x1="278.00" y1="255.5" x2="278.00" y2="253.3" stroke="#6b6b6b" stroke-width="0.8"/>
<text x="278.00" y="263.50" font-size="6.8" text-anchor="middle" font-weight="normal" fill="#222" stroke="#222" stroke-width="0.22" textLength="18.9" lengthAdjust="spacingAndGlyphs" >DIV 01</text>
<line x1="312.50" y1="255.5" x2="312.50" y2="253.3" stroke="#6b6b6b" stroke-width="0.8"/>
<text x="312.50" y="263.50" font-size="6.8" text-anchor="middle" font-weight="normal" fill="#222" stroke="#222" stroke-width="0.22" textLength="18.9" lengthAdjust="spacingAndGlyphs" >DIV 02</text>
<line x1="347.00" y1="255.5" x2="347.00" y2="253.3" stroke="#6b6b6b" stroke-width="0.8"/>
<text x="347.00" y="263.50" font-size="6.8" text-anchor="middle" font-weight="normal" fill="#222" stroke="#222" stroke-width="0.22" textLength="18.9" lengthAdjust="spacingAndGlyphs" >DIV 03</text>
<line x1="381.50" y1="255.5" x2="381.50" y2="253.3" stroke="#6b6b6b" stroke-width="0.8"/>
<text x="381.50" y="263.50" font-size="6.8" text-anchor="middle" font-weight="normal" fill="#222" stroke="#222" stroke-width="0.22" textLength="18.9" lengthAdjust="spacingAndGlyphs" >DIV 06</text>
<line x1="416.00" y1="255.5" x2="416.00" y2="253.3" stroke="#6b6b6b" stroke-width="0.8"/>
<text x="416.00" y="263.50" font-size="6.8" text-anchor="middle" font-weight="normal" fill="#222" stroke="#222" stroke-width="0.22" textLength="18.9" lengthAdjust="spacingAndGlyphs" >DIV 08</text>
<text x="286.40" y="280.40" font-size="10.4" text-anchor="start" font-weight="normal" fill="#111" stroke="#111" stroke-width="0.22" textLength="52.8" lengthAdjust="spacingAndGlyphs" >Culture Age</text>
<text x="189.50" y="139.10" font-size="9.4" text-anchor="middle" font-weight="normal" fill="#111" stroke="#111" stroke-width="0.22" textLength="113" lengthAdjust="spacingAndGlyphs" transform="rotate(-90 189.5 139.1)">Average Angular Deviation</text>
<g filter="url(#sb)">
<polyline points="233.70,145.59 268.15,175.73 302.60,212.41 337.05,203.61 371.50,228.94 405.95,229.58" fill="none" stroke="#c46a78" stroke-width="1.0"/>
<line x1="233.70" y1="141.09" x2="233.70" y2="150.09" stroke="#c46a78" stroke-width="1.0"/>
<line x1="231.50" y1="141.09" x2="235.90" y2="141.09" stroke="#c46a78" stroke-width="1.0"/>
<line x1="231.50" y1="150.09" x2="235.90" y2="150.09" stroke="#c46a78" stroke-width="1.0"/>
<circle cx="233.70" cy="145.59" r="2.00" fill="none" stroke="#c46a78" stroke-width="0.9"/>
<line x1="268.15" y1="171.23" x2="268.15" y2="180.23" stroke="#c46a78" stroke-width="1.0"/>
<line x1="265.95" y1="171.23" x2="270.35" y2="171.23" stroke="#c46a78" stroke-width="1.0"/>
<line x1="265.95" y1="180.23" x2="270.35" y2="180.23" stroke="#c46a78" stroke-width="1.0"/>
<circle cx="268.15" cy="175.73" r="2.00" fill="none" stroke="#c46a78" stroke-width="0.9"/>
<line x1="302.60" y1="206.11" x2="302.60" y2="218.71" stroke="#c46a78" stroke-width="1.0"/>
<line x1="300.40" y1="206.11" x2="304.80" y2="206.11" stroke="#c46a78" stroke-width="1.0"/>
<line x1="300.40" y1="218.71" x2="304.80" y2="218.71" stroke="#c46a78" stroke-width="1.0"/>
<circle cx="302.60" cy="212.41" r="2.00" fill="none" stroke="#c46a78" stroke-width="0.9"/>
<line x1="337.05" y1="198.41" x2="337.05" y2="208.81" stroke="#c46a78" stroke-width="1.0"/>
<line x1="334.85" y1="198.41" x2="339.25" y2="198.41" stroke="#c46a78" stroke-width="1.0"/>
<line x1="334.85" y1="208.81" x2="339.25" y2="208.81" stroke="#c46a78" stroke-width="1.0"/>
<circle cx="337.05" cy="203.61" r="2.00" fill="none" stroke="#c46a78" stroke-width="0.9"/>
<line x1="371.50" y1="221.14" x2="371.50" y2="236.74" stroke="#c46a78" stroke-width="1.0"/>
<line x1="369.30" y1="221.14" x2="373.70" y2="221.14" stroke="#c46a78" stroke-width="1.0"/>
<line x1="369.30" y1="236.74" x2="373.70" y2="236.74" stroke="#c46a78" stroke-width="1.0"/>
<circle cx="371.50" cy="228.94" r="2.00" fill="none" stroke="#c46a78" stroke-width="0.9"/>
<line x1="405.95" y1="225.28" x2="405.95" y2="233.88" stroke="#c46a78" stroke-width="1.0"/>
<line x1="403.75" y1="225.28" x2="408.15" y2="225.28" stroke="#c46a78" stroke-width="1.0"/>
<line x1="403.75" y1="233.88" x2="408.15" y2="233.88" stroke="#c46a78" stroke-width="1.0"/>
<circle cx="405.95" cy="229.58" r="2.00" fill="none" stroke="#c46a78" stroke-width="0.9"/>
</g>
<g filter="url(#sb)">
<polyline points="235.60,100.19 270.05,159.39 304.50,192.35 338.95,195.07 373.40,227.94 407.85,212.32" fill="none" stroke="#c8e47c" stroke-width="1.0"/>
<line x1="235.60" y1="94.19" x2="235.60" y2="106.19" stroke="#c8e47c" stroke-width="1.0"/>
<line x1="233.40" y1="94.19" x2="237.80" y2="94.19" stroke="#c8e47c" stroke-width="1.0"/>
<line x1="233.40" y1="106.19" x2="237.80" y2="106.19" stroke="#c8e47c" stroke-width="1.0"/>
<path d="M235.60 97.99 L237.60 101.79 L233.60 101.79 Z" fill="none" stroke="#c8e47c" stroke-width="0.9"/>
<line x1="270.05" y1="154.89" x2="270.05" y2="163.89" stroke="#c8e47c" stroke-width="1.0"/>
<line x1="267.85" y1="154.89" x2="272.25" y2="154.89" stroke="#c8e47c" stroke-width="1.0"/>
<line x1="267.85" y1="163.89" x2="272.25" y2="163.89" stroke="#c8e47c" stroke-width="1.0"/>
<path d="M270.05 157.19 L272.05 160.99 L268.05 160.99 Z" fill="none" stroke="#c8e47c" stroke-width="0.9"/>
<line x1="304.50" y1="185.75" x2="304.50" y2="198.95" stroke="#c8e47c" stroke-width="1.0"/>
<line x1="302.30" y1="185.75" x2="306.70" y2="185.75" stroke="#c8e47c" stroke-width="1.0"/>
<line x1="302.30" y1="198.95" x2="306.70" y2="198.95" stroke="#c8e47c" stroke-width="1.0"/>
<path d="M304.50 190.15 L306.50 193.95 L302.50 193.95 Z" fill="none" stroke="#c8e47c" stroke-width="0.9"/>
<line x1="338.95" y1="188.07" x2="338.95" y2="202.07" stroke="#c8e47c" stroke-width="1.0"/>
<line x1="336.75" y1="188.07" x2="341.15" y2="188.07" stroke="#c8e47c" stroke-width="1.0"/>
<line x1="336.75" y1="202.07" x2="341.15" y2="202.07" stroke="#c8e47c" stroke-width="1.0"/>
<path d="M338.95 192.87 L340.95 196.67 L336.95 196.67 Z" fill="none" stroke="#c8e47c" stroke-width="0.9"/>
<line x1="373.40" y1="220.44" x2="373.40" y2="235.44" stroke="#c8e47c" stroke-width="1.0"/>
<line x1="371.20" y1="220.44" x2="375.60" y2="220.44" stroke="#c8e47c" stroke-width="1.0"/>
<line x1="371.20" y1="235.44" x2="375.60" y2="235.44" stroke="#c8e47c" stroke-width="1.0"/>
<path d="M373.40 225.74 L375.40 229.54 L371.40 229.54 Z" fill="none" stroke="#c8e47c" stroke-width="0.9"/>
<line x1="407.85" y1="207.12" x2="407.85" y2="217.52" stroke="#c8e47c" stroke-width="1.0"/>
<line x1="405.65" y1="207.12" x2="410.05" y2="207.12" stroke="#c8e47c" stroke-width="1.0"/>
<line x1="405.65" y1="217.52" x2="410.05" y2="217.52" stroke="#c8e47c" stroke-width="1.0"/>
<path d="M407.85 210.12 L409.85 213.92 L405.85 213.92 Z" fill="none" stroke="#c8e47c" stroke-width="0.9"/>
</g>
<g filter="url(#sb)">
<polyline points="237.50,99.28 271.95,122.43 306.40,168.74 340.85,179.64 375.30,209.60 409.75,219.22" fill="none" stroke="#88dce6" stroke-width="1.0"/>
<line x1="237.50" y1="91.28" x2="237.50" y2="107.28" stroke="#88dce6" stroke-width="1.0"/>
<line x1="235.30" y1="91.28" x2="239.70" y2="91.28" stroke="#88dce6" stroke-width="1.0"/>
<line x1="235.30" y1="107.28" x2="239.70" y2="107.28" stroke="#88dce6" stroke-width="1.0"/>
<rect x="235.50" y="97.28" width="4.00" height="4.00" fill="none" stroke="#88dce6" stroke-width="0.9"/>
<line x1="271.95" y1="114.13" x2="271.95" y2="130.73" stroke="#88dce6" stroke-width="1.0"/>
<line x1="269.75" y1="114.13" x2="274.15" y2="114.13" stroke="#88dce6" stroke-width="1.0"/>
<line x1="269.75" y1="130.73" x2="274.15" y2="130.73" stroke="#88dce6" stroke-width="1.0"/>
<rect x="269.95" y="120.43" width="4.00" height="4.00" fill="none" stroke="#88dce6" stroke-width="0.9"/>
<line x1="306.40" y1="160.24" x2="306.40" y2="177.24" stroke="#88dce6" stroke-width="1.0"/>
<line x1="304.20" y1="160.24" x2="308.60" y2="160.24" stroke="#88dce6" stroke-width="1.0"/>
<line x1="304.20" y1="177.24" x2="308.60" y2="177.24" stroke="#88dce6" stroke-width="1.0"/>
<rect x="304.40" y="166.74" width="4.00" height="4.00" fill="none" stroke="#88dce6" stroke-width="0.9"/>
<line x1="340.85" y1="172.74" x2="340.85" y2="186.54" stroke="#88dce6" stroke-width="1.0"/>
<line x1="338.65" y1="172.74" x2="343.05" y2="172.74" stroke="#88dce6" stroke-width="1.0"/>
<line x1="338.65" y1="186.54" x2="343.05" y2="186.54" stroke="#88dce6" stroke-width="1.0"/>
<rect x="338.85" y="177.64" width="4.00" height="4.00" fill="none" stroke="#88dce6" stroke-width="0.9"/>
<line x1="375.30" y1="201.80" x2="375.30" y2="217.40" stroke="#88dce6" stroke-width="1.0"/>
<line x1="373.10" y1="201.80" x2="377.50" y2="201.80" stroke="#88dce6" stroke-width="1.0"/>
<line x1="373.10" y1="217.40" x2="377.50" y2="217.40" stroke="#88dce6" stroke-width="1.0"/>
<rect x="373.30" y="207.60" width="4.00" height="4.00" fill="none" stroke="#88dce6" stroke-width="0.9"/>
<line x1="409.75" y1="214.02" x2="409.75" y2="224.42" stroke="#88dce6" stroke-width="1.0"/>
<line x1="407.55" y1="214.02" x2="411.95" y2="214.02" stroke="#88dce6" stroke-width="1.0"/>
<line x1="407.55" y1="224.42" x2="411.95" y2="224.42" stroke="#88dce6" stroke-width="1.0"/>
<rect x="407.75" y="217.22" width="4.00" height="4.00" fill="none" stroke="#88dce6" stroke-width="0.9"/>
</g>
<g filter="url(#sb)">
<polyline points="240.10,60.23 274.55,81.30 309.00,80.30 343.45,78.85 377.90,74.76 412.35,67.95" fill="none" stroke="#8e70bc" stroke-width="1.0"/>
<line x1="240.10" y1="58.43" x2="240.10" y2="62.03" stroke="#8e70bc" stroke-width="1.0"/>
<line x1="237.90" y1="58.43" x2="242.30" y2="58.43" stroke="#8e70bc" stroke-width="1.0"/>
<line x1="237.90" y1="62.03" x2="242.30" y2="62.03" stroke="#8e70bc" stroke-width="1.0"/>
<path d="M240.10 57.83 L242.10 60.23 L240.10 62.63 L238.10 60.23 Z" fill="none" stroke="#8e70bc" stroke-width="0.9"/>
<line x1="274.55" y1="78.80" x2="274.55" y2="83.80" stroke="#8e70bc" stroke-width="1.0"/>
<line x1="272.35" y1="78.80" x2="276.75" y2="78.80" stroke="#8e70bc" stroke-width="1.0"/>
<line x1="272.35" y1="83.80" x2="276.75" y2="83.80" stroke="#8e70bc" stroke-width="1.0"/>
<path d="M274.55 78.90 L276.55 81.30 L274.55 83.70 L272.55 81.30 Z" fill="none" stroke="#8e70bc" stroke-width="0.9"/>
<line x1="309.00" y1="78.50" x2="309.00" y2="82.10" stroke="#8e70bc" stroke-width="1.0"/>
<line x1="306.80" y1="78.50" x2="311.20" y2="78.50" stroke="#8e70bc" stroke-width="1.0"/>
<line x1="306.80" y1="82.10" x2="311.20" y2="82.10" stroke="#8e70bc" stroke-width="1.0"/>
<path d="M309.00 77.90 L311.00 80.30 L309.00 82.70 L307.00 80.30 Z" fill="none" stroke="#8e70bc" stroke-width="0.9"/>
<line x1="343.45" y1="75.85" x2="343.45" y2="81.85" stroke="#8e70bc" stroke-width="1.0"/>
<line x1="341.25" y1="75.85" x2="345.65" y2="75.85" stroke="#8e70bc" stroke-width="1.0"/>
<line x1="341.25" y1="81.85" x2="345.65" y2="81.85" stroke="#8e70bc" stroke-width="1.0"/>
<path d="M343.45 76.45 L345.45 78.85 L343.45 81.25 L341.45 78.85 Z" fill="none" stroke="#8e70bc" stroke-width="0.9"/>
<line x1="377.90" y1="71.16" x2="377.90" y2="78.36" stroke="#8e70bc" stroke-width="1.0"/>
<line x1="375.70" y1="71.16" x2="380.10" y2="71.16" stroke="#8e70bc" stroke-width="1.0"/>
<line x1="375.70" y1="78.36" x2="380.10" y2="78.36" stroke="#8e70bc" stroke-width="1.0"/>
<path d="M377.90 72.36 L379.90 74.76 L377.90 77.16 L375.90 74.76 Z" fill="none" stroke="#8e70bc" stroke-width="0.9"/>
<line x1="412.35" y1="60.95" x2="412.35" y2="74.95" stroke="#8e70bc" stroke-width="1.0"/>
<line x1="410.15" y1="60.95" x2="414.55" y2="60.95" stroke="#8e70bc" stroke-width="1.0"/>
<line x1="410.15" y1="74.95" x2="414.55" y2="74.95" stroke="#8e70bc" stroke-width="1.0"/>
<path d="M412.35 65.55 L414.35 67.95 L412.35 70.35 L410.35 67.95 Z" fill="none" stroke="#8e70bc" stroke-width="0.9"/>
</g>
<g filter="url(#sb)">
<line x1="357.6" y1="128.50" x2="376.8" y2="128.50" stroke="#c46a78" stroke-width="1"/>
<circle cx="366.80" cy="128.50" r="1.80" fill="none" stroke="#c46a78" stroke-width="0.9"/>
</g>
<text x="378.00" y="130.84" font-size="6.5" text-anchor="start" font-weight="normal" fill="#1a1a1a" stroke="#1a1a1a" stroke-width="0.22" textLength="9.98" lengthAdjust="spacingAndGlyphs" >100</text>
<g filter="url(#sb)">
<line x1="357.6" y1="137.00" x2="376.8" y2="137.00" stroke="#c8e47c" stroke-width="1"/>
<path d="M366.80 135.02 L368.60 138.44 L365.00 138.44 Z" fill="none" stroke="#c8e47c" stroke-width="0.9"/>
</g>
<text x="378.00" y="139.34" font-size="6.5" text-anchor="start" font-weight="normal" fill="#1a1a1a" stroke="#1a1a1a" stroke-width="0.22" textLength="9.98" lengthAdjust="spacingAndGlyphs" >200</text>
<g filter="url(#sb)">
<line x1="357.6" y1="145.50" x2="376.8" y2="145.50" stroke="#88dce6" stroke-width="1"/>
<rect x="365.00" y="143.70" width="3.60" height="3.60" fill="none" stroke="#88dce6" stroke-width="0.9"/>
</g>
<text x="378.00" y="147.84" font-size="6.5" text-anchor="start" font-weight="normal" fill="#1a1a1a" stroke="#1a1a1a" stroke-width="0.22" textLength="9.98" lengthAdjust="spacingAndGlyphs" >400</text>
<g filter="url(#sb)">
<line x1="357.6" y1="154.00" x2="376.8" y2="154.00" stroke="#8e70bc" stroke-width="1"/>
<path d="M366.80 151.84 L368.60 154.00 L366.80 156.16 L365.00 154.00 Z" fill="none" stroke="#8e70bc" stroke-width="0.9"/>
</g>
<text x="378.00" y="156.34" font-size="6.5" text-anchor="start" font-weight="normal" fill="#1a1a1a" stroke="#1a1a1a" stroke-width="0.22" textLength="20.61" lengthAdjust="spacingAndGlyphs" >Smooth</text>
<text x="439.30" y="23.60" font-size="16" text-anchor="start" font-weight="bold" fill="#111" >(d)</text>
<line x1="470.5" y1="27.3" x2="470.5" y2="255.0" stroke="#6b6b6b" stroke-width="1"/>
<line x1="470" y1="255.0" x2="794.8" y2="255.0" stroke="#6b6b6b" stroke-width="1"/>
<line x1="470.5" y1="254.50" x2="473" y2="254.50" stroke="#6b6b6b" stroke-width="0.8"/>
<text x="468.00" y="256.95" font-size="6.9" text-anchor="end" font-weight="normal" fill="#222" stroke="#222" stroke-width="0.22" textLength="3.5" lengthAdjust="spacingAndGlyphs" >0</text>
<line x1="470.5" y1="231.78" x2="473" y2="231.78" stroke="#6b6b6b" stroke-width="0.8"/>
<text x="468.00" y="234.23" font-size="6.9" text-anchor="end" font-weight="normal" fill="#222" stroke="#222" stroke-width="0.22" textLength="8.76" lengthAdjust="spacingAndGlyphs" >0.5</text>
<line x1="470.5" y1="209.06" x2="473" y2="209.06" stroke="#6b6b6b" stroke-width="0.8"/>
<text x="468.00" y="211.51" font-size="6.9" text-anchor="end" font-weight="normal" fill="#222" stroke="#222" stroke-width="0.22" textLength="3.5" lengthAdjust="spacingAndGlyphs" >1</text>
<line x1="470.5" y1="186.34" x2="473" y2="186.34" stroke="#6b6b6b" stroke-width="0.8"/>
<text x="468.00" y="188.79" font-size="6.9" text-anchor="end" font-weight="normal" fill="#222" stroke="#222" stroke-width="0.22" textLength="8.76" lengthAdjust="spacingAndGlyphs" >1.5</text>
<line x1="470.5" y1="163.62" x2="473" y2="163.62" stroke="#6b6b6b" stroke-width="0.8"/>
<text x="468.00" y="166.07" font-size="6.9" text-anchor="end" font-weight="normal" fill="#222" stroke="#222" stroke-width="0.22" textLength="3.5" lengthAdjust="spacingAndGlyphs" >2</text>
<line x1="470.5" y1="140.90" x2="473" y2="140.90" stroke="#6b6b6b" stroke-width="0.8"/>
<text x="468.00" y="143.35" font-size="6.9" text-anchor="end" font-weight="normal" fill="#222" stroke="#222" stroke-width="0.22" textLength="8.76" lengthAdjust="spacingAndGlyphs" >2.5</text>
<line x1="470.5" y1="118.18" x2="473" y2="118.18" stroke="#6b6b6b" stroke-width="0.8"/>
<text x="468.00" y="120.63" font-size="6.9" text-anchor="end" font-weight="normal" fill="#222" stroke="#222" stroke-width="0.22" textLength="3.5" lengthAdjust="spacingAndGlyphs" >3</text>
<line x1="470.5" y1="95.46" x2="473" y2="95.46" stroke="#6b6b6b" stroke-width="0.8"/>
<text x="468.00" y="97.91" font-size="6.9" text-anchor="end" font-weight="normal" fill="#222" stroke="#222" stroke-width="0.22" textLength="8.76" lengthAdjust="spacingAndGlyphs" >3.5</text>
<line x1="470.5" y1="72.74" x2="473" y2="72.74" stroke="#6b6b6b" stroke-width="0.8"/>
<text x="468.00" y="75.19" font-size="6.9" text-anchor="end" font-weight="normal" fill="#222" stroke="#222" stroke-width="0.22" textLength="3.5" lengthAdjust="spacingAndGlyphs" >4</text>
<line x1="470.5" y1="50.02" x2="473" y2="50.02" stroke="#6b6b6b" stroke-width="0.8"/>
<text x="468.00" y="52.47" font-size="6.9" text-anchor="end" font-weight="normal" fill="#222" stroke="#222" stroke-width="0.22" textLength="8.76" lengthAdjust="spacingAndGlyphs" >4.5</text>
<line x1="470.5" y1="27.30" x2="473" y2="27.30" stroke="#6b6b6b" stroke-width="0.8"/>
<text x="468.00" y="29.75" font-size="6.9" text-anchor="end" font-weight="normal" fill="#222" stroke="#222" stroke-width="0.22" textLength="3.5" lengthAdjust="spacingAndGlyphs" >5</text>
<line x1="503.10" y1="255.0" x2="503.10" y2="252.8" stroke="#6b6b6b" stroke-width="0.8"/>
<text x="503.10" y="263.50" font-size="6.8" text-anchor="middle" font-weight="normal" fill="#222" stroke="#222" stroke-width="0.22" textLength="18.9" lengthAdjust="spacingAndGlyphs" >DIV 06</text>
<line x1="535.45" y1="255.0" x2="535.45" y2="252.8" stroke="#6b6b6b" stroke-width="0.8"/>
<text x="535.45" y="263.50" font-size="6.8" text-anchor="middle" font-weight="normal" fill="#222" stroke="#222" stroke-width="0.22" textLength="18.9" lengthAdjust="spacingAndGlyphs" >DIV 08</text>
<line x1="567.80" y1="255.0" x2="567.80" y2="252.8" stroke="#6b6b6b" stroke-width="0.8"/>
<text x="567.80" y="263.50" font-size="6.8" text-anchor="middle" font-weight="normal" fill="#222" stroke="#222" stroke-width="0.22" textLength="18.9" lengthAdjust="spacingAndGlyphs" >DIV 10</text>
<line x1="600.15" y1="255.0" x2="600.15" y2="252.8" stroke="#6b6b6b" stroke-width="0.8"/>
<text x="600.15" y="263.50" font-size="6.8" text-anchor="middle" font-weight="normal" fill="#222" stroke="#222" stroke-width="0.22" textLength="18.9" lengthAdjust="spacingAndGlyphs" >DIV 13</text>
<line x1="632.50" y1="255.0" x2="632.50" y2="252.8" stroke="#6b6b6b" stroke-width="0.8"/>
<text x="632.50" y="263.50" font-size="6.8" text-anchor="middle" font-weight="normal" fill="#222" stroke="#222" stroke-width="0.22" textLength="18.9" lengthAdjust="spacingAndGlyphs" >DIV 15</text>
<line x1="664.85" y1="255.0" x2="664.85" y2="252.8" stroke="#6b6b6b" stroke-width="0.8"/>
<text x="664.85" y="263.50" font-size="6.8" text-anchor="middle" font-weight="normal" fill="#222" stroke="#222" stroke-width="0.22" textLength="18.9" lengthAdjust="spacingAndGlyphs" >DIV 17</text>
<line x1="697.20" y1="255.0" x2="697.20" y2="252.8" stroke="#6b6b6b" stroke-width="0.8"/>
<text x="697.20" y="263.50" font-size="6.8" text-anchor="middle" font-weight="normal" fill="#222" stroke="#222" stroke-width="0.22" textLength="18.9" lengthAdjust="spacingAndGlyphs" >DIV 20</text>
<line x1="729.55" y1="255.0" x2="729.55" y2="252.8" stroke="#6b6b6b" stroke-width="0.8"/>
<text x="729.55" y="263.50" font-size="6.8" text-anchor="middle" font-weight="normal" fill="#222" stroke="#222" stroke-width="0.22" textLength="18.9" lengthAdjust="spacingAndGlyphs" >DIV 22</text>
<line x1="761.90" y1="255.0" x2="761.90" y2="252.8" stroke="#6b6b6b" stroke-width="0.8"/>
<text x="761.90" y="263.50" font-size="6.8" text-anchor="middle" font-weight="normal" fill="#222" stroke="#222" stroke-width="0.22" textLength="18.9" lengthAdjust="spacingAndGlyphs" >DIV 24</text>
<text x="606.00" y="280.00" font-size="10.4" text-anchor="start" font-weight="normal" fill="#111" stroke="#111" stroke-width="0.22" textLength="51.9" lengthAdjust="spacingAndGlyphs" >Culture Age</text>
<text x="450.20" y="140.60" font-size="9.6" text-anchor="middle" font-weight="normal" fill="#111" stroke="#111" stroke-width="0.22" textLength="153.5" lengthAdjust="spacingAndGlyphs" transform="rotate(-90 450.2 140.6)">Number of Independent Cells per mm<tspan font-size="6.5" dy="-3.5">2</tspan></text>
<g filter="url(#sb)">
<polyline points="494.10,181.80 526.45,140.45 558.80,52.29 591.15,52.29 623.50,110.91 655.85,70.47 688.20,95.46 720.55,181.34 752.90,125.45" fill="none" stroke="#c46a78" stroke-width="1.0"/>
<line x1="494.10" y1="173.60" x2="494.10" y2="190.00" stroke="#c46a78" stroke-width="1.0"/>
<line x1="491.60" y1="173.60" x2="496.60" y2="173.60" stroke="#c46a78" stroke-width="1.0"/>
<line x1="491.60" y1="190.00" x2="496.60" y2="190.00" stroke="#c46a78" stroke-width="1.0"/>
<circle cx="494.10" cy="181.80" r="2.20" fill="none" stroke="#c46a78" stroke-width="0.9"/>
<line x1="526.45" y1="128.15" x2="526.45" y2="152.75" stroke="#c46a78" stroke-width="1.0"/>
<line x1="523.95" y1="128.15" x2="528.95" y2="128.15" stroke="#c46a78" stroke-width="1.0"/>
<line x1="523.95" y1="152.75" x2="528.95" y2="152.75" stroke="#c46a78" stroke-width="1.0"/>
<circle cx="526.45" cy="140.45" r="2.20" fill="none" stroke="#c46a78" stroke-width="0.9"/>
<line x1="558.80" y1="33.29" x2="558.80" y2="71.29" stroke="#c46a78" stroke-width="1.0"/>
<line x1="556.30" y1="33.29" x2="561.30" y2="33.29" stroke="#c46a78" stroke-width="1.0"/>
<line x1="556.30" y1="71.29" x2="561.30" y2="71.29" stroke="#c46a78" stroke-width="1.0"/>
<circle cx="558.80" cy="52.29" r="2.20" fill="none" stroke="#c46a78" stroke-width="0.9"/>
<line x1="591.15" y1="40.49" x2="591.15" y2="64.09" stroke="#c46a78" stroke-width="1.0"/>
<line x1="588.65" y1="40.49" x2="593.65" y2="40.49" stroke="#c46a78" stroke-width="1.0"/>
<line x1="588.65" y1="64.09" x2="593.65" y2="64.09" stroke="#c46a78" stroke-width="1.0"/>
<circle cx="591.15" cy="52.29" r="2.20" fill="none" stroke="#c46a78" stroke-width="0.9"/>
<line x1="623.50" y1="95.41" x2="623.50" y2="126.41" stroke="#c46a78" stroke-width="1.0"/>
<line x1="621.00" y1="95.41" x2="626.00" y2="95.41" stroke="#c46a78" stroke-width="1.0"/>
<line x1="621.00" y1="126.41" x2="626.00" y2="126.41" stroke="#c46a78" stroke-width="1.0"/>
<circle cx="623.50" cy="110.91" r="2.20" fill="none" stroke="#c46a78" stroke-width="0.9"/>
<line x1="655.85" y1="52.87" x2="655.85" y2="88.07" stroke="#c46a78" stroke-width="1.0"/>
<line x1="653.35" y1="52.87" x2="658.35" y2="52.87" stroke="#c46a78" stroke-width="1.0"/>
<line x1="653.35" y1="88.07" x2="658.35" y2="88.07" stroke="#c46a78" stroke-width="1.0"/>
<circle cx="655.85" cy="70.47" r="2.20" fill="none" stroke="#c46a78" stroke-width="0.9"/>
<line x1="688.20" y1="61.46" x2="688.20" y2="129.46" stroke="#c46a78" stroke-width="1.0"/>
<line x1="685.70" y1="61.46" x2="690.70" y2="61.46" stroke="#c46a78" stroke-width="1.0"/>
<line x1="685.70" y1="129.46" x2="690.70" y2="129.46" stroke="#c46a78" stroke-width="1.0"/>
<circle cx="688.20" cy="95.46" r="2.20" fill="none" stroke="#c46a78" stroke-width="0.9"/>
<line x1="720.55" y1="162.04" x2="720.55" y2="200.64" stroke="#c46a78" stroke-width="1.0"/>
<line x1="718.05" y1="162.04" x2="723.05" y2="162.04" stroke="#c46a78" stroke-width="1.0"/>
<line x1="718.05" y1="200.64" x2="723.05" y2="200.64" stroke="#c46a78" stroke-width="1.0"/>
<circle cx="720.55" cy="181.34" r="2.20" fill="none" stroke="#c46a78" stroke-width="0.9"/>
<line x1="752.90" y1="99.85" x2="752.90" y2="151.05" stroke="#c46a78" stroke-width="1.0"/>
<line x1="750.40" y1="99.85" x2="755.40" y2="99.85" stroke="#c46a78" stroke-width="1.0"/>
<line x1="750.40" y1="151.05" x2="755.40" y2="151.05" stroke="#c46a78" stroke-width="1.0"/>
<circle cx="752.90" cy="125.45" r="2.20" fill="none" stroke="#c46a78" stroke-width="0.9"/>
</g>
<g filter="url(#sb)">
<polyline points="497.10,204.52 529.45,149.99 561.80,65.92 594.15,76.38 626.50,81.83 658.85,101.82 691.20,141.35 723.55,123.63 755.90,168.16" fill="none" stroke="#c8e47c" stroke-width="1.0"/>
<line x1="497.10" y1="193.02" x2="497.10" y2="216.02" stroke="#c8e47c" stroke-width="1.0"/>
<line x1="494.60" y1="193.02" x2="499.60" y2="193.02" stroke="#c8e47c" stroke-width="1.0"/>
<line x1="494.60" y1="216.02" x2="499.60" y2="216.02" stroke="#c8e47c" stroke-width="1.0"/>
<path d="M497.10 202.10 L499.30 206.28 L494.90 206.28 Z" fill="none" stroke="#c8e47c" stroke-width="0.9"/>
<line x1="529.45" y1="134.99" x2="529.45" y2="164.99" stroke="#c8e47c" stroke-width="1.0"/>
<line x1="526.95" y1="134.99" x2="531.95" y2="134.99" stroke="#c8e47c" stroke-width="1.0"/>
<line x1="526.95" y1="164.99" x2="531.95" y2="164.99" stroke="#c8e47c" stroke-width="1.0"/>
<path d="M529.45 147.57 L531.65 151.75 L527.25 151.75 Z" fill="none" stroke="#c8e47c" stroke-width="0.9"/>
<line x1="561.80" y1="58.12" x2="561.80" y2="73.72" stroke="#c8e47c" stroke-width="1.0"/>
<line x1="559.30" y1="58.12" x2="564.30" y2="58.12" stroke="#c8e47c" stroke-width="1.0"/>
<line x1="559.30" y1="73.72" x2="564.30" y2="73.72" stroke="#c8e47c" stroke-width="1.0"/>
<path d="M561.80 63.50 L564.00 67.68 L559.60 67.68 Z" fill="none" stroke="#c8e47c" stroke-width="0.9"/>
<line x1="594.15" y1="65.18" x2="594.15" y2="87.58" stroke="#c8e47c" stroke-width="1.0"/>
<line x1="591.65" y1="65.18" x2="596.65" y2="65.18" stroke="#c8e47c" stroke-width="1.0"/>
<line x1="591.65" y1="87.58" x2="596.65" y2="87.58" stroke="#c8e47c" stroke-width="1.0"/>
<path d="M594.15 73.96 L596.35 78.14 L591.95 78.14 Z" fill="none" stroke="#c8e47c" stroke-width="0.9"/>
<line x1="626.50" y1="70.53" x2="626.50" y2="93.13" stroke="#c8e47c" stroke-width="1.0"/>
<line x1="624.00" y1="70.53" x2="629.00" y2="70.53" stroke="#c8e47c" stroke-width="1.0"/>
<line x1="624.00" y1="93.13" x2="629.00" y2="93.13" stroke="#c8e47c" stroke-width="1.0"/>
<path d="M626.50 79.41 L628.70 83.59 L624.30 83.59 Z" fill="none" stroke="#c8e47c" stroke-width="0.9"/>
<line x1="658.85" y1="92.22" x2="658.85" y2="111.42" stroke="#c8e47c" stroke-width="1.0"/>
<line x1="656.35" y1="92.22" x2="661.35" y2="92.22" stroke="#c8e47c" stroke-width="1.0"/>
<line x1="656.35" y1="111.42" x2="661.35" y2="111.42" stroke="#c8e47c" stroke-width="1.0"/>
<path d="M658.85 99.40 L661.05 103.58 L656.65 103.58 Z" fill="none" stroke="#c8e47c" stroke-width="0.9"/>
<line x1="691.20" y1="127.35" x2="691.20" y2="155.35" stroke="#c8e47c" stroke-width="1.0"/>
<line x1="688.70" y1="127.35" x2="693.70" y2="127.35" stroke="#c8e47c" stroke-width="1.0"/>
<line x1="688.70" y1="155.35" x2="693.70" y2="155.35" stroke="#c8e47c" stroke-width="1.0"/>
<path d="M691.20 138.93 L693.40 143.11 L689.00 143.11 Z" fill="none" stroke="#c8e47c" stroke-width="0.9"/>
<line x1="723.55" y1="112.23" x2="723.55" y2="135.03" stroke="#c8e47c" stroke-width="1.0"/>
<line x1="721.05" y1="112.23" x2="726.05" y2="112.23" stroke="#c8e47c" stroke-width="1.0"/>
<line x1="721.05" y1="135.03" x2="726.05" y2="135.03" stroke="#c8e47c" stroke-width="1.0"/>
<path d="M723.55 121.21 L725.75 125.39 L721.35 125.39 Z" fill="none" stroke="#c8e47c" stroke-width="0.9"/>
<line x1="755.90" y1="152.16" x2="755.90" y2="184.16" stroke="#c8e47c" stroke-width="1.0"/>
<line x1="753.40" y1="152.16" x2="758.40" y2="152.16" stroke="#c8e47c" stroke-width="1.0"/>
<line x1="753.40" y1="184.16" x2="758.40" y2="184.16" stroke="#c8e47c" stroke-width="1.0"/>
<path d="M755.90 165.74 L758.10 169.92 L753.70 169.92 Z" fill="none" stroke="#c8e47c" stroke-width="0.9"/>
</g>
<g filter="url(#sb)">
<polyline points="499.10,213.15 531.45,146.81 563.80,73.65 596.15,80.92 628.50,80.92 660.85,85.01 693.20,139.54 725.55,130.90 757.90,189.98" fill="none" stroke="#88dce6" stroke-width="1.0"/>
<line x1="499.10" y1="205.15" x2="499.10" y2="221.15" stroke="#88dce6" stroke-width="1.0"/>
<line x1="496.60" y1="205.15" x2="501.60" y2="205.15" stroke="#88dce6" stroke-width="1.0"/>
<line x1="496.60" y1="221.15" x2="501.60" y2="221.15" stroke="#88dce6" stroke-width="1.0"/>
<rect x="496.90" y="210.95" width="4.40" height="4.40" fill="none" stroke="#88dce6" stroke-width="0.9"/>
<line x1="531.45" y1="129.81" x2="531.45" y2="163.81" stroke="#88dce6" stroke-width="1.0"/>
<line x1="528.95" y1="129.81" x2="533.95" y2="129.81" stroke="#88dce6" stroke-width="1.0"/>
<line x1="528.95" y1="163.81" x2="533.95" y2="163.81" stroke="#88dce6" stroke-width="1.0"/>
<rect x="529.25" y="144.61" width="4.40" height="4.40" fill="none" stroke="#88dce6" stroke-width="0.9"/>
<line x1="563.80" y1="65.85" x2="563.80" y2="81.45" stroke="#88dce6" stroke-width="1.0"/>
<line x1="561.30" y1="65.85" x2="566.30" y2="65.85" stroke="#88dce6" stroke-width="1.0"/>
<line x1="561.30" y1="81.45" x2="566.30" y2="81.45" stroke="#88dce6" stroke-width="1.0"/>
<rect x="561.60" y="71.45" width="4.40" height="4.40" fill="none" stroke="#88dce6" stroke-width="0.9"/>
<line x1="596.15" y1="64.42" x2="596.15" y2="97.42" stroke="#88dce6" stroke-width="1.0"/>
<line x1="593.65" y1="64.42" x2="598.65" y2="64.42" stroke="#88dce6" stroke-width="1.0"/>
<line x1="593.65" y1="97.42" x2="598.65" y2="97.42" stroke="#88dce6" stroke-width="1.0"/>
<rect x="593.95" y="78.72" width="4.40" height="4.40" fill="none" stroke="#88dce6" stroke-width="0.9"/>
<line x1="628.50" y1="65.32" x2="628.50" y2="96.52" stroke="#88dce6" stroke-width="1.0"/>
<line x1="626.00" y1="65.32" x2="631.00" y2="65.32" stroke="#88dce6" stroke-width="1.0"/>
<line x1="626.00" y1="96.52" x2="631.00" y2="96.52" stroke="#88dce6" stroke-width="1.0"/>
<rect x="626.30" y="78.72" width="4.40" height="4.40" fill="none" stroke="#88dce6" stroke-width="0.9"/>
<line x1="660.85" y1="72.91" x2="660.85" y2="97.11" stroke="#88dce6" stroke-width="1.0"/>
<line x1="658.35" y1="72.91" x2="663.35" y2="72.91" stroke="#88dce6" stroke-width="1.0"/>
<line x1="658.35" y1="97.11" x2="663.35" y2="97.11" stroke="#88dce6" stroke-width="1.0"/>
<rect x="658.65" y="82.81" width="4.40" height="4.40" fill="none" stroke="#88dce6" stroke-width="0.9"/>
<line x1="693.20" y1="116.04" x2="693.20" y2="163.04" stroke="#88dce6" stroke-width="1.0"/>
<line x1="690.70" y1="116.04" x2="695.70" y2="116.04" stroke="#88dce6" stroke-width="1.0"/>
<line x1="690.70" y1="163.04" x2="695.70" y2="163.04" stroke="#88dce6" stroke-width="1.0"/>
<rect x="691.00" y="137.34" width="4.40" height="4.40" fill="none" stroke="#88dce6" stroke-width="0.9"/>
<line x1="725.55" y1="105.90" x2="725.55" y2="155.90" stroke="#88dce6" stroke-width="1.0"/>
<line x1="723.05" y1="105.90" x2="728.05" y2="105.90" stroke="#88dce6" stroke-width="1.0"/>
<line x1="723.05" y1="155.90" x2="728.05" y2="155.90" stroke="#88dce6" stroke-width="1.0"/>
<rect x="723.35" y="128.70" width="4.40" height="4.40" fill="none" stroke="#88dce6" stroke-width="0.9"/>
<line x1="757.90" y1="177.98" x2="757.90" y2="201.98" stroke="#88dce6" stroke-width="1.0"/>
<line x1="755.40" y1="177.98" x2="760.40" y2="177.98" stroke="#88dce6" stroke-width="1.0"/>
<line x1="755.40" y1="201.98" x2="760.40" y2="201.98" stroke="#88dce6" stroke-width="1.0"/>
<rect x="755.70" y="187.78" width="4.40" height="4.40" fill="none" stroke="#88dce6" stroke-width="0.9"/>
</g>
<g filter="url(#sb)">
<polyline points="502.10,200.88 534.45,196.34 566.80,140.90 599.15,106.37 631.50,84.10 663.85,100.46 696.20,165.89 728.55,214.06 760.90,195.43" fill="none" stroke="#8e70bc" stroke-width="1.0"/>
<line x1="502.10" y1="190.98" x2="502.10" y2="210.78" stroke="#8e70bc" stroke-width="1.0"/>
<line x1="499.60" y1="190.98" x2="504.60" y2="190.98" stroke="#8e70bc" stroke-width="1.0"/>
<line x1="499.60" y1="210.78" x2="504.60" y2="210.78" stroke="#8e70bc" stroke-width="1.0"/>
<path d="M502.10 198.24 L504.30 200.88 L502.10 203.52 L499.90 200.88 Z" fill="none" stroke="#8e70bc" stroke-width="0.9"/>
<line x1="534.45" y1="182.94" x2="534.45" y2="209.74" stroke="#8e70bc" stroke-width="1.0"/>
<line x1="531.95" y1="182.94" x2="536.95" y2="182.94" stroke="#8e70bc" stroke-width="1.0"/>
<line x1="531.95" y1="209.74" x2="536.95" y2="209.74" stroke="#8e70bc" stroke-width="1.0"/>
<path d="M534.45 193.70 L536.65 196.34 L534.45 198.98 L532.25 196.34 Z" fill="none" stroke="#8e70bc" stroke-width="0.9"/>
<line x1="566.80" y1="129.50" x2="566.80" y2="152.30" stroke="#8e70bc" stroke-width="1.0"/>
<line x1="564.30" y1="129.50" x2="569.30" y2="129.50" stroke="#8e70bc" stroke-width="1.0"/>
<line x1="564.30" y1="152.30" x2="569.30" y2="152.30" stroke="#8e70bc" stroke-width="1.0"/>
<path d="M566.80 138.26 L569.00 140.90 L566.80 143.54 L564.60 140.90 Z" fill="none" stroke="#8e70bc" stroke-width="0.9"/>
<line x1="599.15" y1="95.87" x2="599.15" y2="116.87" stroke="#8e70bc" stroke-width="1.0"/>
<line x1="596.65" y1="95.87" x2="601.65" y2="95.87" stroke="#8e70bc" stroke-width="1.0"/>
<line x1="596.65" y1="116.87" x2="601.65" y2="116.87" stroke="#8e70bc" stroke-width="1.0"/>
<path d="M599.15 103.73 L601.35 106.37 L599.15 109.01 L596.95 106.37 Z" fill="none" stroke="#8e70bc" stroke-width="0.9"/>
<line x1="631.50" y1="68.20" x2="631.50" y2="100.00" stroke="#8e70bc" stroke-width="1.0"/>
<line x1="629.00" y1="68.20" x2="634.00" y2="68.20" stroke="#8e70bc" stroke-width="1.0"/>
<line x1="629.00" y1="100.00" x2="634.00" y2="100.00" stroke="#8e70bc" stroke-width="1.0"/>
<path d="M631.50 81.46 L633.70 84.10 L631.50 86.74 L629.30 84.10 Z" fill="none" stroke="#8e70bc" stroke-width="0.9"/>
<line x1="663.85" y1="85.76" x2="663.85" y2="115.16" stroke="#8e70bc" stroke-width="1.0"/>
<line x1="661.35" y1="85.76" x2="666.35" y2="85.76" stroke="#8e70bc" stroke-width="1.0"/>
<line x1="661.35" y1="115.16" x2="666.35" y2="115.16" stroke="#8e70bc" stroke-width="1.0"/>
<path d="M663.85 97.82 L666.05 100.46 L663.85 103.10 L661.65 100.46 Z" fill="none" stroke="#8e70bc" stroke-width="0.9"/>
<line x1="696.20" y1="143.89" x2="696.20" y2="187.89" stroke="#8e70bc" stroke-width="1.0"/>
<line x1="693.70" y1="143.89" x2="698.70" y2="143.89" stroke="#8e70bc" stroke-width="1.0"/>
<line x1="693.70" y1="187.89" x2="698.70" y2="187.89" stroke="#8e70bc" stroke-width="1.0"/>
<path d="M696.20 163.25 L698.40 165.89 L696.20 168.53 L694.00 165.89 Z" fill="none" stroke="#8e70bc" stroke-width="0.9"/>
<line x1="728.55" y1="206.16" x2="728.55" y2="221.96" stroke="#8e70bc" stroke-width="1.0"/>
<line x1="726.05" y1="206.16" x2="731.05" y2="206.16" stroke="#8e70bc" stroke-width="1.0"/>
<line x1="726.05" y1="221.96" x2="731.05" y2="221.96" stroke="#8e70bc" stroke-width="1.0"/>
<path d="M728.55 211.42 L730.75 214.06 L728.55 216.70 L726.35 214.06 Z" fill="none" stroke="#8e70bc" stroke-width="0.9"/>
<line x1="760.90" y1="180.43" x2="760.90" y2="210.43" stroke="#8e70bc" stroke-width="1.0"/>
<line x1="758.40" y1="180.43" x2="763.40" y2="180.43" stroke="#8e70bc" stroke-width="1.0"/>
<line x1="758.40" y1="210.43" x2="763.40" y2="210.43" stroke="#8e70bc" stroke-width="1.0"/>
<path d="M760.90 192.79 L763.10 195.43 L760.90 198.07 L758.70 195.43 Z" fill="none" stroke="#8e70bc" stroke-width="0.9"/>
</g>
<g filter="url(#sb)">
<line x1="477.6" y1="34.60" x2="499.2" y2="34.60" stroke="#c46a78" stroke-width="1"/>
<circle cx="488.80" cy="34.60" r="2.30" fill="none" stroke="#c46a78" stroke-width="0.9"/>
</g>
<text x="501.00" y="37.37" font-size="7.7" text-anchor="start" font-weight="normal" fill="#1a1a1a" stroke="#1a1a1a" stroke-width="0.22" textLength="11.31" lengthAdjust="spacingAndGlyphs" >100</text>
<g filter="url(#sb)">
<line x1="477.6" y1="44.55" x2="499.2" y2="44.55" stroke="#c8e47c" stroke-width="1"/>
<path d="M488.80 42.02 L491.10 46.39 L486.50 46.39 Z" fill="none" stroke="#c8e47c" stroke-width="0.9"/>
</g>
<text x="501.00" y="47.32" font-size="7.7" text-anchor="start" font-weight="normal" fill="#1a1a1a" stroke="#1a1a1a" stroke-width="0.22" textLength="11.31" lengthAdjust="spacingAndGlyphs" >200</text>
<g filter="url(#sb)">
<line x1="477.6" y1="54.50" x2="499.2" y2="54.50" stroke="#88dce6" stroke-width="1"/>
<rect x="486.50" y="52.20" width="4.60" height="4.60" fill="none" stroke="#88dce6" stroke-width="0.9"/>
</g>
<text x="501.00" y="57.27" font-size="7.7" text-anchor="start" font-weight="normal" fill="#1a1a1a" stroke="#1a1a1a" stroke-width="0.22" textLength="11.31" lengthAdjust="spacingAndGlyphs" >400</text>
<g filter="url(#sb)">
<line x1="477.6" y1="64.45" x2="499.2" y2="64.45" stroke="#8e70bc" stroke-width="1"/>
<path d="M488.80 61.69 L491.10 64.45 L488.80 67.21 L486.50 64.45 Z" fill="none" stroke="#8e70bc" stroke-width="0.9"/>
</g>
<text x="501.00" y="67.22" font-size="7.7" text-anchor="start" font-weight="normal" fill="#1a1a1a" stroke="#1a1a1a" stroke-width="0.22" textLength="23.35" lengthAdjust="spacingAndGlyphs" >Smooth</text>
</svg>
</body></html>
